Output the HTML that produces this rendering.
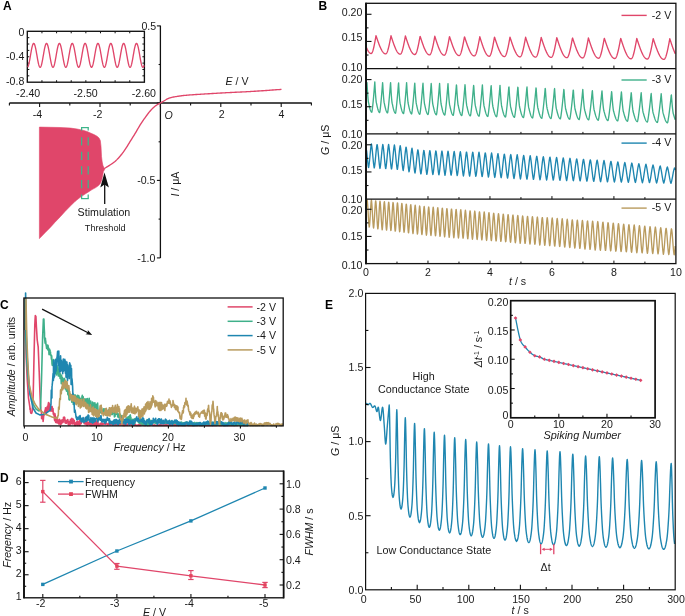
<!DOCTYPE html>
<html><head><meta charset="utf-8"><style>
html,body{margin:0;padding:0;background:#fff;}
svg{display:block;font-family:"Liberation Sans",sans-serif;will-change:transform;}
</style></head><body>
<svg width="685" height="616" viewBox="0 0 685 616">
<rect width="685" height="616" fill="#fff"/>
<text x="3" y="9.8" font-size="12" text-anchor="start" fill="#000" style="font-weight:bold;">A</text>
<line x1="9.4" y1="103" x2="311.7" y2="103" stroke="#111" stroke-width="1.4"/>
<line x1="160.4" y1="25.6" x2="160.4" y2="258" stroke="#111" stroke-width="1.3"/>
<line x1="9.4" y1="103" x2="9.4" y2="105.6" stroke="#111" stroke-width="1.1"/>
<line x1="39.6" y1="103" x2="39.6" y2="107" stroke="#111" stroke-width="1.1"/>
<line x1="69.8" y1="103" x2="69.8" y2="105.6" stroke="#111" stroke-width="1.1"/>
<line x1="100" y1="103" x2="100" y2="107" stroke="#111" stroke-width="1.1"/>
<line x1="130.2" y1="103" x2="130.2" y2="105.6" stroke="#111" stroke-width="1.1"/>
<line x1="160.4" y1="103" x2="160.4" y2="107" stroke="#111" stroke-width="1.1"/>
<line x1="190.6" y1="103" x2="190.6" y2="105.6" stroke="#111" stroke-width="1.1"/>
<line x1="220.8" y1="103" x2="220.8" y2="107" stroke="#111" stroke-width="1.1"/>
<line x1="251" y1="103" x2="251" y2="105.6" stroke="#111" stroke-width="1.1"/>
<line x1="281.2" y1="103" x2="281.2" y2="107" stroke="#111" stroke-width="1.1"/>
<line x1="311.4" y1="103" x2="311.4" y2="105.6" stroke="#111" stroke-width="1.1"/>
<text x="37.5" y="118.4" font-size="10.6" text-anchor="middle" fill="#1a1a1a" style="">-4</text>
<text x="97.6" y="118.4" font-size="10.6" text-anchor="middle" fill="#1a1a1a" style="">-2</text>
<text x="221.6" y="118.4" font-size="10.6" text-anchor="middle" fill="#1a1a1a" style="">2</text>
<text x="281.4" y="118.4" font-size="10.6" text-anchor="middle" fill="#1a1a1a" style="">4</text>
<line x1="156.9" y1="25.9" x2="160.4" y2="25.9" stroke="#111" stroke-width="1.1"/>
<line x1="158.6" y1="64.5" x2="160.4" y2="64.5" stroke="#111" stroke-width="1.1"/>
<line x1="156.9" y1="103" x2="160.4" y2="103" stroke="#111" stroke-width="1.1"/>
<line x1="158.6" y1="141.8" x2="160.4" y2="141.8" stroke="#111" stroke-width="1.1"/>
<line x1="156.9" y1="180.4" x2="160.4" y2="180.4" stroke="#111" stroke-width="1.1"/>
<line x1="158.6" y1="219.1" x2="160.4" y2="219.1" stroke="#111" stroke-width="1.1"/>
<line x1="156.9" y1="257.9" x2="160.4" y2="257.9" stroke="#111" stroke-width="1.1"/>
<text x="156.2" y="29.7" font-size="10.6" text-anchor="end" fill="#1a1a1a" style="">0.5</text>
<text x="155.4" y="184.2" font-size="10.6" text-anchor="end" fill="#1a1a1a" style="">-0.5</text>
<text x="155.4" y="262" font-size="10.6" text-anchor="end" fill="#1a1a1a" style="">-1.0</text>
<text x="164.6" y="119.4" font-size="10.6" text-anchor="start" fill="#1a1a1a" style="font-style:italic;">O</text>
<text x="225.5" y="84.7" font-size="10.6" text-anchor="start" fill="#1a1a1a" style=""><tspan style="font-style:italic">E</tspan> / V</text>
<text x="0" y="0" font-size="10.6" text-anchor="middle" fill="#1a1a1a" style="" transform="translate(179.4,184.1) rotate(-90)"><tspan style="font-style:italic">I</tspan> / μA</text>
<text x="77.6" y="216" font-size="10.65" text-anchor="start" fill="#1a1a1a" style="">Stimulation</text>
<text x="84.8" y="231.1" font-size="9.2" text-anchor="start" fill="#1a1a1a" style="">Threshold</text>
<path d="M39.4 127.1 L50.3 127.3 L60 127.5 L70.6 128.1 L77 129 L82.8 130.2 L87 131.5 L90.9 133.2 L94 134.6 L97 136.2 L99 138 L100.3 140.5 L101 146.4 L101.5 156.5 L102.2 162 L102.9 165.3 L103.8 167.6 L104.6 168.6 L104.6 169.5 L103.4 171.5 L102.8 175 L101.8 179.5 L100.5 183.2 L98.5 185.6 L95.7 187.6 L92 189.6 L88.8 191.7 L85 194.1 L81.2 196.6 L78 199 L75 201.4 L70.6 205.8 L65 211.5 L60.5 216.5 L55 222.2 L50.3 227.4 L45 232.8 L40.2 237.8 L39.4 238.6 Z" fill="#E0466A" stroke="#E0466A" stroke-width="0.6" stroke-linejoin="round"/>
<path d="M104.2 168.6 L104.85 168.21 L106 167.5 L106.64 167.11 L107.39 166.65 L108.22 166.15 L109.1 165.59 L110 165 L110.78 164.48 L111.59 163.94 L112.44 163.36 L113.3 162.75 L114.16 162.1 L115 161.4 L115.83 160.65 L116.67 159.87 L117.5 159.04 L118.33 158.17 L119.17 157.25 L120 156.3 L120.83 155.3 L121.67 154.26 L122.5 153.18 L123.33 152.06 L124.17 150.9 L125 149.7 L125.83 148.45 L126.67 147.14 L127.5 145.79 L128.33 144.42 L129.17 143.05 L130 141.7 L130.83 140.37 L131.67 139.05 L132.5 137.73 L133.33 136.4 L134.17 135.06 L135 133.7 L135.83 132.3 L136.67 130.86 L137.5 129.41 L138.33 127.97 L139.17 126.56 L140 125.2 L140.83 123.89 L141.67 122.62 L142.5 121.38 L143.33 120.17 L144.17 118.97 L145 117.8 L145.83 116.64 L146.67 115.48 L147.5 114.35 L148.33 113.25 L149.17 112.2 L150 111.2 L150.83 110.25 L151.65 109.35 L152.47 108.49 L153.3 107.67 L154.14 106.91 L155 106.2 L155.89 105.56 L156.8 104.98 L157.73 104.46 L158.64 103.96 L159.54 103.48 L160.4 103 L161.41 102.41 L162.41 101.82 L163.36 101.26 L164.24 100.75 L165 100.3 L165.89 99.73 L166.51 99.31 L167.3 98.9 L168.11 98.56 L169.02 98.22 L169.99 97.89 L171 97.6 L171.83 97.39 L172.7 97.2 L173.59 97.03 L174.5 96.86 L175.4 96.7 L176.29 96.55 L177.17 96.41 L178.07 96.27 L179.01 96.14 L180 96 L180.84 95.88 L181.69 95.77 L182.56 95.65 L183.49 95.53 L184.53 95.42 L185.7 95.3 L186.48 95.23 L187.3 95.16 L188.17 95.09 L189.07 95.02 L190.01 94.95 L190.98 94.88 L191.96 94.81 L192.97 94.74 L193.98 94.67 L195 94.6 L195.87 94.54 L196.76 94.48 L197.68 94.42 L198.61 94.36 L199.56 94.3 L200.51 94.24 L201.47 94.18 L202.42 94.13 L203.37 94.07 L204.3 94.01 L205.21 93.95 L206.1 93.9 L207.14 93.84 L208.15 93.77 L209.14 93.71 L210.11 93.65 L211.08 93.59 L212.05 93.54 L213.02 93.48 L213.99 93.42 L214.99 93.36 L216 93.3 L216.94 93.25 L217.89 93.19 L218.85 93.13 L219.81 93.08 L220.78 93.02 L221.76 92.97 L222.73 92.91 L223.7 92.86 L224.68 92.8 L225.64 92.75 L226.6 92.7 L227.55 92.65 L228.51 92.6 L229.46 92.56 L230.41 92.51 L231.36 92.47 L232.31 92.42 L233.26 92.38 L234.2 92.33 L235.14 92.29 L236.07 92.25 L237 92.2 L237.92 92.15 L238.84 92.11 L239.76 92.07 L240.67 92.02 L241.57 91.98 L242.48 91.93 L243.38 91.89 L244.28 91.84 L245.19 91.8 L246.09 91.75 L247 91.7 L247.91 91.65 L248.81 91.6 L249.71 91.55 L250.62 91.49 L251.52 91.44 L252.42 91.39 L253.33 91.33 L254.24 91.27 L255.15 91.22 L256.07 91.16 L257 91.1 L257.95 91.04 L258.93 90.98 L259.94 90.91 L260.95 90.84 L261.96 90.78 L262.97 90.71 L263.96 90.64 L264.91 90.58 L265.83 90.52 L266.69 90.46 L267.5 90.4 L268.63 90.32 L269.62 90.24 L270.51 90.17 L271.35 90.1 L272.19 90.04 L273.05 89.97 L274 89.9 L274.94 89.83 L275.98 89.76 L277.07 89.69 L278.16 89.62 L279.19 89.55 L280.13 89.49 L280.91 89.44 L281.5 89.4" fill="none" stroke="#E0466A" stroke-width="1.35" stroke-linejoin="round"/>
<line x1="81" y1="127.6" x2="88.8" y2="127.6" stroke="#3DB58A" stroke-width="1.25"/>
<line x1="81" y1="198.6" x2="88.8" y2="198.6" stroke="#3DB58A" stroke-width="1.25"/>
<line x1="81.6" y1="127.6" x2="81.6" y2="130.6" stroke="#3DB58A" stroke-width="1.25"/>
<line x1="88.2" y1="127.6" x2="88.2" y2="130.6" stroke="#3DB58A" stroke-width="1.25"/>
<line x1="81.6" y1="137.2" x2="81.6" y2="145.5" stroke="#3DB58A" stroke-width="1.25"/>
<line x1="88.2" y1="137.2" x2="88.2" y2="145.5" stroke="#3DB58A" stroke-width="1.25"/>
<line x1="81.6" y1="151.7" x2="81.6" y2="160" stroke="#3DB58A" stroke-width="1.25"/>
<line x1="88.2" y1="151.7" x2="88.2" y2="160" stroke="#3DB58A" stroke-width="1.25"/>
<line x1="81.6" y1="166.2" x2="81.6" y2="174.5" stroke="#3DB58A" stroke-width="1.25"/>
<line x1="88.2" y1="166.2" x2="88.2" y2="174.5" stroke="#3DB58A" stroke-width="1.25"/>
<line x1="81.6" y1="180" x2="81.6" y2="188.3" stroke="#3DB58A" stroke-width="1.25"/>
<line x1="88.2" y1="180" x2="88.2" y2="188.3" stroke="#3DB58A" stroke-width="1.25"/>
<line x1="81.6" y1="194.5" x2="81.6" y2="198.6" stroke="#3DB58A" stroke-width="1.25"/>
<line x1="88.2" y1="194.5" x2="88.2" y2="198.6" stroke="#3DB58A" stroke-width="1.25"/>
<line x1="104.7" y1="180" x2="104.7" y2="204" stroke="#111" stroke-width="1.3"/>
<path d="M104.5 172.6 L108.9 187.4 L104.5 184.4 L100.3 187.4 Z" fill="#111"/>
<rect x="27.3" y="31.3" width="117.1" height="50.9" stroke="#111" stroke-width="1.35" fill="none"/>
<line x1="41.94" y1="31.3" x2="41.94" y2="33.3" stroke="#111" stroke-width="1"/>
<line x1="41.94" y1="82.2" x2="41.94" y2="80.2" stroke="#111" stroke-width="1"/>
<line x1="27.3" y1="37.66" x2="29.3" y2="37.66" stroke="#111" stroke-width="1"/>
<line x1="144.4" y1="37.66" x2="142.4" y2="37.66" stroke="#111" stroke-width="1"/>
<line x1="56.58" y1="31.3" x2="56.58" y2="33.3" stroke="#111" stroke-width="1"/>
<line x1="56.58" y1="82.2" x2="56.58" y2="80.2" stroke="#111" stroke-width="1"/>
<line x1="27.3" y1="44.03" x2="29.3" y2="44.03" stroke="#111" stroke-width="1"/>
<line x1="144.4" y1="44.03" x2="142.4" y2="44.03" stroke="#111" stroke-width="1"/>
<line x1="71.21" y1="31.3" x2="71.21" y2="33.3" stroke="#111" stroke-width="1"/>
<line x1="71.21" y1="82.2" x2="71.21" y2="80.2" stroke="#111" stroke-width="1"/>
<line x1="27.3" y1="50.39" x2="29.3" y2="50.39" stroke="#111" stroke-width="1"/>
<line x1="144.4" y1="50.39" x2="142.4" y2="50.39" stroke="#111" stroke-width="1"/>
<line x1="85.85" y1="31.3" x2="85.85" y2="33.3" stroke="#111" stroke-width="1"/>
<line x1="85.85" y1="82.2" x2="85.85" y2="80.2" stroke="#111" stroke-width="1"/>
<line x1="27.3" y1="56.75" x2="29.3" y2="56.75" stroke="#111" stroke-width="1"/>
<line x1="144.4" y1="56.75" x2="142.4" y2="56.75" stroke="#111" stroke-width="1"/>
<line x1="100.49" y1="31.3" x2="100.49" y2="33.3" stroke="#111" stroke-width="1"/>
<line x1="100.49" y1="82.2" x2="100.49" y2="80.2" stroke="#111" stroke-width="1"/>
<line x1="27.3" y1="63.11" x2="29.3" y2="63.11" stroke="#111" stroke-width="1"/>
<line x1="144.4" y1="63.11" x2="142.4" y2="63.11" stroke="#111" stroke-width="1"/>
<line x1="115.12" y1="31.3" x2="115.12" y2="33.3" stroke="#111" stroke-width="1"/>
<line x1="115.12" y1="82.2" x2="115.12" y2="80.2" stroke="#111" stroke-width="1"/>
<line x1="27.3" y1="69.48" x2="29.3" y2="69.48" stroke="#111" stroke-width="1"/>
<line x1="144.4" y1="69.48" x2="142.4" y2="69.48" stroke="#111" stroke-width="1"/>
<line x1="129.76" y1="31.3" x2="129.76" y2="33.3" stroke="#111" stroke-width="1"/>
<line x1="129.76" y1="82.2" x2="129.76" y2="80.2" stroke="#111" stroke-width="1"/>
<line x1="27.3" y1="75.84" x2="29.3" y2="75.84" stroke="#111" stroke-width="1"/>
<line x1="144.4" y1="75.84" x2="142.4" y2="75.84" stroke="#111" stroke-width="1"/>
<text x="24.3" y="36" font-size="10.6" text-anchor="end" fill="#1a1a1a" style="">0</text>
<text x="24.3" y="60.3" font-size="10.6" text-anchor="end" fill="#1a1a1a" style="">-0.4</text>
<text x="24.3" y="84.6" font-size="10.6" text-anchor="end" fill="#1a1a1a" style="">-0.8</text>
<text x="28.2" y="96.5" font-size="10.6" text-anchor="middle" fill="#1a1a1a" style="">-2.40</text>
<text x="85.6" y="96.5" font-size="10.6" text-anchor="middle" fill="#1a1a1a" style="">-2.50</text>
<text x="143.9" y="96.5" font-size="10.6" text-anchor="middle" fill="#1a1a1a" style="">-2.60</text>
<path d="M27.6 67.15 L27.85 66.83 L28.1 66.34 L28.35 65.69 L28.6 64.88 L28.85 63.93 L29.1 62.85 L29.35 61.66 L29.6 60.37 L29.85 59.01 L30.1 57.6 L30.35 56.15 L30.6 54.69 L30.85 53.24 L31.1 51.82 L31.35 50.46 L31.6 49.17 L31.85 47.96 L32.1 46.87 L32.35 45.91 L32.6 45.09 L32.85 44.42 L33.1 43.91 L33.35 43.57 L33.6 43.41 L33.85 43.43 L34.1 43.63 L34.35 44 L34.6 44.54 L34.85 45.24 L35.1 46.09 L35.35 47.08 L35.6 48.2 L35.85 49.42 L36.1 50.73 L36.35 52.1 L36.6 53.53 L36.85 54.98 L37.1 56.44 L37.35 57.89 L37.6 59.29 L37.85 60.64 L38.1 61.91 L38.35 63.07 L38.6 64.13 L38.85 65.05 L39.1 65.83 L39.35 66.45 L39.6 66.91 L39.85 67.19 L40.1 67.3 L40.35 67.23 L40.6 66.98 L40.85 66.56 L41.1 65.97 L41.35 65.22 L41.6 64.32 L41.85 63.3 L42.1 62.15 L42.35 60.9 L42.6 59.57 L42.85 58.17 L43.1 56.73 L43.35 55.28 L43.6 53.82 L43.85 52.39 L44.1 51 L44.35 49.67 L44.6 48.43 L44.85 47.3 L45.1 46.28 L45.35 45.4 L45.6 44.67 L45.85 44.09 L46.1 43.69 L46.35 43.46 L46.6 43.4 L46.85 43.53 L47.1 43.83 L47.35 44.3 L47.6 44.94 L47.85 45.73 L48.1 46.67 L48.35 47.74 L48.6 48.92 L48.85 50.19 L49.1 51.55 L49.35 52.96 L49.6 54.4 L49.85 55.86 L50.1 57.31 L50.35 58.74 L50.6 60.11 L50.85 61.41 L51.1 62.62 L51.35 63.72 L51.6 64.7 L51.85 65.54 L52.1 66.22 L52.35 66.75 L52.6 67.1 L52.85 67.28 L53.1 67.28 L53.35 67.1 L53.6 66.75 L53.85 66.22 L54.1 65.54 L54.35 64.7 L54.6 63.72 L54.85 62.62 L55.1 61.41 L55.35 60.11 L55.6 58.74 L55.85 57.31 L56.1 55.86 L56.35 54.4 L56.6 52.96 L56.85 51.55 L57.1 50.19 L57.35 48.92 L57.6 47.74 L57.85 46.67 L58.1 45.73 L58.35 44.94 L58.6 44.3 L58.85 43.83 L59.1 43.53 L59.35 43.4 L59.6 43.46 L59.85 43.69 L60.1 44.09 L60.35 44.67 L60.6 45.4 L60.85 46.28 L61.1 47.3 L61.35 48.43 L61.6 49.67 L61.85 51 L62.1 52.39 L62.35 53.82 L62.6 55.28 L62.85 56.73 L63.1 58.17 L63.35 59.57 L63.6 60.9 L63.85 62.15 L64.1 63.3 L64.35 64.32 L64.6 65.22 L64.85 65.97 L65.1 66.56 L65.35 66.98 L65.6 67.23 L65.85 67.3 L66.1 67.19 L66.35 66.91 L66.6 66.45 L66.85 65.83 L67.1 65.05 L67.35 64.13 L67.6 63.07 L67.85 61.91 L68.1 60.64 L68.35 59.29 L68.6 57.89 L68.85 56.44 L69.1 54.98 L69.35 53.53 L69.6 52.1 L69.85 50.73 L70.1 49.42 L70.35 48.2 L70.6 47.08 L70.85 46.09 L71.1 45.24 L71.35 44.54 L71.6 44 L71.85 43.63 L72.1 43.43 L72.35 43.41 L72.6 43.57 L72.85 43.91 L73.1 44.42 L73.35 45.09 L73.6 45.91 L73.85 46.87 L74.1 47.96 L74.35 49.17 L74.6 50.46 L74.85 51.82 L75.1 53.24 L75.35 54.69 L75.6 56.15 L75.85 57.6 L76.1 59.01 L76.35 60.37 L76.6 61.66 L76.85 62.85 L77.1 63.93 L77.35 64.88 L77.6 65.69 L77.85 66.34 L78.1 66.83 L78.35 67.15 L78.6 67.29 L78.85 67.26 L79.1 67.04 L79.35 66.66 L79.6 66.1 L79.85 65.38 L80.1 64.51 L80.35 63.51 L80.6 62.39 L80.85 61.16 L81.1 59.84 L81.35 58.45 L81.6 57.02 L81.85 55.57 L82.1 54.11 L82.35 52.67 L82.6 51.27 L82.85 49.93 L83.1 48.67 L83.35 47.51 L83.6 46.47 L83.85 45.56 L84.1 44.8 L84.35 44.19 L84.6 43.76 L84.85 43.49 L85.1 43.4 L85.35 43.49 L85.6 43.76 L85.85 44.19 L86.1 44.8 L86.35 45.56 L86.6 46.47 L86.85 47.51 L87.1 48.67 L87.35 49.93 L87.6 51.27 L87.85 52.67 L88.1 54.11 L88.35 55.57 L88.6 57.02 L88.85 58.45 L89.1 59.84 L89.35 61.16 L89.6 62.39 L89.85 63.51 L90.1 64.51 L90.35 65.38 L90.6 66.1 L90.85 66.66 L91.1 67.04 L91.35 67.26 L91.6 67.29 L91.85 67.15 L92.1 66.83 L92.35 66.34 L92.6 65.69 L92.85 64.88 L93.1 63.93 L93.35 62.85 L93.6 61.66 L93.85 60.37 L94.1 59.01 L94.35 57.6 L94.6 56.15 L94.85 54.69 L95.1 53.24 L95.35 51.82 L95.6 50.46 L95.85 49.17 L96.1 47.96 L96.35 46.87 L96.6 45.91 L96.85 45.09 L97.1 44.42 L97.35 43.91 L97.6 43.57 L97.85 43.41 L98.1 43.43 L98.35 43.63 L98.6 44 L98.85 44.54 L99.1 45.24 L99.35 46.09 L99.6 47.08 L99.85 48.2 L100.1 49.42 L100.35 50.73 L100.6 52.1 L100.85 53.53 L101.1 54.98 L101.35 56.44 L101.6 57.89 L101.85 59.29 L102.1 60.64 L102.35 61.91 L102.6 63.07 L102.85 64.13 L103.1 65.05 L103.35 65.83 L103.6 66.45 L103.85 66.91 L104.1 67.19 L104.35 67.3 L104.6 67.23 L104.85 66.98 L105.1 66.56 L105.35 65.97 L105.6 65.22 L105.85 64.32 L106.1 63.3 L106.35 62.15 L106.6 60.9 L106.85 59.57 L107.1 58.17 L107.35 56.73 L107.6 55.28 L107.85 53.82 L108.1 52.39 L108.35 51 L108.6 49.67 L108.85 48.43 L109.1 47.3 L109.35 46.28 L109.6 45.4 L109.85 44.67 L110.1 44.09 L110.35 43.69 L110.6 43.46 L110.85 43.4 L111.1 43.53 L111.35 43.83 L111.6 44.3 L111.85 44.94 L112.1 45.73 L112.35 46.67 L112.6 47.74 L112.85 48.92 L113.1 50.19 L113.35 51.55 L113.6 52.96 L113.85 54.4 L114.1 55.86 L114.35 57.31 L114.6 58.74 L114.85 60.11 L115.1 61.41 L115.35 62.62 L115.6 63.72 L115.85 64.7 L116.1 65.54 L116.35 66.22 L116.6 66.75 L116.85 67.1 L117.1 67.28 L117.35 67.28 L117.6 67.1 L117.85 66.75 L118.1 66.22 L118.35 65.54 L118.6 64.7 L118.85 63.72 L119.1 62.62 L119.35 61.41 L119.6 60.11 L119.85 58.74 L120.1 57.31 L120.35 55.86 L120.6 54.4 L120.85 52.96 L121.1 51.55 L121.35 50.19 L121.6 48.92 L121.85 47.74 L122.1 46.67 L122.35 45.73 L122.6 44.94 L122.85 44.3 L123.1 43.83 L123.35 43.53 L123.6 43.4 L123.85 43.46 L124.1 43.69 L124.35 44.09 L124.6 44.67 L124.85 45.4 L125.1 46.28 L125.35 47.3 L125.6 48.43 L125.85 49.67 L126.1 51 L126.35 52.39 L126.6 53.82 L126.85 55.28 L127.1 56.73 L127.35 58.17 L127.6 59.57 L127.85 60.9 L128.1 62.15 L128.35 63.3 L128.6 64.32 L128.85 65.22 L129.1 65.97 L129.35 66.56 L129.6 66.98 L129.85 67.23 L130.1 67.3 L130.35 67.19 L130.6 66.91 L130.85 66.45 L131.1 65.83 L131.35 65.05 L131.6 64.13 L131.85 63.07 L132.1 61.91 L132.35 60.64 L132.6 59.29 L132.85 57.89 L133.1 56.44 L133.35 54.98 L133.6 53.53 L133.85 52.1 L134.1 50.73 L134.35 49.42 L134.6 48.2 L134.85 47.08 L135.1 46.09 L135.35 45.24 L135.6 44.54 L135.85 44 L136.1 43.63 L136.35 43.43 L136.6 43.41 L136.85 43.57 L137.1 43.91 L137.35 44.42 L137.6 45.09 L137.85 45.91 L138.1 46.87 L138.35 47.96 L138.6 49.17 L138.85 50.46 L139.1 51.82 L139.35 53.24 L139.6 54.69 L139.85 56.15 L140.1 57.6 L140.35 59.01 L140.6 60.37 L140.85 61.66 L141.1 62.85 L141.35 63.93 L141.6 64.88 L141.85 65.69 L142.1 66.34 L142.35 66.83 L142.6 67.15 L142.85 67.29 L143.1 67.26 L143.35 67.04 L143.6 66.66 L143.85 66.1 L144.1 65.38" fill="none" stroke="#E0466A" stroke-width="1.35" stroke-linejoin="round"/>
<text x="318.6" y="10" font-size="12" text-anchor="start" fill="#000" style="font-weight:bold;">B</text>
<path d="M366.6 47.82 L366.8 48.28 L367 48.73 L367.2 49.16 L367.4 49.58 L367.6 49.97 L367.8 50.35 L368 50.71 L368.2 51.04 L368.4 51.36 L368.6 51.66 L368.8 51.94 L369 52.19 L369.2 52.43 L369.4 52.64 L369.6 52.83 L369.8 52.99 L370 53.14 L370.2 53.26 L370.4 53.36 L370.6 53.43 L370.8 53.48 L371 53.51 L371.2 53.51 L371.4 53.44 L371.6 53.3 L371.8 53.09 L372 52.8 L372.2 52.44 L372.4 52.02 L372.6 51.52 L372.8 50.96 L373 50.34 L373.2 49.65 L373.4 48.91 L373.6 48.11 L373.8 47.26 L374 46.36 L374.2 45.42 L374.4 44.43 L374.6 43.41 L374.8 42.36 L375 41.28 L375.2 40.17 L375.4 39.05 L375.6 37.91 L375.8 36.76 L376 35.61 L376.2 36.2 L376.4 36.8 L376.6 37.39 L376.8 37.97 L377 38.56 L377.2 39.14 L377.4 39.72 L377.6 40.3 L377.8 40.87 L378 41.43 L378.2 41.99 L378.4 42.55 L378.6 43.09 L378.8 43.63 L379 44.16 L379.2 44.68 L379.4 45.19 L379.6 45.69 L379.8 46.18 L380 46.66 L380.2 47.12 L380.4 47.58 L380.6 48.02 L380.8 48.45 L381 48.86 L381.2 49.26 L381.4 49.65 L381.6 50.02 L381.8 50.38 L382 50.72 L382.2 51.05 L382.4 51.36 L382.6 51.65 L382.8 51.92 L383 52.18 L383.2 52.42 L383.4 52.64 L383.6 52.85 L383.8 53.03 L384 53.2 L384.2 53.35 L384.4 53.48 L384.6 53.59 L384.8 53.68 L385 53.75 L385.2 53.81 L385.4 53.84 L385.6 53.85 L385.8 53.83 L386 53.74 L386.2 53.59 L386.4 53.38 L386.6 53.11 L386.8 52.79 L387 52.4 L387.2 51.96 L387.4 51.46 L387.6 50.91 L387.8 50.31 L388 49.66 L388.2 48.96 L388.4 48.22 L388.6 47.43 L388.8 46.61 L389 45.74 L389.2 44.85 L389.4 43.92 L389.6 42.97 L389.8 41.99 L390 40.98 L390.2 39.97 L390.4 38.93 L390.6 37.89 L390.8 36.84 L391 35.78 L391.2 36.4 L391.4 37.02 L391.6 37.65 L391.8 38.26 L392 38.88 L392.2 39.49 L392.4 40.1 L392.6 40.7 L392.8 41.3 L393 41.89 L393.2 42.48 L393.4 43.06 L393.6 43.63 L393.8 44.19 L394 44.74 L394.2 45.28 L394.4 45.81 L394.6 46.32 L394.8 46.83 L395 47.32 L395.2 47.8 L395.4 48.27 L395.6 48.72 L395.8 49.16 L396 49.58 L396.2 49.99 L396.4 50.37 L396.6 50.75 L396.8 51.1 L397 51.44 L397.2 51.76 L397.4 52.06 L397.6 52.34 L397.8 52.61 L398 52.85 L398.2 53.08 L398.4 53.28 L398.6 53.46 L398.8 53.63 L399 53.77 L399.2 53.89 L399.4 54 L399.6 54.08 L399.8 54.14 L400 54.17 L400.2 54.19 L400.4 54.17 L400.6 54.08 L400.8 53.92 L401 53.7 L401.2 53.41 L401.4 53.05 L401.6 52.64 L401.8 52.16 L402 51.62 L402.2 51.02 L402.4 50.37 L402.6 49.67 L402.8 48.91 L403 48.11 L403.2 47.26 L403.4 46.37 L403.6 45.44 L403.8 44.48 L404 43.48 L404.2 42.46 L404.4 41.41 L404.6 40.34 L404.8 39.25 L405 38.16 L405.2 37.05 L405.4 35.94 L405.6 36.56 L405.8 37.17 L406 37.79 L406.2 38.4 L406.4 39.01 L406.6 39.61 L406.8 40.22 L407 40.81 L407.2 41.41 L407.4 41.99 L407.6 42.57 L407.8 43.14 L408 43.71 L408.2 44.27 L408.4 44.81 L408.6 45.35 L408.8 45.88 L409 46.39 L409.2 46.9 L409.4 47.39 L409.6 47.87 L409.8 48.34 L410 48.79 L410.2 49.23 L410.4 49.66 L410.6 50.07 L410.8 50.46 L411 50.84 L411.2 51.2 L411.4 51.54 L411.6 51.87 L411.8 52.18 L412 52.47 L412.2 52.75 L412.4 53 L412.6 53.24 L412.8 53.45 L413 53.65 L413.2 53.83 L413.4 53.99 L413.6 54.13 L413.8 54.24 L414 54.34 L414.2 54.42 L414.4 54.48 L414.6 54.51 L414.8 54.53 L415 54.5 L415.2 54.41 L415.4 54.26 L415.6 54.04 L415.8 53.76 L416 53.41 L416.2 53 L416.4 52.54 L416.6 52.01 L416.8 51.43 L417 50.8 L417.2 50.11 L417.4 49.37 L417.6 48.59 L417.8 47.76 L418 46.89 L418.2 45.99 L418.4 45.04 L418.6 44.07 L418.8 43.07 L419 42.04 L419.2 40.99 L419.4 39.92 L419.6 38.84 L419.8 37.75 L420 36.65 L420.2 36.42 L420.4 37.04 L420.6 37.66 L420.8 38.28 L421 38.89 L421.2 39.51 L421.4 40.12 L421.6 40.72 L421.8 41.32 L422 41.92 L422.2 42.51 L422.4 43.09 L422.6 43.66 L422.8 44.23 L423 44.79 L423.2 45.33 L423.4 45.87 L423.6 46.4 L423.8 46.91 L424 47.42 L424.2 47.91 L424.4 48.39 L424.6 48.85 L424.8 49.3 L425 49.74 L425.2 50.16 L425.4 50.57 L425.6 50.96 L425.8 51.33 L426 51.69 L426.2 52.02 L426.4 52.35 L426.6 52.65 L426.8 52.93 L427 53.2 L427.2 53.45 L427.4 53.68 L427.6 53.89 L427.8 54.08 L428 54.25 L428.2 54.4 L428.4 54.53 L428.6 54.63 L428.8 54.72 L429 54.79 L429.2 54.84 L429.4 54.86 L429.6 54.86 L429.8 54.81 L430 54.68 L430.2 54.49 L430.4 54.24 L430.6 53.92 L430.8 53.54 L431 53.1 L431.2 52.6 L431.4 52.04 L431.6 51.43 L431.8 50.76 L432 50.04 L432.2 49.28 L432.4 48.46 L432.6 47.6 L432.8 46.71 L433 45.77 L433.2 44.8 L433.4 43.81 L433.6 42.78 L433.8 41.73 L434 40.66 L434.2 39.58 L434.4 38.48 L434.6 37.38 L434.8 36.27 L435 36.9 L435.2 37.52 L435.4 38.15 L435.6 38.77 L435.8 39.39 L436 40.01 L436.2 40.63 L436.4 41.24 L436.6 41.84 L436.8 42.44 L437 43.03 L437.2 43.61 L437.4 44.19 L437.6 44.75 L437.8 45.31 L438 45.86 L438.2 46.4 L438.4 46.92 L438.6 47.44 L438.8 47.94 L439 48.43 L439.2 48.9 L439.4 49.37 L439.6 49.81 L439.8 50.25 L440 50.66 L440.2 51.06 L440.4 51.45 L440.6 51.82 L440.8 52.17 L441 52.5 L441.2 52.82 L441.4 53.12 L441.6 53.39 L441.8 53.65 L442 53.89 L442.2 54.12 L442.4 54.32 L442.6 54.5 L442.8 54.66 L443 54.8 L443.2 54.92 L443.4 55.02 L443.6 55.1 L443.8 55.16 L444 55.19 L444.2 55.21 L444.4 55.18 L444.6 55.09 L444.8 54.93 L445 54.71 L445.2 54.42 L445.4 54.07 L445.6 53.66 L445.8 53.18 L446 52.65 L446.2 52.05 L446.4 51.41 L446.6 50.71 L446.8 49.96 L447 49.16 L447.2 48.31 L447.4 47.43 L447.6 46.5 L447.8 45.54 L448 44.55 L448.2 43.53 L448.4 42.48 L448.6 41.41 L448.8 40.32 L449 39.22 L449.2 38.11 L449.4 36.99 L449.6 36.75 L449.8 37.37 L450 37.99 L450.2 38.6 L450.4 39.22 L450.6 39.83 L450.8 40.44 L451 41.05 L451.2 41.65 L451.4 42.24 L451.6 42.83 L451.8 43.42 L452 43.99 L452.2 44.56 L452.4 45.12 L452.6 45.67 L452.8 46.21 L453 46.74 L453.2 47.26 L453.4 47.76 L453.6 48.26 L453.8 48.74 L454 49.21 L454.2 49.67 L454.4 50.11 L454.6 50.54 L454.8 50.95 L455 51.35 L455.2 51.73 L455.4 52.1 L455.6 52.45 L455.8 52.78 L456 53.09 L456.2 53.39 L456.4 53.67 L456.6 53.93 L456.8 54.17 L457 54.4 L457.2 54.6 L457.4 54.78 L457.6 54.95 L457.8 55.1 L458 55.22 L458.2 55.33 L458.4 55.41 L458.6 55.48 L458.8 55.52 L459 55.55 L459.2 55.55 L459.4 55.49 L459.6 55.36 L459.8 55.18 L460 54.93 L460.2 54.61 L460.4 54.24 L460.6 53.81 L460.8 53.31 L461 52.76 L461.2 52.16 L461.4 51.5 L461.6 50.79 L461.8 50.04 L462 49.24 L462.2 48.39 L462.4 47.51 L462.6 46.58 L462.8 45.63 L463 44.64 L463.2 43.63 L463.4 42.59 L463.6 41.53 L463.8 40.45 L464 39.36 L464.2 38.26 L464.4 37.16 L464.6 36.91 L464.8 37.52 L465 38.14 L465.2 38.75 L465.4 39.36 L465.6 39.97 L465.8 40.57 L466 41.17 L466.2 41.77 L466.4 42.36 L466.6 42.94 L466.8 43.52 L467 44.09 L467.2 44.65 L467.4 45.21 L467.6 45.76 L467.8 46.29 L468 46.82 L468.2 47.34 L468.4 47.84 L468.6 48.34 L468.8 48.82 L469 49.29 L469.2 49.75 L469.4 50.2 L469.6 50.63 L469.8 51.04 L470 51.45 L470.2 51.83 L470.4 52.2 L470.6 52.56 L470.8 52.9 L471 53.22 L471.2 53.53 L471.4 53.81 L471.6 54.08 L471.8 54.34 L472 54.57 L472.2 54.79 L472.4 54.99 L472.6 55.16 L472.8 55.32 L473 55.46 L473.2 55.59 L473.4 55.69 L473.6 55.77 L473.8 55.83 L474 55.88 L474.2 55.9 L474.4 55.9 L474.6 55.84 L474.8 55.72 L475 55.53 L475.2 55.29 L475.4 54.98 L475.6 54.61 L475.8 54.19 L476 53.71 L476.2 53.17 L476.4 52.58 L476.6 51.94 L476.8 51.25 L477 50.51 L477.2 49.73 L477.4 48.91 L477.6 48.04 L477.8 47.14 L478 46.2 L478.2 45.23 L478.4 44.24 L478.6 43.22 L478.8 42.18 L479 41.12 L479.2 40.05 L479.4 38.96 L479.6 37.87 L479.8 36.77 L480 37.42 L480.2 38.06 L480.4 38.71 L480.6 39.35 L480.8 39.99 L481 40.62 L481.2 41.25 L481.4 41.88 L481.6 42.5 L481.8 43.12 L482 43.72 L482.2 44.32 L482.4 44.92 L482.6 45.5 L482.8 46.07 L483 46.64 L483.2 47.19 L483.4 47.73 L483.6 48.26 L483.8 48.78 L484 49.28 L484.2 49.77 L484.4 50.24 L484.6 50.7 L484.8 51.15 L485 51.58 L485.2 51.99 L485.4 52.39 L485.6 52.76 L485.8 53.13 L486 53.47 L486.2 53.79 L486.4 54.1 L486.6 54.39 L486.8 54.65 L487 54.9 L487.2 55.13 L487.4 55.33 L487.6 55.52 L487.8 55.69 L488 55.83 L488.2 55.95 L488.4 56.06 L488.6 56.14 L488.8 56.2 L489 56.23 L489.2 56.25 L489.4 56.22 L489.6 56.13 L489.8 55.97 L490 55.74 L490.2 55.44 L490.4 55.08 L490.6 54.65 L490.8 54.16 L491 53.61 L491.2 53 L491.4 52.34 L491.6 51.62 L491.8 50.85 L492 50.02 L492.2 49.16 L492.4 48.24 L492.6 47.29 L492.8 46.31 L493 45.28 L493.2 44.23 L493.4 43.16 L493.6 42.06 L493.8 40.94 L494 39.81 L494.2 38.66 L494.4 37.51 L494.6 37.25 L494.8 37.86 L495 38.48 L495.2 39.1 L495.4 39.71 L495.6 40.32 L495.8 40.93 L496 41.53 L496.2 42.13 L496.4 42.73 L496.6 43.31 L496.8 43.9 L497 44.47 L497.2 45.04 L497.4 45.6 L497.6 46.15 L497.8 46.69 L498 47.23 L498.2 47.75 L498.4 48.26 L498.6 48.76 L498.8 49.25 L499 49.73 L499.2 50.19 L499.4 50.65 L499.6 51.08 L499.8 51.51 L500 51.92 L500.2 52.31 L500.4 52.69 L500.6 53.05 L500.8 53.4 L501 53.73 L501.2 54.04 L501.4 54.34 L501.6 54.62 L501.8 54.88 L502 55.12 L502.2 55.35 L502.4 55.55 L502.6 55.74 L502.8 55.91 L503 56.06 L503.2 56.19 L503.4 56.31 L503.6 56.4 L503.8 56.47 L504 56.53 L504.2 56.56 L504.4 56.58 L504.6 56.56 L504.8 56.47 L505 56.33 L505.2 56.12 L505.4 55.86 L505.6 55.53 L505.8 55.15 L506 54.7 L506.2 54.21 L506.4 53.65 L506.6 53.05 L506.8 52.39 L507 51.69 L507.2 50.94 L507.4 50.14 L507.6 49.31 L507.8 48.43 L508 47.52 L508.2 46.58 L508.4 45.6 L508.6 44.6 L508.8 43.57 L509 42.53 L509.2 41.46 L509.4 40.39 L509.6 39.3 L509.8 38.2 L510 37.1 L510.2 37.72 L510.4 38.34 L510.6 38.95 L510.8 39.57 L511 40.18 L511.2 40.79 L511.4 41.4 L511.6 42 L511.8 42.59 L512 43.19 L512.2 43.77 L512.4 44.35 L512.6 44.92 L512.8 45.49 L513 46.04 L513.2 46.59 L513.4 47.13 L513.6 47.66 L513.8 48.17 L514 48.68 L514.2 49.18 L514.4 49.66 L514.6 50.13 L514.8 50.59 L515 51.04 L515.2 51.47 L515.4 51.89 L515.6 52.29 L515.8 52.68 L516 53.05 L516.2 53.41 L516.4 53.75 L516.6 54.08 L516.8 54.38 L517 54.68 L517.2 54.95 L517.4 55.21 L517.6 55.45 L517.8 55.67 L518 55.87 L518.2 56.05 L518.4 56.22 L518.6 56.36 L518.8 56.49 L519 56.6 L519.2 56.69 L519.4 56.76 L519.6 56.81 L519.8 56.84 L520 56.85 L520.2 56.82 L520.4 56.73 L520.6 56.57 L520.8 56.36 L521 56.08 L521.2 55.75 L521.4 55.36 L521.6 54.91 L521.8 54.4 L522 53.84 L522.2 53.23 L522.4 52.57 L522.6 51.86 L522.8 51.11 L523 50.31 L523.2 49.47 L523.4 48.6 L523.6 47.68 L523.8 46.74 L524 45.76 L524.2 44.76 L524.4 43.73 L524.6 42.69 L524.8 41.62 L525 40.54 L525.2 39.46 L525.4 38.36 L525.6 37.26 L525.8 37.88 L526 38.5 L526.2 39.12 L526.4 39.74 L526.6 40.36 L526.8 40.97 L527 41.58 L527.2 42.19 L527.4 42.79 L527.6 43.38 L527.8 43.97 L528 44.55 L528.2 45.13 L528.4 45.7 L528.6 46.25 L528.8 46.81 L529 47.35 L529.2 47.88 L529.4 48.4 L529.6 48.91 L529.8 49.41 L530 49.89 L530.2 50.37 L530.4 50.83 L530.6 51.28 L530.8 51.71 L531 52.13 L531.2 52.54 L531.4 52.93 L531.6 53.31 L531.8 53.66 L532 54.01 L532.2 54.34 L532.4 54.65 L532.6 54.94 L532.8 55.21 L533 55.47 L533.2 55.71 L533.4 55.93 L533.6 56.14 L533.8 56.32 L534 56.49 L534.2 56.64 L534.4 56.76 L534.6 56.87 L534.8 56.96 L535 57.03 L535.2 57.08 L535.4 57.12 L535.6 57.13 L535.8 57.09 L536 57 L536.2 56.84 L536.4 56.63 L536.6 56.35 L536.8 56.02 L537 55.62 L537.2 55.17 L537.4 54.66 L537.6 54.1 L537.8 53.49 L538 52.82 L538.2 52.11 L538.4 51.35 L538.6 50.55 L538.8 49.7 L539 48.82 L539.2 47.9 L539.4 46.95 L539.6 45.97 L539.8 44.96 L540 43.93 L540.2 42.88 L540.4 41.81 L540.6 40.72 L540.8 39.63 L541 38.53 L541.2 37.42 L541.4 38.05 L541.6 38.67 L541.8 39.29 L542 39.92 L542.2 40.54 L542.4 41.15 L542.6 41.76 L542.8 42.37 L543 42.98 L543.2 43.58 L543.4 44.17 L543.6 44.75 L543.8 45.33 L544 45.9 L544.2 46.47 L544.4 47.02 L544.6 47.56 L544.8 48.1 L545 48.62 L545.2 49.14 L545.4 49.64 L545.6 50.13 L545.8 50.6 L546 51.07 L546.2 51.52 L546.4 51.96 L546.6 52.38 L546.8 52.79 L547 53.18 L547.2 53.56 L547.4 53.92 L547.6 54.27 L547.8 54.59 L548 54.91 L548.2 55.2 L548.4 55.48 L548.6 55.74 L548.8 55.98 L549 56.2 L549.2 56.41 L549.4 56.59 L549.6 56.76 L549.8 56.91 L550 57.04 L550.2 57.15 L550.4 57.24 L550.6 57.31 L550.8 57.36 L551 57.39 L551.2 57.4 L551.4 57.37 L551.6 57.27 L551.8 57.12 L552 56.9 L552.2 56.62 L552.4 56.28 L552.6 55.89 L552.8 55.43 L553 54.92 L553.2 54.36 L553.4 53.74 L553.6 53.07 L553.8 52.35 L554 51.59 L554.2 50.78 L554.4 49.94 L554.6 49.05 L554.8 48.12 L555 47.17 L555.2 46.18 L555.4 45.16 L555.6 44.13 L555.8 43.07 L556 41.99 L556.2 40.9 L556.4 39.8 L556.6 38.69 L556.8 37.58 L557 38.21 L557.2 38.83 L557.4 39.45 L557.6 40.07 L557.8 40.69 L558 41.31 L558.2 41.92 L558.4 42.53 L558.6 43.13 L558.8 43.73 L559 44.33 L559.2 44.91 L559.4 45.49 L559.6 46.06 L559.8 46.62 L560 47.18 L560.2 47.72 L560.4 48.26 L560.6 48.78 L560.8 49.3 L561 49.8 L561.2 50.29 L561.4 50.77 L561.6 51.24 L561.8 51.69 L562 52.13 L562.2 52.55 L562.4 52.96 L562.6 53.36 L562.8 53.74 L563 54.1 L563.2 54.45 L563.4 54.79 L563.6 55.1 L563.8 55.4 L564 55.68 L564.2 55.94 L564.4 56.19 L564.6 56.42 L564.8 56.63 L565 56.82 L565.2 56.99 L565.4 57.14 L565.6 57.28 L565.8 57.39 L566 57.49 L566.2 57.56 L566.4 57.62 L566.6 57.66 L566.8 57.68 L567 57.66 L567.2 57.59 L567.4 57.45 L567.6 57.26 L567.8 57 L568 56.68 L568.2 56.31 L568.4 55.87 L568.6 55.38 L568.8 54.84 L569 54.24 L569.2 53.59 L569.4 52.9 L569.6 52.15 L569.8 51.36 L570 50.53 L570.2 49.66 L570.4 48.75 L570.6 47.81 L570.8 46.84 L571 45.83 L571.2 44.81 L571.4 43.76 L571.6 42.69 L571.8 41.61 L572 40.51 L572.2 39.41 L572.4 38.3 L572.6 38.05 L572.8 38.67 L573 39.29 L573.2 39.91 L573.4 40.53 L573.6 41.14 L573.8 41.75 L574 42.36 L574.2 42.96 L574.4 43.56 L574.6 44.15 L574.8 44.74 L575 45.32 L575.2 45.89 L575.4 46.45 L575.6 47.01 L575.8 47.56 L576 48.1 L576.2 48.63 L576.4 49.14 L576.6 49.65 L576.8 50.15 L577 50.63 L577.2 51.11 L577.4 51.57 L577.6 52.01 L577.8 52.45 L578 52.87 L578.2 53.27 L578.4 53.66 L578.6 54.04 L578.8 54.4 L579 54.74 L579.2 55.07 L579.4 55.38 L579.6 55.68 L579.8 55.96 L580 56.22 L580.2 56.46 L580.4 56.69 L580.6 56.9 L580.8 57.09 L581 57.26 L581.2 57.41 L581.4 57.55 L581.6 57.66 L581.8 57.76 L582 57.83 L582.2 57.89 L582.4 57.93 L582.6 57.95 L582.8 57.95 L583 57.88 L583.2 57.76 L583.4 57.57 L583.6 57.33 L583.8 57.03 L584 56.67 L584.2 56.25 L584.4 55.78 L584.6 55.25 L584.8 54.67 L585 54.04 L585.2 53.36 L585.4 52.64 L585.6 51.87 L585.8 51.05 L586 50.2 L586.2 49.31 L586.4 48.39 L586.6 47.43 L586.8 46.45 L587 45.44 L587.2 44.41 L587.4 43.35 L587.6 42.28 L587.8 41.2 L588 40.11 L588.2 39.01 L588.4 37.9 L588.6 38.53 L588.8 39.15 L589 39.77 L589.2 40.4 L589.4 41.01 L589.6 41.63 L589.8 42.24 L590 42.85 L590.2 43.45 L590.4 44.05 L590.6 44.65 L590.8 45.23 L591 45.81 L591.2 46.38 L591.4 46.95 L591.6 47.5 L591.8 48.05 L592 48.59 L592.2 49.11 L592.4 49.63 L592.6 50.14 L592.8 50.63 L593 51.11 L593.2 51.58 L593.4 52.04 L593.6 52.48 L593.8 52.91 L594 53.32 L594.2 53.72 L594.4 54.11 L594.6 54.48 L594.8 54.83 L595 55.17 L595.2 55.5 L595.4 55.8 L595.6 56.09 L595.8 56.36 L596 56.61 L596.2 56.85 L596.4 57.07 L596.6 57.27 L596.8 57.45 L597 57.61 L597.2 57.76 L597.4 57.88 L597.6 57.99 L597.8 58.08 L598 58.15 L598.2 58.2 L598.4 58.23 L598.6 58.24 L598.8 58.2 L599 58.11 L599.2 57.95 L599.4 57.74 L599.6 57.46 L599.8 57.13 L600 56.74 L600.2 56.29 L600.4 55.79 L600.6 55.23 L600.8 54.62 L601 53.96 L601.2 53.26 L601.4 52.5 L601.6 51.71 L601.8 50.87 L602 49.99 L602.2 49.08 L602.4 48.14 L602.6 47.16 L602.8 46.16 L603 45.13 L603.2 44.08 L603.4 43.01 L603.6 41.93 L603.8 40.83 L604 39.73 L604.2 38.62 L604.4 38.37 L604.6 38.98 L604.8 39.59 L605 40.19 L605.2 40.8 L605.4 41.4 L605.6 42 L605.8 42.6 L606 43.19 L606.2 43.78 L606.4 44.36 L606.6 44.94 L606.8 45.51 L607 46.07 L607.2 46.63 L607.4 47.18 L607.6 47.72 L607.8 48.25 L608 48.78 L608.2 49.29 L608.4 49.8 L608.6 50.29 L608.8 50.78 L609 51.25 L609.2 51.71 L609.4 52.16 L609.6 52.59 L609.8 53.02 L610 53.43 L610.2 53.82 L610.4 54.2 L610.6 54.57 L610.8 54.93 L611 55.26 L611.2 55.59 L611.4 55.89 L611.6 56.18 L611.8 56.46 L612 56.72 L612.2 56.96 L612.4 57.19 L612.6 57.4 L612.8 57.59 L613 57.76 L613.2 57.92 L613.4 58.06 L613.6 58.18 L613.8 58.28 L614 58.36 L614.2 58.43 L614.4 58.48 L614.6 58.51 L614.8 58.52 L615 58.5 L615.2 58.41 L615.4 58.27 L615.6 58.07 L615.8 57.82 L616 57.51 L616.2 57.14 L616.4 56.72 L616.6 56.25 L616.8 55.73 L617 55.16 L617.2 54.54 L617.4 53.87 L617.6 53.16 L617.8 52.41 L618 51.61 L618.2 50.78 L618.4 49.92 L618.6 49.01 L618.8 48.08 L619 47.12 L619.2 46.14 L619.4 45.13 L619.6 44.1 L619.8 43.06 L620 42 L620.2 40.93 L620.4 39.86 L620.6 38.78 L620.8 38.55 L621 39.17 L621.2 39.79 L621.4 40.41 L621.6 41.03 L621.8 41.65 L622 42.26 L622.2 42.87 L622.4 43.48 L622.6 44.08 L622.8 44.68 L623 45.27 L623.2 45.85 L623.4 46.43 L623.6 47 L623.8 47.56 L624 48.11 L624.2 48.65 L624.4 49.19 L624.6 49.71 L624.8 50.23 L625 50.73 L625.2 51.22 L625.4 51.7 L625.6 52.16 L625.8 52.62 L626 53.06 L626.2 53.48 L626.4 53.9 L626.6 54.29 L626.8 54.68 L627 55.05 L627.2 55.4 L627.4 55.74 L627.6 56.06 L627.8 56.36 L628 56.65 L628.2 56.92 L628.4 57.17 L628.6 57.41 L628.8 57.63 L629 57.83 L629.2 58.01 L629.4 58.17 L629.6 58.32 L629.8 58.44 L630 58.55 L630.2 58.64 L630.4 58.71 L630.6 58.76 L630.8 58.79 L631 58.81 L631.2 58.78 L631.4 58.7 L631.6 58.55 L631.8 58.35 L632 58.08 L632.2 57.76 L632.4 57.38 L632.6 56.95 L632.8 56.46 L633 55.92 L633.2 55.32 L633.4 54.68 L633.6 53.99 L633.8 53.25 L634 52.47 L634.2 51.65 L634.4 50.78 L634.6 49.88 L634.8 48.95 L635 47.99 L635.2 47 L635.4 45.98 L635.6 44.94 L635.8 43.88 L636 42.8 L636.2 41.71 L636.4 40.61 L636.6 39.51 L636.8 38.4 L637 39.01 L637.2 39.63 L637.4 40.24 L637.6 40.86 L637.8 41.47 L638 42.08 L638.2 42.68 L638.4 43.28 L638.6 43.88 L638.8 44.47 L639 45.06 L639.2 45.64 L639.4 46.21 L639.6 46.78 L639.8 47.34 L640 47.89 L640.2 48.44 L640.4 48.97 L640.6 49.5 L640.8 50.01 L641 50.52 L641.2 51.01 L641.4 51.5 L641.6 51.97 L641.8 52.43 L642 52.88 L642.2 53.31 L642.4 53.73 L642.6 54.14 L642.8 54.54 L643 54.91 L643.2 55.28 L643.4 55.63 L643.6 55.96 L643.8 56.28 L644 56.58 L644.2 56.87 L644.4 57.14 L644.6 57.4 L644.8 57.63 L645 57.85 L645.2 58.05 L645.4 58.24 L645.6 58.41 L645.8 58.55 L646 58.69 L646.2 58.8 L646.4 58.89 L646.6 58.97 L646.8 59.03 L647 59.07 L647.2 59.09 L647.4 59.09 L647.6 59.03 L647.8 58.92 L648 58.75 L648.2 58.52 L648.4 58.23 L648.6 57.89 L648.8 57.49 L649 57.04 L649.2 56.54 L649.4 55.99 L649.6 55.38 L649.8 54.73 L650 54.04 L650.2 53.29 L650.4 52.51 L650.6 51.69 L650.8 50.83 L651 49.93 L651.2 49.01 L651.4 48.05 L651.6 47.07 L651.8 46.06 L652 45.03 L652.2 43.98 L652.4 42.92 L652.6 41.84 L652.8 40.75 L653 39.66 L653.2 38.57 L653.4 39.18 L653.6 39.79 L653.8 40.4 L654 41.01 L654.2 41.62 L654.4 42.22 L654.6 42.82 L654.8 43.42 L655 44.01 L655.2 44.6 L655.4 45.19 L655.6 45.77 L655.8 46.34 L656 46.9 L656.2 47.46 L656.4 48.01 L656.6 48.55 L656.8 49.09 L657 49.61 L657.2 50.13 L657.4 50.63 L657.6 51.13 L657.8 51.61 L658 52.08 L658.2 52.54 L658.4 52.99 L658.6 53.43 L658.8 53.85 L659 54.26 L659.2 54.66 L659.4 55.04 L659.6 55.41 L659.8 55.76 L660 56.1 L660.2 56.42 L660.4 56.73 L660.6 57.02 L660.8 57.3 L661 57.56 L661.2 57.8 L661.4 58.03 L661.6 58.24 L661.8 58.43 L662 58.61 L662.2 58.76 L662.4 58.9 L662.6 59.03 L662.8 59.13 L663 59.22 L663.2 59.29 L663.4 59.34 L663.6 59.37 L663.8 59.38 L664 59.37 L664.2 59.29 L664.4 59.16 L664.6 58.97 L664.8 58.72 L665 58.42 L665.2 58.07 L665.4 57.66 L665.6 57.2 L665.8 56.69 L666 56.13 L666.2 55.51 L666.4 54.86 L666.6 54.16 L666.8 53.41 L667 52.63 L667.2 51.8 L667.4 50.94 L667.6 50.05 L667.8 49.12 L668 48.17 L668.2 47.19 L668.4 46.18 L668.6 45.16 L668.8 44.12 L669 43.06 L669.2 41.99 L669.4 40.91 L669.6 39.83 L669.8 38.74 L670 39.35 L670.2 39.97 L670.4 40.58 L670.6 41.19 L670.8 41.81 L671 42.41 L671.2 43.02 L671.4 43.62 L671.6 44.22 L671.8 44.81 L672 45.4 L672.2 45.98 L672.4 46.55 L672.6 47.12 L672.8 47.68 L673 48.24 L673.2 48.78 L673.4 49.32 L673.6 49.85 L673.8 50.37 L674 50.87 L674.2 51.37 L674.4 51.86 L674.6 52.33 L674.8 52.8 L675 53.25 L675.2 53.69" fill="none" stroke="#E0466A" stroke-width="1.35" stroke-linejoin="round"/>
<path d="M366.6 86.25 L366.8 83.68 L367 82.69 L367.2 86.42 L367.4 89.86 L367.6 92.99 L367.8 95.79 L368 98.23 L368.2 100.27 L368.4 101.86 L368.6 102.85 L368.8 103.64 L369 104.63 L369.2 105.57 L369.4 106.45 L369.6 107.28 L369.8 108.05 L370 108.76 L370.2 109.42 L370.4 110.01 L370.6 110.54 L370.8 111 L371 111.4 L371.2 111.73 L371.4 111.99 L371.6 112.16 L371.8 112.25 L372 111.45 L372.2 110.15 L372.4 108.62 L372.6 106.92 L372.8 105.09 L373 103.13 L373.2 101.08 L373.4 98.93 L373.6 96.7 L373.8 94.38 L374 92 L374.2 89.55 L374.4 87.04 L374.6 84.46 L374.8 81.83 L375 85.66 L375.2 89.19 L375.4 92.43 L375.6 95.33 L375.8 97.89 L376 100.05 L376.2 101.77 L376.4 102.94 L376.6 103.65 L376.8 104.67 L377 105.62 L377.2 106.53 L377.4 107.38 L377.6 108.17 L377.8 108.9 L378 109.57 L378.2 110.18 L378.4 110.73 L378.6 111.22 L378.8 111.64 L379 111.99 L379.2 112.26 L379.4 112.46 L379.6 112.57 L379.8 112.05 L380 110.82 L380.2 109.33 L380.4 107.66 L380.6 105.85 L380.8 103.91 L381 101.86 L381.2 99.72 L381.4 97.49 L381.6 95.18 L381.8 92.8 L382 90.35 L382.2 87.83 L382.4 85.25 L382.6 82.61 L382.8 84.84 L383 88.44 L383.2 91.76 L383.4 94.75 L383.6 97.4 L383.8 99.68 L384 101.54 L384.2 102.9 L384.4 103.58 L384.6 104.61 L384.8 105.58 L385 106.5 L385.2 107.37 L385.4 108.18 L385.6 108.93 L385.8 109.63 L386 110.26 L386.2 110.84 L386.4 111.35 L386.6 111.8 L386.8 112.18 L387 112.48 L387.2 112.72 L387.4 112.87 L387.6 112.81 L387.8 111.78 L388 110.41 L388.2 108.82 L388.4 107.08 L388.6 105.2 L388.8 103.21 L389 101.13 L389.2 98.95 L389.4 96.69 L389.6 94.35 L389.8 91.94 L390 89.46 L390.2 86.93 L390.4 84.33 L390.6 82.63 L390.8 86.41 L391 89.9 L391.2 93.09 L391.4 95.96 L391.6 98.48 L391.8 100.61 L392 102.31 L392.2 103.47 L392.4 104.18 L392.6 105.19 L392.8 106.15 L393 107.05 L393.2 107.9 L393.4 108.7 L393.6 109.43 L393.8 110.11 L394 110.73 L394.2 111.29 L394.4 111.78 L394.6 112.22 L394.8 112.58 L395 112.87 L395.2 113.09 L395.4 113.22 L395.6 113.01 L395.8 111.9 L396 110.49 L396.2 108.89 L396.4 107.13 L396.6 105.24 L396.8 103.24 L397 101.15 L397.2 98.96 L397.4 96.7 L397.6 94.36 L397.8 91.95 L398 89.47 L398.2 86.93 L398.4 84.34 L398.6 82.91 L398.8 86.67 L399 90.14 L399.2 93.32 L399.4 96.18 L399.6 98.7 L399.8 100.84 L400 102.54 L400.2 103.72 L400.4 104.42 L400.6 105.43 L400.8 106.39 L401 107.29 L401.2 108.14 L401.4 108.94 L401.6 109.68 L401.8 110.36 L402 110.99 L402.2 111.55 L402.4 112.05 L402.6 112.49 L402.8 112.87 L403 113.17 L403.2 113.4 L403.4 113.55 L403.6 113.5 L403.8 112.48 L404 111.12 L404.2 109.55 L404.4 107.82 L404.6 105.96 L404.8 103.99 L405 101.92 L405.2 99.76 L405.4 97.52 L405.6 95.21 L405.8 92.82 L406 90.37 L406.2 87.85 L406.4 85.28 L406.6 82.65 L406.8 85.63 L407 89.19 L407.2 92.47 L407.4 95.44 L407.6 98.07 L407.8 100.35 L408 102.22 L408.2 103.61 L408.4 104.35 L408.6 105.31 L408.8 106.29 L409 107.22 L409.2 108.09 L409.4 108.91 L409.6 109.67 L409.8 110.38 L410 111.03 L410.2 111.62 L410.4 112.15 L410.6 112.62 L410.8 113.03 L411 113.37 L411.2 113.64 L411.4 113.83 L411.6 113.93 L411.8 113.43 L412 112.23 L412.2 110.77 L412.4 109.13 L412.6 107.35 L412.8 105.44 L413 103.43 L413.2 101.33 L413.4 99.14 L413.6 96.87 L413.8 94.53 L414 92.13 L414.2 89.65 L414.4 87.12 L414.6 84.53 L414.8 83.2 L415 86.95 L415.2 90.42 L415.4 93.6 L415.6 96.47 L415.8 99 L416 101.16 L416.2 102.91 L416.4 104.15 L416.6 104.82 L416.8 105.84 L417 106.81 L417.2 107.72 L417.4 108.58 L417.6 109.38 L417.8 110.14 L418 110.83 L418.2 111.47 L418.4 112.05 L418.6 112.57 L418.8 113.03 L419 113.42 L419.2 113.75 L419.4 114.01 L419.6 114.19 L419.8 114.29 L420 113.67 L420.2 112.43 L420.4 110.96 L420.6 109.31 L420.8 107.52 L421 105.61 L421.2 103.6 L421.4 101.5 L421.6 99.31 L421.8 97.05 L422 94.72 L422.2 92.32 L422.4 89.86 L422.6 87.34 L422.8 84.77 L423 83.29 L423.2 87.03 L423.4 90.49 L423.6 93.67 L423.8 96.55 L424 99.09 L424.2 101.27 L424.4 103.05 L424.6 104.33 L424.8 104.99 L425 106.01 L425.2 106.97 L425.4 107.88 L425.6 108.74 L425.8 109.55 L426 110.3 L426.2 111 L426.4 111.64 L426.6 112.23 L426.8 112.75 L427 113.22 L427.2 113.62 L427.4 113.96 L427.6 114.23 L427.8 114.43 L428 114.54 L428.2 114.19 L428.4 113.05 L428.6 111.64 L428.8 110.04 L429 108.31 L429.2 106.45 L429.4 104.49 L429.6 102.43 L429.8 100.29 L430 98.08 L430.2 95.79 L430.4 93.43 L430.6 91.02 L430.8 88.54 L431 86.01 L431.2 83.43 L431.4 85.9 L431.6 89.44 L431.8 92.71 L432 95.68 L432.2 98.34 L432.4 100.66 L432.6 102.6 L432.8 104.1 L433 105.05 L433.2 105.82 L433.4 106.79 L433.6 107.72 L433.8 108.6 L434 109.43 L434.2 110.2 L434.4 110.92 L434.6 111.58 L434.8 112.19 L435 112.75 L435.2 113.24 L435.4 113.67 L435.6 114.04 L435.8 114.35 L436 114.59 L436.2 114.75 L436.4 114.82 L436.6 114.05 L436.8 112.8 L437 111.33 L437.2 109.69 L437.4 107.93 L437.6 106.05 L437.8 104.07 L438 102 L438.2 99.86 L438.4 97.64 L438.6 95.35 L438.8 93 L439 90.59 L439.2 88.12 L439.4 85.6 L439.6 83.42 L439.8 87.12 L440 90.56 L440.2 93.73 L440.4 96.61 L440.6 99.17 L440.8 101.39 L441 103.22 L441.2 104.61 L441.4 105.42 L441.6 106.27 L441.8 107.23 L442 108.14 L442.2 109 L442.4 109.81 L442.6 110.57 L442.8 111.28 L443 111.93 L443.2 112.53 L443.4 113.07 L443.6 113.55 L443.8 113.98 L444 114.34 L444.2 114.64 L444.4 114.87 L444.6 115.02 L444.8 115.09 L445 114.28 L445.2 113.03 L445.4 111.57 L445.6 109.95 L445.8 108.19 L446 106.33 L446.2 104.38 L446.4 102.33 L446.6 100.21 L446.8 98.01 L447 95.75 L447.2 93.42 L447.4 91.04 L447.6 88.6 L447.8 86.1 L448 83.56 L448.2 87.06 L448.4 90.5 L448.6 93.67 L448.8 96.55 L449 99.13 L449.2 101.38 L449.4 103.26 L449.6 104.71 L449.8 105.61 L450 106.37 L450.2 107.34 L450.4 108.25 L450.6 109.11 L450.8 109.92 L451 110.69 L451.2 111.4 L451.4 112.06 L451.6 112.66 L451.8 113.21 L452 113.71 L452.2 114.14 L452.4 114.52 L452.6 114.83 L452.8 115.08 L453 115.26 L453.2 115.35 L453.4 114.88 L453.6 113.73 L453.8 112.35 L454 110.79 L454.2 109.09 L454.4 107.29 L454.6 105.38 L454.8 103.39 L455 101.31 L455.2 99.16 L455.4 96.95 L455.6 94.67 L455.8 92.33 L456 89.93 L456.2 87.48 L456.4 84.98 L456.6 85.73 L456.8 89.25 L457 92.52 L457.2 95.51 L457.4 98.21 L457.6 100.6 L457.8 102.65 L458 104.31 L458.2 105.51 L458.4 106.13 L458.6 107.11 L458.8 108.04 L459 108.92 L459.2 109.75 L459.4 110.54 L459.6 111.27 L459.8 111.96 L460 112.59 L460.2 113.16 L460.4 113.69 L460.6 114.15 L460.8 114.56 L461 114.91 L461.2 115.2 L461.4 115.42 L461.6 115.57 L461.8 115.64 L462 114.81 L462.2 113.59 L462.4 112.16 L462.6 110.57 L462.8 108.85 L463 107.03 L463.2 105.12 L463.4 103.12 L463.6 101.04 L463.8 98.9 L464 96.69 L464.2 94.41 L464.4 92.08 L464.6 89.69 L464.8 87.26 L465 84.77 L465.2 86.73 L465.4 90.17 L465.6 93.36 L465.8 96.28 L466 98.91 L466.2 101.23 L466.4 103.2 L466.6 104.79 L466.8 105.9 L467 106.53 L467.2 107.5 L467.4 108.41 L467.6 109.28 L467.8 110.1 L468 110.88 L468.2 111.6 L468.4 112.27 L468.6 112.9 L468.8 113.47 L469 113.98 L469.2 114.44 L469.4 114.85 L469.6 115.19 L469.8 115.48 L470 115.7 L470.2 115.85 L470.4 115.91 L470.6 115.12 L470.8 113.91 L471 112.5 L471.2 110.93 L471.4 109.24 L471.6 107.45 L471.8 105.55 L472 103.58 L472.2 101.53 L472.4 99.41 L472.6 97.22 L472.8 94.98 L473 92.67 L473.2 90.32 L473.4 87.91 L473.6 85.45 L473.8 86.46 L474 89.91 L474.2 93.11 L474.4 96.06 L474.6 98.72 L474.8 101.08 L475 103.11 L475.2 104.76 L475.4 105.98 L475.6 106.59 L475.8 107.55 L476 108.47 L476.2 109.35 L476.4 110.17 L476.6 110.95 L476.8 111.68 L477 112.36 L477.2 113 L477.4 113.58 L477.6 114.1 L477.8 114.58 L478 115 L478.2 115.36 L478.4 115.67 L478.6 115.91 L478.8 116.08 L479 116.18 L479.2 115.78 L479.4 114.69 L479.6 113.36 L479.8 111.87 L480 110.24 L480.2 108.5 L480.4 106.66 L480.6 104.74 L480.8 102.74 L481 100.67 L481.2 98.53 L481.4 96.33 L481.6 94.08 L481.8 91.77 L482 89.4 L482.2 86.99 L482.4 84.9 L482.6 88.45 L482.8 91.76 L483 94.81 L483.2 97.6 L483.4 100.11 L483.6 102.3 L483.8 104.16 L484 105.63 L484.2 106.62 L484.4 107.27 L484.6 108.21 L484.8 109.11 L485 109.95 L485.2 110.76 L485.4 111.51 L485.6 112.22 L485.8 112.87 L486 113.48 L486.2 114.04 L486.4 114.55 L486.6 115 L486.8 115.4 L487 115.74 L487.2 116.02 L487.4 116.24 L487.6 116.39 L487.8 116.47 L488 115.8 L488.2 114.65 L488.4 113.29 L488.6 111.77 L488.8 110.13 L489 108.38 L489.2 106.55 L489.4 104.62 L489.6 102.63 L489.8 100.56 L490 98.43 L490.2 96.24 L490.4 94 L490.6 91.7 L490.8 89.35 L491 86.95 L491.2 85.7 L491.4 89.18 L491.6 92.43 L491.8 95.43 L492 98.17 L492.2 100.62 L492.4 102.77 L492.6 104.58 L492.8 106.01 L493 106.95 L493.2 107.61 L493.4 108.54 L493.6 109.43 L493.8 110.26 L494 111.06 L494.2 111.8 L494.4 112.5 L494.6 113.16 L494.8 113.76 L495 114.31 L495.2 114.82 L495.4 115.27 L495.6 115.67 L495.8 116.01 L496 116.29 L496.2 116.51 L496.4 116.67 L496.6 116.75 L496.8 116.18 L497 115.06 L497.2 113.73 L497.4 112.24 L497.6 110.63 L497.8 108.91 L498 107.1 L498.2 105.21 L498.4 103.24 L498.6 101.2 L498.8 99.1 L499 96.94 L499.2 94.73 L499.4 92.46 L499.6 90.14 L499.8 87.77 L500 85.36 L500.2 88.72 L500.4 91.99 L500.6 95.02 L500.8 97.8 L501 100.31 L501.2 102.52 L501.4 104.41 L501.6 105.94 L501.8 107.03 L502 107.62 L502.2 108.55 L502.4 109.44 L502.6 110.29 L502.8 111.09 L503 111.84 L503.2 112.55 L503.4 113.22 L503.6 113.83 L503.8 114.4 L504 114.92 L504.2 115.39 L504.4 115.8 L504.6 116.16 L504.8 116.47 L505 116.71 L505.2 116.89 L505.4 117.01 L505.6 116.84 L505.8 115.88 L506 114.65 L506.2 113.24 L506.4 111.7 L506.6 110.04 L506.8 108.29 L507 106.45 L507.2 104.54 L507.4 102.55 L507.6 100.5 L507.8 98.39 L508 96.23 L508.2 94.01 L508.4 91.74 L508.6 89.42 L508.8 87.05 L509 87.03 L509.2 90.41 L509.4 93.56 L509.6 96.46 L509.8 99.11 L510 101.49 L510.2 103.57 L510.4 105.31 L510.6 106.68 L510.8 107.57 L511 108.24 L511.2 109.15 L511.4 110.02 L511.6 110.84 L511.8 111.62 L512 112.36 L512.2 113.05 L512.4 113.69 L512.6 114.29 L512.8 114.84 L513 115.34 L513.2 115.78 L513.4 116.18 L513.6 116.53 L513.8 116.82 L514 117.04 L514.2 117.21 L514.4 117.31 L514.6 116.97 L514.8 115.95 L515 114.69 L515.2 113.27 L515.4 111.72 L515.6 110.06 L515.8 108.31 L516 106.48 L516.2 104.57 L516.4 102.59 L516.6 100.55 L516.8 98.45 L517 96.3 L517.2 94.09 L517.4 91.84 L517.6 89.54 L517.8 87.19 L518 87.57 L518.2 90.91 L518.4 94.02 L518.6 96.89 L518.8 99.5 L519 101.85 L519.2 103.9 L519.4 105.63 L519.6 106.98 L519.8 107.86 L520 108.52 L520.2 109.43 L520.4 110.29 L520.6 111.11 L520.8 111.88 L521 112.62 L521.2 113.3 L521.4 113.95 L521.6 114.54 L521.8 115.09 L522 115.59 L522.2 116.04 L522.4 116.44 L522.6 116.79 L522.8 117.08 L523 117.32 L523.2 117.49 L523.4 117.6 L523.6 117.39 L523.8 116.44 L524 115.22 L524.2 113.84 L524.4 112.33 L524.6 110.71 L524.8 109 L525 107.2 L525.2 105.33 L525.4 103.4 L525.6 101.4 L525.8 99.34 L526 97.23 L526.2 95.06 L526.4 92.85 L526.6 90.59 L526.8 88.28 L527 87.02 L527.2 90.39 L527.4 93.53 L527.6 96.44 L527.8 99.11 L528 101.51 L528.2 103.64 L528.4 105.46 L528.6 106.93 L528.8 107.98 L529 108.55 L529.2 109.46 L529.4 110.33 L529.6 111.15 L529.8 111.93 L530 112.67 L530.2 113.37 L530.4 114.02 L530.6 114.63 L530.8 115.19 L531 115.71 L531.2 116.17 L531.4 116.59 L531.6 116.96 L531.8 117.27 L532 117.53 L532.2 117.73 L532.4 117.87 L532.6 117.94 L532.8 117.29 L533 116.21 L533.2 114.92 L533.4 113.5 L533.6 111.95 L533.8 110.31 L534 108.59 L534.2 106.78 L534.4 104.91 L534.6 102.97 L534.8 100.97 L535 98.92 L535.2 96.81 L535.4 94.66 L535.6 92.46 L535.8 90.21 L536 87.92 L536.2 88.73 L536.4 91.97 L536.6 94.99 L536.8 97.79 L537 100.34 L537.2 102.62 L537.4 104.63 L537.6 106.33 L537.8 107.66 L538 108.56 L538.2 109.18 L538.4 110.06 L538.6 110.91 L538.8 111.71 L539 112.47 L539.2 113.19 L539.4 113.87 L539.6 114.5 L539.8 115.09 L540 115.64 L540.2 116.14 L540.4 116.59 L540.6 116.99 L540.8 117.34 L541 117.64 L541.2 117.89 L541.4 118.08 L541.6 118.21 L541.8 118.26 L542 117.49 L542.2 116.39 L542.4 115.1 L542.6 113.68 L542.8 112.15 L543 110.52 L543.2 108.81 L543.4 107.02 L543.6 105.17 L543.8 103.25 L544 101.28 L544.2 99.25 L544.4 97.17 L544.6 95.04 L544.8 92.87 L545 90.65 L545.2 88.4 L545.4 89.21 L545.6 92.42 L545.8 95.4 L546 98.16 L546.2 100.69 L546.4 102.95 L546.6 104.95 L546.8 106.63 L547 107.98 L547.2 108.89 L547.4 109.48 L547.6 110.36 L547.8 111.2 L548 111.99 L548.2 112.75 L548.4 113.46 L548.6 114.14 L548.8 114.77 L549 115.36 L549.2 115.9 L549.4 116.4 L549.6 116.85 L549.8 117.26 L550 117.61 L550.2 117.92 L550.4 118.17 L550.6 118.37 L550.8 118.51 L551 118.58 L551.2 118.02 L551.4 116.99 L551.6 115.76 L551.8 114.39 L552 112.9 L552.2 111.32 L552.4 109.65 L552.6 107.91 L552.8 106.1 L553 104.22 L553.2 102.29 L553.4 100.31 L553.6 98.27 L553.8 96.18 L554 94.05 L554.2 91.88 L554.4 89.67 L554.6 88.54 L554.8 91.77 L555 94.79 L555.2 97.6 L555.4 100.18 L555.6 102.52 L555.8 104.59 L556 106.38 L556.2 107.86 L556.4 108.95 L556.6 109.53 L556.8 110.35 L557 111.2 L557.2 112 L557.4 112.77 L557.6 113.49 L557.8 114.18 L558 114.82 L558.2 115.42 L558.4 115.98 L558.6 116.49 L558.8 116.96 L559 117.39 L559.2 117.76 L559.4 118.09 L559.6 118.37 L559.8 118.6 L560 118.77 L560.2 118.88 L560.4 118.8 L560.6 117.95 L560.8 116.84 L561 115.56 L561.2 114.16 L561.4 112.66 L561.6 111.06 L561.8 109.39 L562 107.64 L562.2 105.83 L562.4 103.96 L562.6 102.04 L562.8 100.06 L563 98.04 L563.2 95.96 L563.4 93.85 L563.6 91.69 L563.8 89.49 L564 89.99 L564.2 93.13 L564.4 96.05 L564.6 98.76 L564.8 101.25 L565 103.49 L565.2 105.47 L565.4 107.16 L565.6 108.53 L565.8 109.52 L566 110.05 L566.2 110.91 L566.4 111.73 L566.6 112.52 L566.8 113.27 L567 113.97 L567.2 114.64 L567.4 115.27 L567.6 115.86 L567.8 116.4 L568 116.9 L568.2 117.36 L568.4 117.77 L568.6 118.14 L568.8 118.46 L569 118.73 L569.2 118.95 L569.4 119.11 L569.6 119.21 L569.8 119.08 L570 118.22 L570.2 117.11 L570.4 115.85 L570.6 114.46 L570.8 112.97 L571 111.39 L571.2 109.74 L571.4 108.01 L571.6 106.23 L571.8 104.38 L572 102.49 L572.2 100.54 L572.4 98.54 L572.6 96.5 L572.8 94.41 L573 92.28 L573.2 90.12 L573.4 90.29 L573.6 93.39 L573.8 96.3 L574 98.99 L574.2 101.46 L574.4 103.7 L574.6 105.68 L574.8 107.38 L575 108.78 L575.2 109.8 L575.4 110.31 L575.6 111.16 L575.8 111.98 L576 112.77 L576.2 113.51 L576.4 114.21 L576.6 114.88 L576.8 115.51 L577 116.09 L577.2 116.64 L577.4 117.14 L577.6 117.6 L577.8 118.02 L578 118.39 L578.2 118.72 L578.4 119 L578.6 119.23 L578.8 119.4 L579 119.52 L579.2 119.56 L579.4 118.84 L579.6 117.8 L579.8 116.59 L580 115.26 L580.2 113.82 L580.4 112.29 L580.6 110.68 L580.8 109 L581 107.26 L581.2 105.46 L581.4 103.61 L581.6 101.7 L581.8 99.75 L582 97.75 L582.2 95.71 L582.4 93.63 L582.6 91.51 L582.8 89.46 L583 92.6 L583.2 95.55 L583.4 98.3 L583.6 100.83 L583.8 103.15 L584 105.22 L584.2 107.03 L584.4 108.56 L584.6 109.75 L584.8 110.53 L585 111.13 L585.2 111.95 L585.4 112.74 L585.6 113.5 L585.8 114.21 L586 114.89 L586.2 115.53 L586.4 116.13 L586.6 116.69 L586.8 117.21 L587 117.69 L587.2 118.13 L587.4 118.52 L587.6 118.87 L587.8 119.18 L588 119.43 L588.2 119.64 L588.4 119.79 L588.6 119.88 L588.8 119.69 L589 118.83 L589.2 117.74 L589.4 116.51 L589.6 115.15 L589.8 113.7 L590 112.17 L590.2 110.56 L590.4 108.88 L590.6 107.15 L590.8 105.36 L591 103.51 L591.2 101.62 L591.4 99.68 L591.6 97.7 L591.8 95.67 L592 93.61 L592.2 91.51 L592.4 90.7 L592.6 93.76 L592.8 96.63 L593 99.3 L593.2 101.76 L593.4 103.99 L593.6 105.99 L593.8 107.73 L594 109.18 L594.2 110.3 L594.4 110.99 L594.6 111.64 L594.8 112.45 L595 113.22 L595.2 113.96 L595.4 114.66 L595.6 115.33 L595.8 115.96 L596 116.54 L596.2 117.09 L596.4 117.6 L596.6 118.07 L596.8 118.5 L597 118.89 L597.2 119.23 L597.4 119.53 L597.6 119.78 L597.8 119.98 L598 120.13 L598.2 120.22 L598.4 120.03 L598.6 119.18 L598.8 118.1 L599 116.88 L599.2 115.55 L599.4 114.12 L599.6 112.61 L599.8 111.02 L600 109.37 L600.2 107.67 L600.4 105.9 L600.6 104.09 L600.8 102.22 L601 100.31 L601.2 98.36 L601.4 96.37 L601.6 94.34 L601.8 92.27 L602 90.82 L602.2 93.86 L602.4 96.72 L602.6 99.38 L602.8 101.84 L603 104.08 L603.2 106.09 L603.4 107.86 L603.6 109.34 L603.8 110.51 L604 111.29 L604.2 111.86 L604.4 112.66 L604.6 113.44 L604.8 114.17 L605 114.87 L605.2 115.54 L605.4 116.17 L605.6 116.76 L605.8 117.31 L606 117.82 L606.2 118.3 L606.4 118.73 L606.6 119.12 L606.8 119.48 L607 119.78 L607.2 120.05 L607.4 120.26 L607.6 120.43 L607.8 120.54 L608 120.56 L608.2 119.85 L608.4 118.86 L608.6 117.7 L608.8 116.42 L609 115.05 L609.2 113.59 L609.4 112.05 L609.6 110.45 L609.8 108.79 L610 107.07 L610.2 105.3 L610.4 103.48 L610.6 101.62 L610.8 99.71 L611 97.76 L611.2 95.77 L611.4 93.75 L611.6 91.69 L611.8 92.92 L612 95.83 L612.2 98.55 L612.4 101.08 L612.6 103.41 L612.8 105.51 L613 107.38 L613.2 109 L613.4 110.33 L613.6 111.32 L613.8 111.86 L614 112.6 L614.2 113.38 L614.4 114.13 L614.6 114.84 L614.8 115.52 L615 116.16 L615.2 116.77 L615.4 117.34 L615.6 117.87 L615.8 118.36 L616 118.81 L616.2 119.23 L616.4 119.6 L616.6 119.93 L616.8 120.22 L617 120.46 L617.2 120.66 L617.4 120.81 L617.6 120.9 L617.8 120.74 L618 119.93 L618.2 118.9 L618.4 117.72 L618.6 116.43 L618.8 115.05 L619 113.59 L619.2 112.06 L619.4 110.47 L619.6 108.81 L619.8 107.1 L620 105.35 L620.2 103.54 L620.4 101.7 L620.6 99.81 L620.8 97.88 L621 95.91 L621.2 93.9 L621.4 91.87 L621.6 93.91 L621.8 96.75 L622 99.41 L622.2 101.88 L622.4 104.14 L622.6 106.19 L622.8 108.01 L623 109.58 L623.2 110.86 L623.4 111.8 L623.6 112.27 L623.8 113.07 L624 113.84 L624.2 114.58 L624.4 115.28 L624.6 115.94 L624.8 116.58 L625 117.17 L625.2 117.73 L625.4 118.26 L625.6 118.75 L625.8 119.19 L626 119.6 L626.2 119.97 L626.4 120.3 L626.6 120.59 L626.8 120.83 L627 121.03 L627.2 121.18 L627.4 121.27 L627.6 121.15 L627.8 120.37 L628 119.36 L628.2 118.21 L628.4 116.95 L628.6 115.59 L628.8 114.16 L629 112.65 L629.2 111.08 L629.4 109.45 L629.6 107.77 L629.8 106.04 L630 104.26 L630.2 102.44 L630.4 100.58 L630.6 98.68 L630.8 96.74 L631 94.77 L631.2 92.76 L631.4 93.83 L631.6 96.68 L631.8 99.35 L632 101.83 L632.2 104.11 L632.4 106.19 L632.6 108.04 L632.8 109.65 L633 110.99 L633.2 112.02 L633.4 112.64 L633.6 113.27 L633.8 114.04 L634 114.78 L634.2 115.49 L634.4 116.16 L634.6 116.79 L634.8 117.39 L635 117.96 L635.2 118.49 L635.4 118.98 L635.6 119.44 L635.8 119.86 L636 120.24 L636.2 120.58 L636.4 120.88 L636.6 121.14 L636.8 121.35 L637 121.51 L637.2 121.63 L637.4 121.68 L637.6 121.13 L637.8 120.21 L638 119.12 L638.2 117.92 L638.4 116.62 L638.6 115.23 L638.8 113.77 L639 112.25 L639.2 110.67 L639.4 109.03 L639.6 107.34 L639.8 105.61 L640 103.83 L640.2 102.01 L640.4 100.15 L640.6 98.25 L640.8 96.32 L641 94.35 L641.2 92.72 L641.4 95.63 L641.6 98.37 L641.8 100.92 L642 103.3 L642.2 105.47 L642.4 107.43 L642.6 109.17 L642.8 110.66 L643 111.87 L643.2 112.74 L643.4 113.2 L643.6 113.99 L643.8 114.74 L644 115.45 L644.2 116.14 L644.4 116.79 L644.6 117.41 L644.8 117.99 L645 118.54 L645.2 119.05 L645.4 119.53 L645.6 119.97 L645.8 120.37 L646 120.74 L646.2 121.06 L646.4 121.35 L646.6 121.59 L646.8 121.79 L647 121.94 L647.2 122.04 L647.4 122.03 L647.6 121.33 L647.8 120.38 L648 119.28 L648.2 118.07 L648.4 116.76 L648.6 115.38 L648.8 113.92 L649 112.41 L649.2 110.83 L649.4 109.2 L649.6 107.53 L649.8 105.81 L650 104.04 L650.2 102.24 L650.4 100.39 L650.6 98.51 L650.8 96.6 L651 94.65 L651.2 93.53 L651.4 96.39 L651.6 99.08 L651.8 101.6 L652 103.93 L652.2 106.06 L652.4 107.99 L652.6 109.7 L652.8 111.16 L653 112.34 L653.2 113.19 L653.4 113.65 L653.6 114.42 L653.8 115.16 L654 115.87 L654.2 116.55 L654.4 117.2 L654.6 117.81 L654.8 118.38 L655 118.93 L655.2 119.44 L655.4 119.91 L655.6 120.35 L655.8 120.75 L656 121.11 L656.2 121.44 L656.4 121.72 L656.6 121.96 L656.8 122.16 L657 122.32 L657.2 122.42 L657.4 122.47 L657.6 121.83 L657.8 120.92 L658 119.85 L658.2 118.66 L658.4 117.39 L658.6 116.03 L658.8 114.6 L659 113.11 L659.2 111.57 L659.4 109.97 L659.6 108.32 L659.8 106.63 L660 104.89 L660.2 103.11 L660.4 101.3 L660.6 99.45 L660.8 97.56 L661 95.64 L661.2 93.69 L661.4 96.17 L661.6 98.87 L661.8 101.41 L662 103.76 L662.2 105.93 L662.4 107.9 L662.6 109.65 L662.8 111.17 L663 112.44 L663.2 113.39 L663.4 113.95 L663.6 114.6 L663.8 115.34 L664 116.05 L664.2 116.73 L664.4 117.38 L664.6 118 L664.8 118.58 L665 119.13 L665.2 119.65 L665.4 120.13 L665.6 120.58 L665.8 120.99 L666 121.36 L666.2 121.7 L666.4 122 L666.6 122.26 L666.8 122.48 L667 122.65 L667.2 122.78 L667.4 122.85 L667.6 122.59 L667.8 121.79 L668 120.8 L668.2 119.68 L668.4 118.46 L668.6 117.16 L668.8 115.78 L669 114.34 L669.2 112.84 L669.4 111.29 L669.6 109.68 L669.8 108.04 L670 106.34 L670.2 104.61 L670.4 102.84 L670.6 101.03 L670.8 99.18 L671 97.31 L671.2 95.39 L671.4 94.95 L671.6 97.73 L671.8 100.34 L672 102.78 L672.2 105.04 L672.4 107.12 L672.6 108.99 L672.8 110.65 L673 112.07 L673.2 113.22 L673.4 114.06 L673.6 114.5 L673.8 115.26 L674 115.98 L674.2 116.68 L674.4 117.34 L674.6 117.98 L674.8 118.58 L675 119.15 L675.2 119.68" fill="none" stroke="#3FB08A" stroke-width="1.35" stroke-linejoin="round"/>
<path d="M366.6 150.28 L366.8 152.29 L367 154.41 L367.2 156.57 L367.4 158.7 L367.6 160.75 L367.8 162.66 L368 164.37 L368.2 165.85 L368.4 167.06 L368.6 167.56 L368.8 166.52 L369 165.2 L369.2 163.63 L369.4 161.83 L369.6 159.86 L369.8 157.77 L370 155.63 L370.2 153.49 L370.4 151.42 L370.6 149.49 L370.8 147.73 L371 146.2 L371.2 144.94 L371.4 143.96 L371.6 144.95 L371.8 146.23 L372 147.77 L372.2 149.55 L372.4 151.51 L372.6 153.6 L372.8 155.77 L373 157.94 L373.2 160.06 L373.4 162.07 L373.6 163.9 L373.8 165.52 L374 166.88 L374.2 167.96 L374.4 167.48 L374.6 166.28 L374.8 164.81 L375 163.1 L375.2 161.2 L375.4 159.14 L375.6 157 L375.8 154.83 L376 152.7 L376.2 150.67 L376.4 148.79 L376.6 147.13 L376.8 145.72 L377 144.58 L377.2 144.59 L377.4 145.73 L377.6 147.15 L377.8 148.81 L378 150.69 L378.2 152.73 L378.4 154.87 L378.6 157.06 L378.8 159.22 L379 161.31 L379.2 163.25 L379.4 165 L379.6 166.52 L379.8 167.77 L380 168.44 L380.2 167.41 L380.4 166.09 L380.6 164.52 L380.8 162.72 L381 160.74 L381.2 158.63 L381.4 156.46 L381.6 154.29 L381.8 152.18 L382 150.19 L382.2 148.39 L382.4 146.8 L382.6 145.48 L382.8 144.43 L383 145.11 L383.2 146.35 L383.4 147.86 L383.6 149.6 L383.8 151.54 L384 153.63 L384.2 155.8 L384.4 158 L384.6 160.15 L384.8 162.21 L385 164.12 L385.2 165.81 L385.4 167.26 L385.6 168.44 L385.8 168.61 L386 167.5 L386.2 166.11 L386.4 164.47 L386.6 162.62 L386.8 160.6 L387 158.46 L387.2 156.28 L387.4 154.11 L387.6 152.01 L387.8 150.05 L388 148.27 L388.2 146.72 L388.4 145.44 L388.6 144.47 L388.8 145.48 L389 146.77 L389.2 148.32 L389.4 150.11 L389.6 152.08 L389.8 154.19 L390 156.38 L390.2 158.59 L390.4 160.75 L390.6 162.8 L390.8 164.69 L391 166.37 L391.2 167.79 L391.4 168.95 L391.6 168.93 L391.8 167.79 L392 166.39 L392.2 164.73 L392.4 162.87 L392.6 160.85 L392.8 158.72 L393 156.55 L393.2 154.39 L393.4 152.31 L393.6 150.38 L393.8 148.62 L394 147.11 L394.2 145.85 L394.4 144.91 L394.6 145.93 L394.8 147.22 L395 148.77 L395.2 150.55 L395.4 152.52 L395.6 154.61 L395.8 156.78 L396 158.97 L396.2 161.11 L396.4 163.15 L396.6 165.03 L396.8 166.7 L397 168.13 L397.2 169.29 L397.4 169.41 L397.6 168.31 L397.8 166.94 L398 165.32 L398.2 163.5 L398.4 161.51 L398.6 159.41 L398.8 157.26 L399 155.12 L399.2 153.05 L399.4 151.11 L399.6 149.35 L399.8 147.82 L400 146.54 L400.2 145.56 L400.4 146.33 L400.6 147.59 L400.8 149.12 L401 150.87 L401.2 152.81 L401.4 154.9 L401.6 157.07 L401.8 159.27 L402 161.43 L402.2 163.5 L402.4 165.43 L402.6 167.16 L402.8 168.66 L403 169.9 L403.2 170.5 L403.4 169.51 L403.6 168.24 L403.8 166.73 L404 165 L404.2 163.09 L404.4 161.07 L404.6 158.97 L404.8 156.87 L405 154.83 L405.2 152.89 L405.4 151.12 L405.6 149.56 L405.8 148.23 L406 147.18 L406.2 147.33 L406.4 148.5 L406.6 149.93 L406.8 151.59 L407 153.46 L407.2 155.48 L407.4 157.61 L407.6 159.79 L407.8 161.95 L408 164.04 L408.2 166.01 L408.4 167.81 L408.6 169.38 L408.8 170.72 L409 171.78 L409.2 171.21 L409.4 170.06 L409.6 168.66 L409.8 167.03 L410 165.21 L410.2 163.24 L410.4 161.19 L410.6 159.11 L410.8 157.05 L411 155.08 L411.2 153.24 L411.4 151.59 L411.6 150.17 L411.8 149 L412 148.22 L412.2 149.25 L412.4 150.54 L412.6 152.08 L412.8 153.84 L413 155.78 L413.2 157.84 L413.4 159.98 L413.6 162.13 L413.8 164.25 L414 166.28 L414.2 168.15 L414.4 169.84 L414.6 171.29 L414.8 172.49 L415 173.01 L415.2 172.02 L415.4 170.77 L415.6 169.28 L415.8 167.58 L416 165.71 L416.2 163.73 L416.4 161.67 L416.6 159.61 L416.8 157.6 L417 155.69 L417.2 153.94 L417.4 152.38 L417.6 151.06 L417.8 150 L418 149.92 L418.2 151.03 L418.4 152.4 L418.6 154.01 L418.8 155.81 L419 157.78 L419.2 159.85 L419.4 161.99 L419.6 164.12 L419.8 166.19 L420 168.16 L420.2 169.93 L420.4 171.5 L420.6 172.84 L420.8 173.92 L421 173.87 L421.2 172.78 L421.4 171.44 L421.6 169.87 L421.8 168.1 L422 166.18 L422.2 164.15 L422.4 162.07 L422.6 159.99 L422.8 157.97 L423 156.07 L423.2 154.33 L423.4 152.8 L423.6 151.5 L423.8 150.46 L424 150.71 L424.2 151.83 L424.4 153.2 L424.6 154.79 L424.8 156.58 L425 158.52 L425.2 160.56 L425.4 162.65 L425.6 164.73 L425.8 166.75 L426 168.65 L426.2 170.39 L426.4 171.92 L426.6 173.22 L426.8 174.27 L427 174 L427.2 172.89 L427.4 171.53 L427.6 169.95 L427.8 168.17 L428 166.25 L428.2 164.22 L428.4 162.14 L428.6 160.08 L428.8 158.08 L429 156.19 L429.2 154.47 L429.4 152.96 L429.6 151.67 L429.8 150.65 L430 150.96 L430.2 152.08 L430.4 153.45 L430.6 155.04 L430.8 156.82 L431 158.75 L431.2 160.78 L431.4 162.86 L431.6 164.93 L431.8 166.94 L432 168.84 L432.2 170.57 L432.4 172.11 L432.6 173.42 L432.8 174.47 L433 174.29 L433.2 173.2 L433.4 171.86 L433.6 170.3 L433.8 168.54 L434 166.64 L434.2 164.62 L434.4 162.56 L434.6 160.5 L434.8 158.5 L435 156.61 L435.2 154.88 L435.4 153.34 L435.6 152.04 L435.8 150.98 L436 151.05 L436.2 152.13 L436.4 153.46 L436.6 155.02 L436.8 156.76 L437 158.66 L437.2 160.67 L437.4 162.74 L437.6 164.8 L437.8 166.82 L438 168.73 L438.2 170.49 L438.4 172.06 L438.6 173.41 L438.8 174.51 L439 174.73 L439.2 173.7 L439.4 172.42 L439.6 170.92 L439.8 169.21 L440 167.34 L440.2 165.36 L440.4 163.31 L440.6 161.26 L440.8 159.25 L441 157.33 L441.2 155.56 L441.4 153.97 L441.6 152.61 L441.8 151.48 L442 151.01 L442.2 152.01 L442.4 153.26 L442.6 154.74 L442.8 156.42 L443 158.27 L443.2 160.24 L443.4 162.28 L443.6 164.34 L443.8 166.37 L444 168.32 L444.2 170.13 L444.4 171.77 L444.6 173.19 L444.8 174.38 L445 175.29 L445.2 174.36 L445.4 173.18 L445.6 171.77 L445.8 170.14 L446 168.34 L446.2 166.41 L446.4 164.4 L446.6 162.35 L446.8 160.32 L447 158.37 L447.2 156.53 L447.4 154.87 L447.6 153.41 L447.8 152.18 L448 151.2 L448.2 151.74 L448.4 152.87 L448.6 154.24 L448.8 155.82 L449 157.59 L449.2 159.5 L449.4 161.5 L449.6 163.55 L449.8 165.6 L450 167.58 L450.2 169.46 L450.4 171.18 L450.6 172.71 L450.8 174.02 L451 175.09 L451.2 175.14 L451.4 174.1 L451.6 172.82 L451.8 171.31 L452 169.61 L452.2 167.76 L452.4 165.79 L452.6 163.76 L452.8 161.73 L453 159.73 L453.2 157.83 L453.4 156.07 L453.6 154.49 L453.8 153.13 L454 152 L454.2 151.39 L454.4 152.36 L454.6 153.57 L454.8 155.02 L455 156.67 L455.2 158.48 L455.4 160.42 L455.6 162.44 L455.8 164.48 L456 166.5 L456.2 168.45 L456.4 170.27 L456.6 171.93 L456.8 173.39 L457 174.62 L457.2 175.6 L457.4 175.1 L457.6 174 L457.8 172.65 L458 171.1 L458.2 169.36 L458.4 167.48 L458.6 165.5 L458.8 163.47 L459 161.45 L459.2 159.48 L459.4 157.62 L459.6 155.91 L459.8 154.38 L460 153.08 L460.2 152.01 L460.4 151.8 L460.6 152.82 L460.8 154.08 L461 155.56 L461.2 157.24 L461.4 159.07 L461.6 161.02 L461.8 163.04 L462 165.07 L462.2 167.08 L462.4 169 L462.6 170.79 L462.8 172.41 L463 173.83 L463.2 175.02 L463.4 175.97 L463.6 175.22 L463.8 174.09 L464 172.72 L464.2 171.15 L464.4 169.4 L464.6 167.51 L464.8 165.54 L465 163.52 L465.2 161.51 L465.4 159.56 L465.6 157.71 L465.8 156.02 L466 154.52 L466.2 153.23 L466.4 152.18 L466.6 152.08 L466.8 153.1 L467 154.37 L467.2 155.85 L467.4 157.53 L467.6 159.36 L467.8 161.3 L468 163.31 L468.2 165.34 L468.4 167.33 L468.6 169.24 L468.8 171.02 L469 172.64 L469.2 174.06 L469.4 175.25 L469.6 176.19 L469.8 175.5 L470 174.38 L470.2 173.03 L470.4 171.47 L470.6 169.74 L470.8 167.86 L471 165.9 L471.2 163.89 L471.4 161.89 L471.6 159.94 L471.8 158.1 L472 156.4 L472.2 154.88 L472.4 153.58 L472.6 152.51 L472.8 152.21 L473 153.2 L473.2 154.44 L473.4 155.89 L473.6 157.53 L473.8 159.34 L474 161.26 L474.2 163.25 L474.4 165.27 L474.6 167.26 L474.8 169.18 L475 170.98 L475.2 172.62 L475.4 174.07 L475.6 175.29 L475.8 176.28 L476 175.93 L476.2 174.87 L476.4 173.57 L476.6 172.06 L476.8 170.36 L477 168.53 L477.2 166.59 L477.4 164.59 L477.6 162.59 L477.8 160.64 L478 158.77 L478.2 157.04 L478.4 155.48 L478.6 154.13 L478.8 153 L479 152.21 L479.2 153.13 L479.4 154.3 L479.6 155.68 L479.8 157.27 L480 159.02 L480.2 160.91 L480.4 162.88 L480.6 164.89 L480.8 166.9 L481 168.84 L481.2 170.68 L481.4 172.37 L481.6 173.88 L481.8 175.19 L482 176.26 L482.2 176.55 L482.4 175.58 L482.6 174.37 L482.8 172.95 L483 171.33 L483.2 169.56 L483.4 167.67 L483.6 165.71 L483.8 163.72 L484 161.76 L484.2 159.87 L484.4 158.1 L484.6 156.48 L484.8 155.05 L485 153.84 L485.2 152.87 L485.4 153.1 L485.6 154.16 L485.8 155.45 L486 156.94 L486.2 158.62 L486.4 160.44 L486.6 162.36 L486.8 164.35 L487 166.35 L487.2 168.31 L487.4 170.19 L487.6 171.95 L487.8 173.54 L488 174.94 L488.2 176.12 L488.4 177.07 L488.6 176.49 L488.8 175.42 L489 174.11 L489.2 172.61 L489.4 170.93 L489.6 169.11 L489.8 167.2 L490 165.23 L490.2 163.27 L490.4 161.35 L490.6 159.51 L490.8 157.81 L491 156.28 L491.2 154.95 L491.4 153.85 L491.6 153.02 L491.8 153.93 L492 155.07 L492.2 156.43 L492.4 157.99 L492.6 159.71 L492.8 161.56 L493 163.5 L493.2 165.48 L493.4 167.45 L493.6 169.38 L493.8 171.21 L494 172.9 L494.2 174.42 L494.4 175.74 L494.6 176.84 L494.8 177.47 L495 176.56 L495.2 175.42 L495.4 174.06 L495.6 172.51 L495.8 170.8 L496 168.97 L496.2 167.05 L496.4 165.09 L496.6 163.15 L496.8 161.26 L497 159.47 L497.2 157.83 L497.4 156.36 L497.6 155.09 L497.8 154.05 L498 153.65 L498.2 154.61 L498.4 155.8 L498.6 157.19 L498.8 158.77 L499 160.51 L499.2 162.37 L499.4 164.31 L499.6 166.28 L499.8 168.23 L500 170.13 L500.2 171.92 L500.4 173.58 L500.6 175.05 L500.8 176.33 L501 177.38 L501.2 177.73 L501.4 176.79 L501.6 175.62 L501.8 174.25 L502 172.68 L502.2 170.97 L502.4 169.13 L502.6 167.22 L502.8 165.28 L503 163.35 L503.2 161.49 L503.4 159.73 L503.6 158.11 L503.8 156.67 L504 155.43 L504.2 154.41 L504.4 154.16 L504.6 155.12 L504.8 156.31 L505 157.71 L505.2 159.29 L505.4 161.03 L505.6 162.88 L505.8 164.8 L506 166.76 L506.2 168.7 L506.4 170.58 L506.6 172.36 L506.8 173.99 L507 175.46 L507.2 176.72 L507.4 177.76 L507.6 178.12 L507.8 177.19 L508 176.03 L508.2 174.67 L508.4 173.12 L508.6 171.42 L508.8 169.6 L509 167.71 L509.2 165.78 L509.4 163.87 L509.6 162.01 L509.8 160.26 L510 158.64 L510.2 157.2 L510.4 155.96 L510.6 154.93 L510.8 154.53 L511 155.46 L511.2 156.63 L511.4 157.99 L511.6 159.55 L511.8 161.25 L512 163.08 L512.2 164.98 L512.4 166.92 L512.6 168.85 L512.8 170.73 L513 172.51 L513.2 174.16 L513.4 175.64 L513.6 176.92 L513.8 177.99 L514 178.64 L514.2 177.75 L514.4 176.64 L514.6 175.33 L514.8 173.83 L515 172.16 L515.2 170.38 L515.4 168.51 L515.6 166.6 L515.8 164.7 L516 162.84 L516.2 161.07 L516.4 159.43 L516.6 157.96 L516.8 156.67 L517 155.6 L517.2 154.77 L517.4 155.65 L517.6 156.74 L517.8 158.05 L518 159.55 L518.2 161.2 L518.4 162.98 L518.6 164.86 L518.8 166.78 L519 168.7 L519.2 170.58 L519.4 172.38 L519.6 174.06 L519.8 175.59 L520 176.93 L520.2 178.06 L520.4 178.98 L520.6 178.46 L520.8 177.44 L521 176.2 L521.2 174.77 L521.4 173.17 L521.6 171.44 L521.8 169.61 L522 167.72 L522.2 165.83 L522.4 163.96 L522.6 162.17 L522.8 160.49 L523 158.96 L523.2 157.6 L523.4 156.45 L523.6 155.52 L523.8 155.7 L524 156.7 L524.2 157.91 L524.4 159.32 L524.6 160.9 L524.8 162.62 L525 164.44 L525.2 166.33 L525.4 168.24 L525.6 170.12 L525.8 171.95 L526 173.67 L526.2 175.26 L526.4 176.67 L526.6 177.89 L526.8 178.9 L527 179.22 L527.2 178.31 L527.4 177.18 L527.6 175.86 L527.8 174.35 L528 172.7 L528.2 170.93 L528.4 169.08 L528.6 167.2 L528.8 165.33 L529 163.51 L529.2 161.78 L529.4 160.18 L529.6 158.74 L529.8 157.49 L530 156.44 L530.2 155.65 L530.4 156.51 L530.6 157.58 L530.8 158.86 L531 160.32 L531.2 161.94 L531.4 163.68 L531.6 165.5 L531.8 167.38 L532 169.26 L532.2 171.1 L532.4 172.87 L532.6 174.52 L532.8 176.03 L533 177.36 L533.2 178.49 L533.4 179.41 L533.6 179.15 L533.8 178.18 L534 177 L534.2 175.63 L534.4 174.09 L534.6 172.42 L534.8 170.65 L535 168.82 L535.2 166.96 L535.4 165.13 L535.6 163.35 L535.8 161.68 L536 160.14 L536.2 158.77 L536.4 157.59 L536.6 156.61 L536.8 156.27 L537 157.17 L537.2 158.29 L537.4 159.59 L537.6 161.07 L537.8 162.7 L538 164.44 L538.2 166.25 L538.4 168.11 L538.6 169.96 L538.8 171.76 L539 173.49 L539.2 175.09 L539.4 176.54 L539.6 177.82 L539.8 178.89 L540 179.76 L540.2 179.21 L540.4 178.22 L540.6 177.02 L540.8 175.64 L541 174.1 L541.2 172.44 L541.4 170.68 L541.6 168.86 L541.8 167.03 L542 165.23 L542.2 163.49 L542.4 161.86 L542.6 160.36 L542.8 159.03 L543 157.88 L543.2 156.94 L543.4 156.77 L543.6 157.68 L543.8 158.79 L544 160.1 L544.2 161.57 L544.4 163.18 L544.6 164.9 L544.8 166.7 L545 168.53 L545.2 170.35 L545.4 172.13 L545.6 173.83 L545.8 175.4 L546 176.83 L546.2 178.08 L546.4 179.13 L546.6 179.99 L546.8 179.42 L547 178.43 L547.2 177.25 L547.4 175.89 L547.6 174.38 L547.8 172.73 L548 171 L548.2 169.21 L548.4 167.41 L548.6 165.63 L548.8 163.91 L549 162.29 L549.2 160.81 L549.4 159.49 L549.6 158.35 L549.8 157.41 L550 157.14 L550.2 158.02 L550.4 159.11 L550.6 160.38 L550.8 161.82 L551 163.4 L551.2 165.09 L551.4 166.85 L551.6 168.65 L551.8 170.46 L552 172.22 L552.2 173.9 L552.4 175.47 L552.6 176.89 L552.8 178.15 L553 179.22 L553.2 180.09 L553.4 179.76 L553.6 178.82 L553.8 177.69 L554 176.37 L554.2 174.9 L554.4 173.3 L554.6 171.61 L554.8 169.85 L555 168.07 L555.2 166.31 L555.4 164.6 L555.6 162.98 L555.8 161.49 L556 160.15 L556.2 158.99 L556.4 158.02 L556.6 157.39 L556.8 158.21 L557 159.24 L557.2 160.45 L557.4 161.83 L557.6 163.36 L557.8 165 L558 166.72 L558.2 168.5 L558.4 170.28 L558.6 172.03 L558.8 173.71 L559 175.29 L559.2 176.74 L559.4 178.04 L559.6 179.15 L559.8 180.06 L560 180.23 L560.2 179.36 L560.4 178.31 L560.6 177.07 L560.8 175.66 L561 174.13 L561.2 172.48 L561.4 170.76 L561.6 169.01 L561.8 167.27 L562 165.56 L562.2 163.93 L562.4 162.41 L562.6 161.03 L562.8 159.82 L563 158.79 L563.2 157.96 L563.4 158.29 L563.6 159.22 L563.8 160.34 L564 161.64 L564.2 163.09 L564.4 164.66 L564.6 166.34 L564.8 168.07 L565 169.82 L565.2 171.57 L565.4 173.26 L565.6 174.87 L565.8 176.36 L566 177.71 L566.2 178.89 L566.4 179.88 L566.6 180.68 L566.8 180.02 L567 179.07 L567.2 177.93 L567.4 176.62 L567.6 175.17 L567.8 173.6 L568 171.94 L568.2 170.22 L568.4 168.49 L568.6 166.79 L568.8 165.14 L569 163.58 L569.2 162.14 L569.4 160.85 L569.6 159.74 L569.8 158.81 L570 158.28 L570.2 159.1 L570.4 160.1 L570.6 161.28 L570.8 162.63 L571 164.11 L571.2 165.71 L571.4 167.39 L571.6 169.11 L571.8 170.84 L572 172.54 L572.2 174.18 L572.4 175.73 L572.6 177.15 L572.8 178.42 L573 179.51 L573.2 180.42 L573.4 180.74 L573.6 179.93 L573.8 178.92 L574 177.74 L574.2 176.4 L574.4 174.92 L574.6 173.34 L574.8 171.68 L575 169.98 L575.2 168.28 L575.4 166.61 L575.6 165.01 L575.8 163.51 L576 162.13 L576.2 160.91 L576.4 159.87 L576.6 159.01 L576.8 158.92 L577 159.78 L577.2 160.82 L577.4 162.03 L577.6 163.39 L577.8 164.89 L578 166.49 L578.2 168.15 L578.4 169.86 L578.6 171.56 L578.8 173.23 L579 174.82 L579.2 176.32 L579.4 177.69 L579.6 178.9 L579.8 179.95 L580 180.8 L580.2 180.82 L580.4 179.97 L580.6 178.95 L580.8 177.75 L581 176.4 L581.2 174.93 L581.4 173.35 L581.6 171.71 L581.8 170.03 L582 168.36 L582.2 166.72 L582.4 165.15 L582.6 163.69 L582.8 162.36 L583 161.18 L583.2 160.17 L583.4 159.35 L583.6 159.44 L583.8 160.31 L584 161.35 L584.2 162.56 L584.4 163.92 L584.6 165.41 L584.8 166.99 L585 168.64 L585.2 170.32 L585.4 171.99 L585.6 173.63 L585.8 175.2 L586 176.67 L586.2 178.01 L586.4 179.2 L586.6 180.22 L586.8 181.06 L587 181.01 L587.2 180.17 L587.4 179.16 L587.6 177.97 L587.8 176.64 L588 175.18 L588.2 173.63 L588.4 172.01 L588.6 170.36 L588.8 168.71 L589 167.1 L589.2 165.55 L589.4 164.11 L589.6 162.79 L589.8 161.62 L590 160.63 L590.2 159.81 L590.4 159.84 L590.6 160.68 L590.8 161.7 L591 162.89 L591.2 164.22 L591.4 165.68 L591.6 167.23 L591.8 168.85 L592 170.51 L592.2 172.16 L592.4 173.78 L592.6 175.34 L592.8 176.79 L593 178.13 L593.2 179.32 L593.4 180.34 L593.6 181.19 L593.8 181.32 L594 180.52 L594.2 179.54 L594.4 178.4 L594.6 177.11 L594.8 175.69 L595 174.17 L595.2 172.58 L595.4 170.96 L595.6 169.33 L595.8 167.73 L596 166.19 L596.2 164.75 L596.4 163.43 L596.6 162.25 L596.8 161.23 L597 160.39 L597.2 160.13 L597.4 160.92 L597.6 161.89 L597.8 163.02 L598 164.3 L598.2 165.71 L598.4 167.23 L598.6 168.81 L598.8 170.43 L599 172.07 L599.2 173.68 L599.4 175.23 L599.6 176.69 L599.8 178.04 L600 179.25 L600.2 180.31 L600.4 181.19 L600.6 181.73 L600.8 180.99 L601 180.08 L601.2 179 L601.4 177.77 L601.6 176.42 L601.8 174.95 L602 173.41 L602.2 171.83 L602.4 170.23 L602.6 168.65 L602.8 167.13 L603 165.68 L603.2 164.35 L603.4 163.15 L603.6 162.1 L603.8 161.22 L604 160.51 L604.2 161.16 L604.4 162.05 L604.6 163.1 L604.8 164.31 L605 165.64 L605.2 167.08 L605.4 168.61 L605.6 170.18 L605.8 171.78 L606 173.36 L606.2 174.9 L606.4 176.37 L606.6 177.73 L606.8 178.97 L607 180.06 L607.2 181 L607.4 181.76 L607.6 181.52 L607.8 180.7 L608 179.73 L608.2 178.6 L608.4 177.33 L608.6 175.96 L608.8 174.49 L609 172.97 L609.2 171.42 L609.4 169.87 L609.6 168.36 L609.8 166.91 L610 165.56 L610.2 164.32 L610.4 163.22 L610.6 162.28 L610.8 161.51 L611 161.4 L611.2 162.18 L611.4 163.12 L611.6 164.21 L611.8 165.44 L612 166.79 L612.2 168.23 L612.4 169.74 L612.6 171.28 L612.8 172.83 L613 174.36 L613.2 175.83 L613.4 177.21 L613.6 178.49 L613.8 179.64 L614 180.64 L614.2 181.49 L614.4 182.08 L614.6 181.4 L614.8 180.55 L615 179.54 L615.2 178.39 L615.4 177.12 L615.6 175.75 L615.8 174.3 L616 172.81 L616.2 171.3 L616.4 169.81 L616.6 168.36 L616.8 166.98 L617 165.7 L617.2 164.54 L617.4 163.52 L617.6 162.66 L617.8 161.95 L618 162.26 L618.2 163.06 L618.4 164.02 L618.6 165.12 L618.8 166.35 L619 167.69 L619.2 169.11 L619.4 170.59 L619.6 172.09 L619.8 173.59 L620 175.06 L620.2 176.47 L620.4 177.8 L620.6 179.01 L620.8 180.1 L621 181.04 L621.2 181.82 L621.4 182.1 L621.6 181.4 L621.8 180.54 L622 179.53 L622.2 178.39 L622.4 177.13 L622.6 175.78 L622.8 174.36 L623 172.9 L623.2 171.43 L623.4 169.98 L623.6 168.58 L623.8 167.25 L624 166.02 L624.2 164.91 L624.4 163.94 L624.6 163.12 L624.8 162.46 L625 162.94 L625.2 163.74 L625.4 164.7 L625.6 165.79 L625.8 167 L626 168.31 L626.2 169.7 L626.4 171.15 L626.6 172.61 L626.8 174.08 L627 175.5 L627.2 176.87 L627.4 178.15 L627.6 179.33 L627.8 180.38 L628 181.28 L628.2 182.03 L628.4 182.23 L628.6 181.53 L628.8 180.69 L629 179.7 L629.2 178.58 L629.4 177.35 L629.6 176.03 L629.8 174.65 L630 173.23 L630.2 171.8 L630.4 170.38 L630.6 169.02 L630.8 167.72 L631 166.53 L631.2 165.45 L631.4 164.5 L631.6 163.7 L631.8 163.06 L632 163.5 L632.2 164.28 L632.4 165.2 L632.6 166.26 L632.8 167.44 L633 168.71 L633.2 170.07 L633.4 171.47 L633.6 172.9 L633.8 174.32 L634 175.72 L634.2 177.05 L634.4 178.31 L634.6 179.46 L634.8 180.49 L635 181.38 L635.2 182.13 L635.4 182.45 L635.6 181.79 L635.8 180.98 L636 180.04 L636.2 178.96 L636.4 177.78 L636.6 176.5 L636.8 175.16 L637 173.78 L637.2 172.39 L637.4 171.01 L637.6 169.68 L637.8 168.4 L638 167.22 L638.2 166.15 L638.4 165.21 L638.6 164.41 L638.8 163.75 L639 163.96 L639.2 164.69 L639.4 165.56 L639.6 166.57 L639.8 167.69 L640 168.91 L640.2 170.22 L640.4 171.57 L640.6 172.96 L640.8 174.35 L641 175.71 L641.2 177.03 L641.4 178.27 L641.6 179.42 L641.8 180.46 L642 181.36 L642.2 182.12 L642.4 182.74 L642.6 182.16 L642.8 181.41 L643 180.52 L643.2 179.51 L643.4 178.39 L643.6 177.17 L643.8 175.88 L644 174.55 L644.2 173.2 L644.4 171.85 L644.6 170.54 L644.8 169.28 L645 168.1 L645.2 167.02 L645.4 166.06 L645.6 165.23 L645.8 164.54 L646 164.33 L646.2 164.99 L646.4 165.79 L646.6 166.73 L646.8 167.78 L647 168.94 L647.2 170.18 L647.4 171.48 L647.6 172.82 L647.8 174.17 L648 175.51 L648.2 176.82 L648.4 178.06 L648.6 179.21 L648.8 180.27 L649 181.2 L649.2 182 L649.4 182.66 L649.6 182.6 L649.8 181.93 L650 181.13 L650.2 180.2 L650.4 179.16 L650.6 178.02 L650.8 176.8 L651 175.53 L651.2 174.23 L651.4 172.92 L651.6 171.64 L651.8 170.4 L652 169.22 L652.2 168.14 L652.4 167.16 L652.6 166.31 L652.8 165.59 L653 165.01 L653.2 165.38 L653.4 166.09 L653.6 166.94 L653.8 167.9 L654 168.97 L654.2 170.13 L654.4 171.36 L654.6 172.64 L654.8 173.94 L655 175.24 L655.2 176.51 L655.4 177.74 L655.6 178.9 L655.8 179.96 L656 180.92 L656.2 181.77 L656.4 182.48 L656.6 183.05 L656.8 182.53 L657 181.84 L657.2 181.03 L657.4 180.1 L657.6 179.07 L657.8 177.95 L658 176.77 L658.2 175.55 L658.4 174.31 L658.6 173.07 L658.8 171.86 L659 170.7 L659.2 169.62 L659.4 168.62 L659.6 167.73 L659.8 166.96 L660 166.32 L660.2 165.94 L660.4 166.53 L660.6 167.25 L660.8 168.09 L661 169.04 L661.2 170.09 L661.4 171.21 L661.6 172.4 L661.8 173.62 L662 174.86 L662.2 176.09 L662.4 177.3 L662.6 178.45 L662.8 179.53 L663 180.52 L663.2 181.4 L663.4 182.17 L663.6 182.81 L663.8 183.12 L664 182.57 L664.2 181.88 L664.4 181.09 L664.6 180.18 L664.8 179.18 L665 178.11 L665.2 176.98 L665.4 175.81 L665.6 174.63 L665.8 173.46 L666 172.32 L666.2 171.23 L666.4 170.22 L666.6 169.29 L666.8 168.47 L667 167.76 L667.2 167.17 L667.4 166.98 L667.6 167.57 L667.8 168.27 L668 169.08 L668.2 170 L668.4 171.01 L668.6 172.09 L668.8 173.22 L669 174.38 L669.2 175.56 L669.4 176.73 L669.6 177.86 L669.8 178.95 L670 179.96 L670.2 180.89 L670.4 181.72 L670.6 182.44 L670.8 183.04 L671 183.25 L671.2 182.71 L671.4 182.06 L671.6 181.29 L671.8 180.43 L672 179.48 L672.2 178.46 L672.4 177.38 L672.6 176.28 L672.8 175.16 L673 174.06 L673.2 172.98 L673.4 171.95 L673.6 170.99 L673.8 170.12 L674 169.34 L674.2 168.67 L674.4 168.12 L674.6 167.95 L674.8 168.5 L675 169.16 L675.2 169.94" fill="none" stroke="#1E86B0" stroke-width="1.35" stroke-linejoin="round"/>
<path d="M366.6 203.82 L366.8 201.54 L367 200 L367.2 200.02 L367.4 201.62 L367.6 203.95 L367.8 206.89 L368 210.27 L368.2 213.85 L368.4 217.41 L368.6 220.71 L368.8 223.54 L369 225.72 L369.2 227.14 L369.4 226.6 L369.6 224.86 L369.8 222.4 L370 219.38 L370.2 215.97 L370.4 212.41 L370.6 208.93 L370.8 205.77 L371 203.13 L371.2 201.18 L371.4 200.02 L371.6 201.23 L371.8 203.23 L372 205.93 L372.2 209.16 L372.4 212.72 L372.6 216.37 L372.8 219.88 L373 223.01 L373.2 225.57 L373.4 227.41 L373.6 228.05 L373.8 226.69 L374 224.55 L374.2 221.75 L374.4 218.45 L374.6 214.89 L374.8 211.29 L375 207.89 L375.2 204.93 L375.4 202.59 L375.6 201 L375.8 201.02 L376 202.65 L376.2 205.03 L376.4 208.04 L376.6 211.49 L376.8 215.16 L377 218.81 L377.2 222.21 L377.4 225.12 L377.6 227.39 L377.8 228.88 L378 228.42 L378.2 226.68 L378.4 224.2 L378.6 221.12 L378.8 217.65 L379 214 L379.2 210.42 L379.4 207.15 L379.6 204.4 L379.8 202.34 L380 201.07 L380.2 202.09 L380.4 204.05 L380.6 206.72 L380.8 209.95 L381 213.54 L381.2 217.25 L381.4 220.84 L381.6 224.08 L381.8 226.77 L382 228.76 L382.2 229.82 L382.4 228.57 L382.6 226.52 L382.8 223.78 L383 220.51 L383.2 216.93 L383.4 213.25 L383.6 209.74 L383.8 206.6 L384 204.05 L384.2 202.23 L384.4 201.6 L384.6 203.03 L384.8 205.23 L385 208.1 L385.2 211.46 L385.4 215.12 L385.6 218.82 L385.8 222.34 L386 225.44 L386.2 227.95 L386.4 229.71 L386.6 230.1 L386.8 228.62 L387 226.37 L387.2 223.47 L387.4 220.09 L387.6 216.45 L387.8 212.79 L388 209.34 L388.2 206.33 L388.4 203.95 L388.6 202.32 L388.8 202.26 L389 203.87 L389.2 206.23 L389.4 209.23 L389.6 212.69 L389.8 216.38 L390 220.07 L390.2 223.52 L390.4 226.52 L390.6 228.89 L390.8 230.5 L391 230.43 L391.2 228.8 L391.4 226.41 L391.6 223.41 L391.8 219.97 L392 216.3 L392.2 212.65 L392.4 209.26 L392.6 206.33 L392.8 204.05 L393 202.54 L393.2 202.83 L393.4 204.56 L393.6 207.03 L393.8 210.1 L394 213.6 L394.2 217.31 L394.4 220.99 L394.6 224.41 L394.8 227.35 L395 229.64 L395.2 231.17 L395.4 230.85 L395.6 229.14 L395.8 226.69 L396 223.63 L396.2 220.16 L396.4 216.48 L396.6 212.84 L396.8 209.47 L397 206.58 L397.2 204.34 L397.4 202.87 L397.6 203.31 L397.8 205.08 L398 207.58 L398.2 210.68 L398.4 214.2 L398.6 217.92 L398.8 221.6 L399 225.01 L399.2 227.94 L399.4 230.22 L399.6 231.74 L399.8 231.38 L400 229.66 L400.2 227.21 L400.4 224.15 L400.6 220.68 L400.8 217.01 L401 213.38 L401.2 210.01 L401.4 207.12 L401.6 204.88 L401.8 203.41 L402 203.77 L402.2 205.52 L402.4 208 L402.6 211.08 L402.8 214.58 L403 218.28 L403.2 221.95 L403.4 225.37 L403.6 228.33 L403.8 230.65 L404 232.21 L404.2 232.04 L404.4 230.4 L404.6 228.02 L404.8 225.03 L405 221.61 L405.2 217.98 L405.4 214.35 L405.6 210.97 L405.8 208.05 L406 205.74 L406.2 204.19 L406.4 204.27 L406.6 205.91 L406.8 208.28 L407 211.27 L407.2 214.7 L407.4 218.36 L407.6 222.02 L407.8 225.47 L408 228.48 L408.2 230.89 L408.4 232.57 L408.6 232.79 L408.8 231.29 L409 229.05 L409.2 226.18 L409.4 222.84 L409.6 219.26 L409.8 215.64 L410 212.23 L410.2 209.22 L410.4 206.8 L410.6 205.1 L410.8 204.68 L411 206.14 L411.2 208.35 L411.4 211.2 L411.6 214.52 L411.8 218.12 L412 221.78 L412.2 225.27 L412.4 228.38 L412.6 230.93 L412.8 232.79 L413 233.6 L413.2 232.32 L413.4 230.27 L413.6 227.57 L413.8 224.37 L414 220.85 L414.2 217.25 L414.4 213.78 L414.6 210.66 L414.8 208.08 L415 206.17 L415.2 205.06 L415.4 206.28 L415.6 208.25 L415.8 210.9 L416 214.07 L416.2 217.58 L416.4 221.22 L416.6 224.76 L416.8 228 L417 230.73 L417.2 232.81 L417.4 234.15 L417.6 233.41 L417.8 231.63 L418 229.16 L418.2 226.14 L418.4 222.74 L418.6 219.17 L418.8 215.66 L419 212.41 L419.2 209.62 L419.4 207.46 L419.6 206.04 L419.8 206.37 L420 208.05 L420.2 210.43 L420.4 213.39 L420.6 216.76 L420.8 220.35 L421 223.93 L421.2 227.29 L421.4 230.24 L421.6 232.59 L421.8 234.24 L422 234.51 L422.2 233.07 L422.4 230.9 L422.6 228.13 L422.8 224.89 L423 221.4 L423.2 217.85 L423.4 214.46 L423.6 211.45 L423.8 208.99 L424 207.21 L424.2 206.43 L424.4 207.73 L424.6 209.76 L424.8 212.43 L425 215.6 L425.2 219.08 L425.4 222.66 L425.6 226.13 L425.8 229.29 L426 231.94 L426.2 233.95 L426.4 235.22 L426.6 234.36 L426.8 232.56 L427 230.09 L427.2 227.08 L427.4 223.7 L427.6 220.16 L427.8 216.67 L428 213.44 L428.2 210.66 L428.4 208.5 L428.6 207.05 L428.8 207.29 L429 208.91 L429.2 211.22 L429.4 214.12 L429.6 217.43 L429.8 220.97 L430 224.52 L430.2 227.88 L430.4 230.84 L430.6 233.24 L430.8 234.96 L431 235.5 L431.2 234.16 L431.4 232.1 L431.6 229.41 L431.8 226.25 L432 222.79 L432.2 219.25 L432.4 215.84 L432.6 212.77 L432.8 210.2 L433 208.29 L433.2 207.11 L433.4 208.15 L433.6 210.01 L433.8 212.53 L434 215.58 L434.2 218.99 L434.4 222.54 L434.6 226.05 L434.8 229.29 L435 232.08 L435.2 234.27 L435.4 235.76 L435.6 235.6 L435.8 234.04 L436 231.78 L436.2 228.94 L436.4 225.68 L436.6 222.19 L436.8 218.68 L437 215.35 L437.2 212.4 L437.4 210.01 L437.6 208.29 L437.8 207.63 L438 208.95 L438.2 210.98 L438.4 213.64 L438.6 216.79 L438.8 220.24 L439 223.79 L439.2 227.24 L439.4 230.39 L439.6 233.05 L439.8 235.09 L440 236.4 L440.2 235.75 L440.4 234.04 L440.6 231.66 L440.8 228.73 L441 225.41 L441.2 221.91 L441.4 218.42 L441.6 215.16 L441.8 212.32 L442 210.04 L442.2 208.45 L442.4 208.2 L442.6 209.63 L442.8 211.77 L443 214.51 L443.2 217.71 L443.4 221.18 L443.6 224.72 L443.8 228.13 L444 231.21 L444.2 233.79 L444.4 235.72 L444.6 236.94 L444.8 236 L445 234.2 L445.2 231.76 L445.4 228.78 L445.6 225.45 L445.8 221.94 L446 218.48 L446.2 215.26 L446.4 212.47 L446.6 210.26 L446.8 208.74 L447 208.68 L447.2 210.17 L447.4 212.35 L447.6 215.13 L447.8 218.34 L448 221.81 L448.2 225.34 L448.4 228.73 L448.6 231.78 L448.8 234.32 L449 236.22 L449.2 237.4 L449.4 236.37 L449.6 234.56 L449.8 232.1 L450 229.12 L450.2 225.79 L450.4 222.29 L450.6 218.85 L450.8 215.64 L451 212.87 L451.2 210.67 L451.4 209.16 L451.6 209.09 L451.8 210.57 L452 212.74 L452.2 215.49 L452.4 218.68 L452.6 222.14 L452.8 225.65 L453 229.03 L453.2 232.08 L453.4 234.62 L453.6 236.54 L453.8 237.75 L454 236.83 L454.2 235.07 L454.4 232.66 L454.6 229.73 L454.8 226.43 L455 222.97 L455.2 219.53 L455.4 216.32 L455.6 213.53 L455.8 211.29 L456 209.73 L456.2 209.44 L456.4 210.85 L456.6 212.94 L456.8 215.62 L457 218.75 L457.2 222.17 L457.4 225.66 L457.6 229.04 L457.8 232.12 L458 234.72 L458.2 236.71 L458.4 238.01 L458.6 237.41 L458.8 235.76 L459 233.45 L459.2 230.6 L459.4 227.37 L459.6 223.95 L459.8 220.51 L460 217.28 L460.2 214.42 L460.4 212.09 L460.6 210.41 L460.8 209.73 L461 210.99 L461.2 212.95 L461.4 215.51 L461.6 218.55 L461.8 221.9 L462 225.37 L462.2 228.77 L462.4 231.9 L462.6 234.6 L462.8 236.72 L463 238.17 L463.2 238.07 L463.4 236.59 L463.6 234.44 L463.8 231.73 L464 228.6 L464.2 225.22 L464.4 221.8 L464.6 218.51 L464.8 215.56 L465 213.1 L465.2 211.25 L465.4 210.11 L465.6 211.04 L465.8 212.8 L466 215.19 L466.2 218.09 L466.4 221.34 L466.6 224.78 L466.8 228.2 L467 231.41 L467.2 234.24 L467.4 236.53 L467.6 238.18 L467.8 238.78 L468 237.53 L468.2 235.6 L468.4 233.07 L468.6 230.08 L468.8 226.79 L469 223.38 L469.2 220.05 L469.4 216.98 L469.6 214.35 L469.8 212.29 L470 210.9 L470.2 211.04 L470.4 212.54 L470.6 214.7 L470.8 217.41 L471 220.53 L471.2 223.9 L471.4 227.32 L471.6 230.61 L471.8 233.59 L472 236.09 L472.2 238 L472.4 239.22 L472.6 238.51 L472.8 236.86 L473 234.58 L473.2 231.78 L473.4 228.62 L473.6 225.26 L473.8 221.89 L474 218.71 L474.2 215.89 L474.4 213.58 L474.6 211.89 L474.8 211.06 L475 212.24 L475.2 214.1 L475.4 216.56 L475.6 219.49 L475.8 222.74 L476 226.14 L476.2 229.5 L476.4 232.63 L476.6 235.36 L476.8 237.55 L477 239.1 L477.2 239.46 L477.4 238.16 L477.6 236.2 L477.8 233.66 L478 230.68 L478.2 227.41 L478.4 224.05 L478.6 220.77 L478.8 217.76 L479 215.18 L479.2 213.17 L479.4 211.81 L479.6 211.99 L479.8 213.48 L480 215.61 L480.2 218.28 L480.4 221.36 L480.6 224.68 L480.8 228.06 L481 231.32 L481.2 234.27 L481.4 236.77 L481.6 238.69 L481.8 239.94 L482 239.4 L482.2 237.82 L482.4 235.62 L482.6 232.9 L482.8 229.81 L483 226.5 L483.2 223.17 L483.4 220 L483.6 217.16 L483.8 214.8 L484 213.04 L484.2 211.96 L484.4 212.94 L484.6 214.66 L484.8 216.99 L485 219.8 L485.2 222.97 L485.4 226.31 L485.6 229.65 L485.8 232.8 L486 235.59 L486.2 237.89 L486.4 239.58 L486.6 240.46 L486.8 239.35 L487 237.57 L487.2 235.21 L487.4 232.37 L487.6 229.21 L487.8 225.9 L488 222.62 L488.2 219.55 L488.4 216.86 L488.6 214.69 L488.8 213.13 L489 212.59 L489.2 213.83 L489.4 215.72 L489.6 218.18 L489.8 221.09 L490 224.29 L490.2 227.63 L490.4 230.91 L490.6 233.97 L490.8 236.63 L491 238.77 L491.2 240.29 L491.4 240.65 L491.6 239.38 L491.8 237.47 L492 235 L492.2 232.1 L492.4 228.91 L492.6 225.61 L492.8 222.38 L493 219.4 L493.2 216.83 L493.4 214.78 L493.6 213.37 L493.8 213.25 L494 214.62 L494.2 216.61 L494.4 219.15 L494.6 222.1 L494.8 225.33 L495 228.65 L495.2 231.88 L495.4 234.86 L495.6 237.43 L495.8 239.46 L496 240.86 L496.2 240.9 L496.4 239.54 L496.6 237.55 L496.8 235.03 L497 232.09 L497.2 228.9 L497.4 225.62 L497.6 222.44 L497.8 219.52 L498 217.02 L498.2 215.06 L498.4 213.73 L498.6 213.85 L498.8 215.27 L499 217.31 L499.2 219.88 L499.4 222.85 L499.6 226.07 L499.8 229.36 L500 232.56 L500.2 235.49 L500.4 238.01 L500.6 239.98 L500.8 241.33 L501 241.23 L501.2 239.84 L501.4 237.83 L501.6 235.3 L501.8 232.36 L502 229.18 L502.2 225.93 L502.4 222.77 L502.6 219.89 L502.8 217.42 L503 215.49 L503.2 214.19 L503.4 214.35 L503.6 215.77 L503.8 217.81 L504 220.36 L504.2 223.32 L504.4 226.52 L504.6 229.79 L504.8 232.97 L505 235.88 L505.2 238.39 L505.4 240.36 L505.6 241.71 L505.8 241.65 L506 240.29 L506.2 238.31 L506.4 235.81 L506.6 232.91 L506.8 229.76 L507 226.52 L507.2 223.38 L507.4 220.49 L507.6 218.02 L507.8 216.07 L508 214.73 L508.2 214.75 L508.4 216.12 L508.6 218.1 L508.8 220.61 L509 223.52 L509.2 226.68 L509.4 229.93 L509.6 233.11 L509.8 236.03 L510 238.57 L510.2 240.58 L510.4 242 L510.6 242.17 L510.8 240.88 L511 238.99 L511.2 236.56 L511.4 233.72 L511.6 230.61 L511.8 227.4 L512 224.26 L512.2 221.34 L512.4 218.82 L512.6 216.8 L512.8 215.37 L513 215.08 L513.2 216.34 L513.4 218.21 L513.6 220.62 L513.8 223.45 L514 226.56 L514.2 229.79 L514.4 232.97 L514.6 235.94 L514.8 238.54 L515 240.65 L515.2 242.17 L515.4 242.75 L515.6 241.6 L515.8 239.84 L516 237.53 L516.2 234.78 L516.4 231.74 L516.6 228.56 L516.8 225.41 L517 222.45 L517.2 219.83 L517.4 217.7 L517.6 216.14 L517.8 215.35 L518 216.45 L518.2 218.17 L518.4 220.43 L518.6 223.15 L518.8 226.18 L519 229.38 L519.2 232.56 L519.4 235.58 L519.6 238.28 L519.8 240.52 L520 242.21 L520.2 243.27 L520.4 242.41 L520.6 240.83 L520.8 238.69 L521 236.07 L521.2 233.12 L521.4 229.98 L521.6 226.81 L521.8 223.79 L522 221.06 L522.2 218.76 L522.4 217.01 L522.6 215.87 L522.8 216.43 L523 217.94 L523.2 220.02 L523.4 222.58 L523.6 225.51 L523.8 228.65 L524 231.85 L524.2 234.94 L524.4 237.77 L524.6 240.19 L524.8 242.09 L525 243.39 L525.2 243.28 L525.4 241.94 L525.6 240.01 L525.8 237.56 L526 234.73 L526.2 231.65 L526.4 228.48 L526.6 225.38 L526.8 222.51 L527 220.03 L527.2 218.04 L527.4 216.64 L527.6 216.36 L527.8 217.6 L528 219.44 L528.2 221.8 L528.4 224.59 L528.6 227.65 L528.8 230.85 L529 234 L529.2 236.96 L529.4 239.58 L529.6 241.72 L529.8 243.3 L530 244.13 L530.2 243.08 L530.4 241.42 L530.6 239.21 L530.8 236.55 L531 233.57 L531.2 230.43 L531.4 227.28 L531.6 224.28 L531.8 221.6 L532 219.35 L532.2 217.65 L532.4 216.56 L532.6 217.26 L532.8 218.8 L533 220.9 L533.2 223.48 L533.4 226.41 L533.6 229.55 L533.8 232.75 L534 235.83 L534.2 238.64 L534.4 241.05 L534.6 242.95 L534.8 244.25 L535 244.18 L535.2 242.86 L535.4 240.95 L535.6 238.53 L535.8 235.72 L536 232.66 L536.2 229.49 L536.4 226.39 L536.6 223.51 L536.8 221 L537 218.97 L537.2 217.51 L537.4 217.01 L537.6 218.18 L537.8 219.95 L538 222.25 L538.2 224.98 L538.4 228 L538.6 231.18 L538.8 234.34 L539 237.34 L539.2 240.02 L539.4 242.25 L539.6 243.93 L539.8 245.01 L540 244.23 L540.2 242.69 L540.4 240.59 L540.6 238.03 L540.8 235.12 L541 232 L541.2 228.85 L541.4 225.8 L541.6 223.03 L541.8 220.67 L542 218.82 L542.2 217.56 L542.4 217.69 L542.6 219.04 L542.8 220.98 L543 223.42 L543.2 226.25 L543.4 229.34 L543.6 232.52 L543.8 235.65 L544 238.56 L544.2 241.12 L544.4 243.21 L544.6 244.73 L544.8 245.41 L545 244.32 L545.2 242.63 L545.4 240.4 L545.6 237.74 L545.8 234.77 L546 231.63 L546.2 228.49 L546.4 225.51 L546.6 222.82 L546.8 220.57 L547 218.85 L547.2 217.74 L547.4 218.32 L547.6 219.8 L547.8 221.86 L548 224.39 L548.2 227.28 L548.4 230.39 L548.6 233.58 L548.8 236.67 L549 239.52 L549.2 242 L549.4 243.98 L549.6 245.39 L549.8 245.7 L550 244.51 L550.2 242.72 L550.4 240.41 L550.6 237.69 L550.8 234.68 L551 231.54 L551.2 228.42 L551.4 225.47 L551.6 222.85 L551.8 220.67 L552 219.04 L552.2 218.01 L552.4 218.86 L552.6 220.43 L552.8 222.54 L553 225.12 L553.2 228.05 L553.4 231.17 L553.6 234.35 L553.8 237.42 L554 240.24 L554.2 242.66 L554.4 244.59 L554.6 245.94 L554.8 246.07 L555 244.82 L555.2 242.99 L555.4 240.64 L555.6 237.9 L555.8 234.88 L556 231.73 L556.2 228.62 L556.4 225.7 L556.6 223.1 L556.8 220.95 L557 219.35 L557.2 218.36 L557.4 219.3 L557.6 220.89 L557.8 223.03 L558 225.62 L558.2 228.55 L558.4 231.67 L558.6 234.85 L558.8 237.91 L559 240.72 L559.2 243.13 L559.4 245.05 L559.6 246.4 L559.8 246.51 L560 245.27 L560.2 243.44 L560.4 241.1 L560.6 238.36 L560.8 235.35 L561 232.21 L561.2 229.1 L561.4 226.17 L561.6 223.56 L561.8 221.4 L562 219.79 L562.2 218.77 L562.4 219.63 L562.6 221.19 L562.8 223.3 L563 225.87 L563.2 228.78 L563.4 231.89 L563.6 235.07 L563.8 238.14 L564 240.97 L564.2 243.41 L564.4 245.37 L564.6 246.76 L564.8 247.04 L565 245.85 L565.2 244.07 L565.4 241.78 L565.6 239.08 L565.8 236.09 L566 232.96 L566.2 229.84 L566.4 226.89 L566.6 224.24 L566.8 222.03 L567 220.34 L567.2 219.25 L567.4 219.85 L567.6 221.34 L567.8 223.37 L568 225.88 L568.2 228.75 L568.4 231.84 L568.6 235.01 L568.8 238.1 L569 240.97 L569.2 243.49 L569.4 245.53 L569.6 247.02 L569.8 247.64 L570 246.55 L570.2 244.88 L570.4 242.68 L570.6 240.05 L570.8 237.1 L571 233.99 L571.2 230.86 L571.4 227.87 L571.6 225.15 L571.8 222.84 L572 221.04 L572.2 219.82 L572.4 220 L572.6 221.35 L572.8 223.26 L573 225.67 L573.2 228.46 L573.4 231.51 L573.6 234.67 L573.8 237.79 L574 240.73 L574.2 243.34 L574.4 245.51 L574.6 247.14 L574.8 248.18 L575 247.35 L575.2 245.83 L575.4 243.77 L575.6 241.24 L575.8 238.38 L576 235.3 L576.2 232.16 L576.4 229.12 L576.6 226.31 L576.8 223.87 L577 221.91 L577.2 220.51 L577.4 220.09 L577.6 221.25 L577.8 223 L578 225.26 L578.2 227.93 L578.4 230.91 L578.6 234.05 L578.8 237.2 L579 240.21 L579.2 242.94 L579.4 245.27 L579.6 247.09 L579.8 248.35 L580 248.2 L580.2 246.89 L580.4 245.01 L580.6 242.65 L580.8 239.89 L581 236.88 L581.2 233.75 L581.4 230.66 L581.6 227.75 L581.8 225.15 L582 223 L582.2 221.38 L582.4 220.34 L582.6 221.11 L582.8 222.62 L583 224.68 L583.2 227.2 L583.4 230.07 L583.6 233.16 L583.8 236.32 L584 239.4 L584.2 242.27 L584.4 244.78 L584.6 246.83 L584.8 248.33 L585 249.05 L585.2 248 L585.4 246.37 L585.6 244.21 L585.8 241.62 L586 238.71 L586.2 235.62 L586.4 232.49 L586.6 229.48 L586.8 226.73 L587 224.36 L587.2 222.47 L587.4 221.15 L587.6 220.97 L587.8 222.21 L588 224.01 L588.2 226.31 L588.4 229.02 L588.6 232.01 L588.8 235.15 L589 238.29 L589.2 241.28 L589.4 243.98 L589.6 246.28 L589.8 248.07 L590 249.3 L590.2 249.09 L590.4 247.76 L590.6 245.88 L590.8 243.51 L591 240.76 L591.2 237.75 L591.4 234.63 L591.6 231.54 L591.8 228.63 L592 226.03 L592.2 223.87 L592.4 222.22 L592.6 221.16 L592.8 221.82 L593 223.3 L593.2 225.32 L593.4 227.8 L593.6 230.64 L593.8 233.71 L594 236.86 L594.2 239.95 L594.4 242.84 L594.6 245.39 L594.8 247.5 L595 249.08 L595.2 250.07 L595.4 249.11 L595.6 247.57 L595.8 245.49 L596 242.97 L596.2 240.11 L596.4 237.05 L596.6 233.93 L596.8 230.89 L597 228.08 L597.2 225.62 L597.4 223.63 L597.6 222.18 L597.8 221.56 L598 222.65 L598.2 224.31 L598.4 226.49 L598.6 229.1 L598.8 232.03 L599 235.14 L599.2 238.28 L599.4 241.32 L599.6 244.12 L599.8 246.54 L600 248.49 L600.2 249.89 L600.4 250.3 L600.6 249.16 L600.8 247.46 L601 245.25 L601.2 242.62 L601.4 239.7 L601.6 236.61 L601.8 233.51 L602 230.53 L602.2 227.82 L602.4 225.49 L602.6 223.65 L602.8 222.36 L603 222.23 L603.2 223.46 L603.4 225.25 L603.6 227.53 L603.8 230.21 L604 233.17 L604.2 236.28 L604.4 239.39 L604.6 242.35 L604.8 245.05 L605 247.36 L605.2 249.17 L605.4 250.44 L605.6 250.44 L605.8 249.19 L606 247.4 L606.2 245.12 L606.4 242.45 L606.6 239.52 L606.8 236.45 L607 233.39 L607.2 230.48 L607.4 227.85 L607.6 225.62 L607.8 223.88 L608 222.7 L608.2 222.89 L608.4 224.2 L608.6 226.06 L608.8 228.38 L609 231.08 L609.2 234.05 L609.4 237.13 L609.6 240.2 L609.8 243.11 L610 245.73 L610.2 247.96 L610.4 249.69 L610.6 250.87 L610.8 250.65 L611 249.35 L611.2 247.52 L611.4 245.21 L611.6 242.54 L611.8 239.61 L612 236.57 L612.2 233.55 L612.4 230.68 L612.6 228.11 L612.8 225.94 L613 224.27 L613.2 223.14 L613.4 223.47 L613.6 224.81 L613.8 226.68 L614 229.01 L614.2 231.7 L614.4 234.65 L614.6 237.7 L614.8 240.74 L615 243.61 L615.2 246.2 L615.4 248.38 L615.6 250.08 L615.8 251.23 L616 250.95 L616.2 249.65 L616.4 247.82 L616.6 245.53 L616.8 242.88 L617 239.98 L617.2 236.96 L617.4 233.97 L617.6 231.14 L617.8 228.59 L618 226.44 L618.2 224.78 L618.4 223.66 L618.6 223.96 L618.8 225.27 L619 227.11 L619.2 229.41 L619.4 232.07 L619.6 234.98 L619.8 238.01 L620 241.02 L620.2 243.87 L620.4 246.44 L620.6 248.63 L620.8 250.34 L621 251.51 L621.2 251.34 L621.4 250.08 L621.6 248.3 L621.8 246.07 L622 243.46 L622.2 240.6 L622.4 237.62 L622.6 234.65 L622.8 231.83 L623 229.28 L623.2 227.11 L623.4 225.41 L623.6 224.25 L623.8 224.36 L624 225.6 L624.2 227.37 L624.4 229.6 L624.6 232.2 L624.8 235.06 L625 238.05 L625.2 241.04 L625.4 243.89 L625.6 246.48 L625.8 248.7 L626 250.46 L626.2 251.7 L626.4 251.8 L626.6 250.64 L626.8 248.96 L627 246.81 L627.2 244.28 L627.4 241.48 L627.6 238.54 L627.8 235.59 L628 232.76 L628.2 230.18 L628.4 227.96 L628.6 226.19 L628.8 224.94 L629 224.69 L629.2 225.82 L629.4 227.47 L629.6 229.6 L629.8 232.1 L630 234.89 L630.2 237.83 L630.4 240.8 L630.6 243.67 L630.8 246.3 L631 248.59 L631.2 250.45 L631.4 251.8 L631.6 252.32 L631.8 251.31 L632 249.76 L632.2 247.74 L632.4 245.32 L632.6 242.6 L632.8 239.72 L633 236.78 L633.2 233.94 L633.4 231.3 L633.6 229 L633.8 227.12 L634 225.73 L634.2 224.99 L634.4 225.95 L634.6 227.45 L634.8 229.42 L635 231.8 L635.2 234.49 L635.4 237.37 L635.6 240.32 L635.8 243.2 L636 245.89 L636.2 248.28 L636.4 250.26 L636.6 251.76 L636.8 252.73 L637 252.03 L637.2 250.67 L637.4 248.81 L637.6 246.54 L637.8 243.94 L638 241.13 L638.2 238.22 L638.4 235.36 L638.6 232.67 L638.8 230.26 L639 228.24 L639.2 226.68 L639.4 225.65 L639.6 226.04 L639.8 227.33 L640 229.12 L640.2 231.33 L640.4 233.89 L640.6 236.68 L640.8 239.59 L641 242.48 L641.2 245.23 L641.4 247.73 L641.6 249.86 L641.8 251.54 L642 252.72 L642.2 252.76 L642.4 251.62 L642.6 249.98 L642.8 247.9 L643 245.45 L643.2 242.74 L643.4 239.89 L643.6 237.03 L643.8 234.27 L644 231.75 L644.2 229.57 L644.4 227.82 L644.6 226.56 L644.8 226.14 L645 227.18 L645.2 228.72 L645.4 230.73 L645.6 233.11 L645.8 235.78 L646 238.61 L646.2 241.49 L646.4 244.3 L646.6 246.9 L646.8 249.19 L647 251.08 L647.2 252.5 L647.4 253.4 L647.6 252.56 L647.8 251.19 L648 249.34 L648.2 247.09 L648.4 244.53 L648.6 241.77 L648.8 238.93 L649 236.14 L649.2 233.51 L649.4 231.17 L649.6 229.2 L649.8 227.68 L650 226.67 L650.2 227.06 L650.4 228.31 L650.6 230.05 L650.8 232.21 L651 234.7 L651.2 237.43 L651.4 240.27 L651.6 243.1 L651.8 245.8 L652 248.25 L652.2 250.36 L652.4 252.04 L652.6 253.23 L652.8 253.43 L653 252.37 L653.2 250.82 L653.4 248.82 L653.6 246.46 L653.8 243.84 L654 241.07 L654.2 238.26 L654.4 235.55 L654.6 233.05 L654.8 230.86 L655 229.07 L655.2 227.76 L655.4 227.04 L655.6 227.97 L655.8 229.39 L656 231.26 L656.2 233.52 L656.4 236.08 L656.6 238.83 L656.8 241.64 L657 244.41 L657.2 247.01 L657.4 249.33 L657.6 251.29 L657.8 252.79 L658 253.81 L658.2 253.45 L658.4 252.24 L658.6 250.56 L658.8 248.47 L659 246.05 L659.2 243.4 L659.4 240.63 L659.6 237.88 L659.8 235.24 L660 232.85 L660.2 230.79 L660.4 229.16 L660.6 228 L660.8 227.77 L661 228.81 L661.2 230.35 L661.4 232.31 L661.6 234.64 L661.8 237.22 L662 239.97 L662.2 242.75 L662.4 245.46 L662.6 247.97 L662.8 250.18 L663 252.01 L663.2 253.39 L663.4 254.27 L663.6 253.52 L663.8 252.21 L664 250.45 L664.2 248.31 L664.4 245.85 L664.6 243.2 L664.8 240.46 L665 237.75 L665.2 235.19 L665.4 232.89 L665.6 230.93 L665.8 229.4 L666 228.35 L666.2 228.44 L666.4 229.57 L666.6 231.17 L666.8 233.18 L667 235.53 L667.2 238.12 L667.4 240.85 L667.6 243.6 L667.8 246.25 L668 248.69 L668.2 250.82 L668.4 252.56 L668.6 253.85 L668.8 254.54 L669 253.67 L669.2 252.31 L669.4 250.52 L669.6 248.35 L669.8 245.89 L670 243.25 L670.2 240.54 L670.4 237.88 L670.6 235.37 L670.8 233.13 L671 231.24 L671.2 229.78 L671.4 228.79 L671.6 229.05 L671.8 230.21 L672 231.83 L672.2 233.86 L672.4 236.2 L672.6 238.78 L672.8 241.48 L673 244.19 L673.2 246.8 L673.4 249.2 L673.6 251.28 L673.8 252.97 L674 254.22 L674.2 254.81 L674.4 253.92 L674.6 252.55 L674.8 250.76 L675 248.6 L675.2 246.17" fill="none" stroke="#B99B5E" stroke-width="1.35" stroke-linejoin="round"/>
<rect x="366" y="3.3" width="309.9" height="260.3" stroke="#111" stroke-width="1.3" fill="none"/>
<line x1="366" y1="2.7" x2="366" y2="264.2" stroke="#111" stroke-width="1.9"/>
<line x1="366" y1="68.6" x2="675.9" y2="68.6" stroke="#111" stroke-width="1.3"/>
<line x1="366" y1="133.9" x2="675.9" y2="133.9" stroke="#111" stroke-width="1.3"/>
<line x1="366" y1="199.1" x2="675.9" y2="199.1" stroke="#111" stroke-width="1.3"/>
<line x1="366" y1="55.02" x2="368.5" y2="55.02" stroke="#111" stroke-width="1.1"/>
<line x1="366" y1="41.44" x2="371.5" y2="41.44" stroke="#111" stroke-width="1.1"/>
<line x1="366" y1="27.86" x2="368.5" y2="27.86" stroke="#111" stroke-width="1.1"/>
<line x1="366" y1="14.28" x2="371.5" y2="14.28" stroke="#111" stroke-width="1.1"/>
<line x1="396.99" y1="68.6" x2="396.99" y2="66.6" stroke="#111" stroke-width="1"/>
<line x1="427.98" y1="68.6" x2="427.98" y2="65.6" stroke="#111" stroke-width="1"/>
<line x1="458.97" y1="68.6" x2="458.97" y2="66.6" stroke="#111" stroke-width="1"/>
<line x1="489.96" y1="68.6" x2="489.96" y2="65.6" stroke="#111" stroke-width="1"/>
<line x1="520.95" y1="68.6" x2="520.95" y2="66.6" stroke="#111" stroke-width="1"/>
<line x1="551.94" y1="68.6" x2="551.94" y2="65.6" stroke="#111" stroke-width="1"/>
<line x1="582.93" y1="68.6" x2="582.93" y2="66.6" stroke="#111" stroke-width="1"/>
<line x1="613.92" y1="68.6" x2="613.92" y2="65.6" stroke="#111" stroke-width="1"/>
<line x1="644.91" y1="68.6" x2="644.91" y2="66.6" stroke="#111" stroke-width="1"/>
<line x1="366" y1="120.32" x2="368.5" y2="120.32" stroke="#111" stroke-width="1.1"/>
<line x1="366" y1="106.74" x2="371.5" y2="106.74" stroke="#111" stroke-width="1.1"/>
<line x1="366" y1="93.16" x2="368.5" y2="93.16" stroke="#111" stroke-width="1.1"/>
<line x1="366" y1="79.58" x2="371.5" y2="79.58" stroke="#111" stroke-width="1.1"/>
<line x1="396.99" y1="133.9" x2="396.99" y2="131.9" stroke="#111" stroke-width="1"/>
<line x1="427.98" y1="133.9" x2="427.98" y2="130.9" stroke="#111" stroke-width="1"/>
<line x1="458.97" y1="133.9" x2="458.97" y2="131.9" stroke="#111" stroke-width="1"/>
<line x1="489.96" y1="133.9" x2="489.96" y2="130.9" stroke="#111" stroke-width="1"/>
<line x1="520.95" y1="133.9" x2="520.95" y2="131.9" stroke="#111" stroke-width="1"/>
<line x1="551.94" y1="133.9" x2="551.94" y2="130.9" stroke="#111" stroke-width="1"/>
<line x1="582.93" y1="133.9" x2="582.93" y2="131.9" stroke="#111" stroke-width="1"/>
<line x1="613.92" y1="133.9" x2="613.92" y2="130.9" stroke="#111" stroke-width="1"/>
<line x1="644.91" y1="133.9" x2="644.91" y2="131.9" stroke="#111" stroke-width="1"/>
<line x1="366" y1="185.52" x2="368.5" y2="185.52" stroke="#111" stroke-width="1.1"/>
<line x1="366" y1="171.94" x2="371.5" y2="171.94" stroke="#111" stroke-width="1.1"/>
<line x1="366" y1="158.36" x2="368.5" y2="158.36" stroke="#111" stroke-width="1.1"/>
<line x1="366" y1="144.78" x2="371.5" y2="144.78" stroke="#111" stroke-width="1.1"/>
<line x1="396.99" y1="199.1" x2="396.99" y2="197.1" stroke="#111" stroke-width="1"/>
<line x1="427.98" y1="199.1" x2="427.98" y2="196.1" stroke="#111" stroke-width="1"/>
<line x1="458.97" y1="199.1" x2="458.97" y2="197.1" stroke="#111" stroke-width="1"/>
<line x1="489.96" y1="199.1" x2="489.96" y2="196.1" stroke="#111" stroke-width="1"/>
<line x1="520.95" y1="199.1" x2="520.95" y2="197.1" stroke="#111" stroke-width="1"/>
<line x1="551.94" y1="199.1" x2="551.94" y2="196.1" stroke="#111" stroke-width="1"/>
<line x1="582.93" y1="199.1" x2="582.93" y2="197.1" stroke="#111" stroke-width="1"/>
<line x1="613.92" y1="199.1" x2="613.92" y2="196.1" stroke="#111" stroke-width="1"/>
<line x1="644.91" y1="199.1" x2="644.91" y2="197.1" stroke="#111" stroke-width="1"/>
<line x1="366" y1="250.02" x2="368.5" y2="250.02" stroke="#111" stroke-width="1.1"/>
<line x1="366" y1="236.44" x2="371.5" y2="236.44" stroke="#111" stroke-width="1.1"/>
<line x1="366" y1="222.86" x2="368.5" y2="222.86" stroke="#111" stroke-width="1.1"/>
<line x1="366" y1="209.28" x2="371.5" y2="209.28" stroke="#111" stroke-width="1.1"/>
<line x1="396.99" y1="263.6" x2="396.99" y2="261.6" stroke="#111" stroke-width="1"/>
<line x1="427.98" y1="263.6" x2="427.98" y2="260.6" stroke="#111" stroke-width="1"/>
<line x1="458.97" y1="263.6" x2="458.97" y2="261.6" stroke="#111" stroke-width="1"/>
<line x1="489.96" y1="263.6" x2="489.96" y2="260.6" stroke="#111" stroke-width="1"/>
<line x1="520.95" y1="263.6" x2="520.95" y2="261.6" stroke="#111" stroke-width="1"/>
<line x1="551.94" y1="263.6" x2="551.94" y2="260.6" stroke="#111" stroke-width="1"/>
<line x1="582.93" y1="263.6" x2="582.93" y2="261.6" stroke="#111" stroke-width="1"/>
<line x1="613.92" y1="263.6" x2="613.92" y2="260.6" stroke="#111" stroke-width="1"/>
<line x1="644.91" y1="263.6" x2="644.91" y2="261.6" stroke="#111" stroke-width="1"/>
<text x="362.4" y="15.75" font-size="10.6" text-anchor="end" fill="#1a1a1a" style="">0.20</text>
<text x="362.4" y="41.3" font-size="10.6" text-anchor="end" fill="#1a1a1a" style="">0.15</text>
<text x="362.4" y="70.5" font-size="10.6" text-anchor="end" fill="#1a1a1a" style="">0.10</text>
<text x="362.4" y="82.5" font-size="10.6" text-anchor="end" fill="#1a1a1a" style="">0.20</text>
<text x="362.4" y="108.4" font-size="10.6" text-anchor="end" fill="#1a1a1a" style="">0.15</text>
<text x="362.4" y="137.5" font-size="10.6" text-anchor="end" fill="#1a1a1a" style="">0.10</text>
<text x="362.4" y="148.6" font-size="10.6" text-anchor="end" fill="#1a1a1a" style="">0.20</text>
<text x="362.4" y="173.8" font-size="10.6" text-anchor="end" fill="#1a1a1a" style="">0.15</text>
<text x="362.4" y="202.9" font-size="10.6" text-anchor="end" fill="#1a1a1a" style="">0.10</text>
<text x="362.4" y="214" font-size="10.6" text-anchor="end" fill="#1a1a1a" style="">0.20</text>
<text x="362.4" y="239.8" font-size="10.6" text-anchor="end" fill="#1a1a1a" style="">0.15</text>
<text x="362.4" y="268.5" font-size="10.6" text-anchor="end" fill="#1a1a1a" style="">0.10</text>
<line x1="621.5" y1="15.4" x2="646.7" y2="15.4" stroke="#E0466A" stroke-width="1.4"/>
<text x="651.8" y="18.6" font-size="10.6" text-anchor="start" fill="#1a1a1a" style="">-2 V</text>
<line x1="621.5" y1="80" x2="646.7" y2="80" stroke="#3FB08A" stroke-width="1.4"/>
<text x="651.8" y="83.2" font-size="10.6" text-anchor="start" fill="#1a1a1a" style="">-3 V</text>
<line x1="621.5" y1="143.1" x2="646.7" y2="143.1" stroke="#1E86B0" stroke-width="1.4"/>
<text x="651.8" y="146.3" font-size="10.6" text-anchor="start" fill="#1a1a1a" style="">-4 V</text>
<line x1="621.5" y1="208.1" x2="646.7" y2="208.1" stroke="#B99B5E" stroke-width="1.4"/>
<text x="651.8" y="211.3" font-size="10.6" text-anchor="start" fill="#1a1a1a" style="">-5 V</text>
<text x="366" y="275.6" font-size="10.6" text-anchor="middle" fill="#1a1a1a" style="">0</text>
<text x="427.98" y="275.6" font-size="10.6" text-anchor="middle" fill="#1a1a1a" style="">2</text>
<text x="489.96" y="275.6" font-size="10.6" text-anchor="middle" fill="#1a1a1a" style="">4</text>
<text x="551.94" y="275.6" font-size="10.6" text-anchor="middle" fill="#1a1a1a" style="">6</text>
<text x="613.92" y="275.6" font-size="10.6" text-anchor="middle" fill="#1a1a1a" style="">8</text>
<text x="675.9" y="275.6" font-size="10.6" text-anchor="middle" fill="#1a1a1a" style="">10</text>
<text x="509" y="285" font-size="10.6" text-anchor="start" fill="#1a1a1a" style=""><tspan style="font-style:italic">t</tspan> / s</text>
<text x="0" y="0" font-size="10.6" text-anchor="middle" fill="#1a1a1a" style="" transform="translate(328.6,139.8) rotate(-90)"><tspan style="font-style:italic">G</tspan> / μS</text>
<text x="0" y="309.3" font-size="12" text-anchor="start" fill="#000" style="font-weight:bold;">C</text>
<path d="M24.5 330 L24.6 299 L24.8 303.5 L25 308 L25.1 314 L25.4 332 L25.4 332 L25.7 341.75 L26 351.5 L26.2 358 L26.3 360.1 L26.6 366.4 L26.9 372.7 L27.2 379 L27.2 379 L27.5 383.38 L27.8 387.77 L28.1 392.15 L28.4 396.54 L28.5 398 L28.7 399.33 L29 401.33 L29.3 403.33 L29.6 405.33 L29.9 407.33 L30 409.55 L30.2 408.32 L30.5 411.64 L30.8 412.97 L31 413.11 L31.1 412.84 L31.4 413.33 L31.7 413.11 L32 412.29 L32.3 410.6 L32.4 407.77 L32.6 406.78 L32.9 400.72 L33.2 394.95 L33.5 381.24 L33.8 367.33 L34 358.08 L34.1 353.97 L34.4 341.27 L34.7 329.26 L34.8 325.04 L35 321.1 L35.3 315.67 L35.3 315.67 L35.6 316.38 L35.9 316.34 L35.9 316.25 L36.2 322.87 L36.4 326.9 L36.5 328.36 L36.8 333.29 L37.1 338.39 L37.2 339.8 L37.4 341.26 L37.7 343.62 L38 345.56 L38.2 346.88 L38.3 349.47 L38.6 356.7 L38.9 364.41 L39.2 371.93 L39.2 371.79 L39.5 379.99 L39.8 388.72 L40.1 396.74 L40.4 404.82 L40.4 405.06 L40.7 408.2 L41 410.73 L41.3 410.6 L41.5 413.74 L41.6 418.43 L41.9 414.29 L42.2 418.92 L42.5 418.94 L42.8 418.09 L43 415.67 L43.1 421.38 L43.4 418.99 L43.7 415.8 L44 412.52 L44.3 414.99 L44.6 412.02 L44.9 412.5 L45 410.14 L45.2 412.55 L45.5 407.84 L45.8 409.51 L46.1 414.44 L46.4 413.12 L46.7 407.87 L47 411.54 L47.3 406.4 L47.6 410.74 L47.9 408.6 L48 405.82 L48.2 404.44 L48.5 402.54 L48.8 409.65 L49.1 403.04 L49.4 409.41 L49.7 410.65 L50 407.6 L50.3 404.51 L50.6 410.18 L50.9 411.13 L51 409.02 L51.2 407.64 L51.5 406.88 L51.8 407.04 L52.1 406.54 L52.4 411.08 L52.7 410.08 L53 409.17 L53 408.45 L53.3 414.25 L53.6 412.52 L53.9 415.25 L54.2 414.77 L54.5 419.85 L54.8 420.62 L55 413.87 L55.1 415.5 L55.4 416.94 L55.7 422.57 L56 421.26 L56.3 418.04 L56.6 417.39 L56.9 421.51 L57 422.36 L57.2 422.89 L57.5 419.38 L57.8 422.71 L58.1 421.69 L58.4 420.69 L58.7 423.95 L59 419.72 L59.3 422.94 L59.6 419.34 L59.9 420.07 L60.2 424.67 L60.5 420.58 L60.8 423.84 L61.1 422.72 L61.4 423.87 L61.7 420.65 L62 420.05 L62 419.75 L62.3 422.73 L62.6 420.72 L62.9 422.49 L63.2 421.88 L63.5 417.3 L63.8 419.86 L64.1 417.33 L64.4 417.16 L64.7 417.64 L65 422.7 L65.3 422.54 L65.6 423.06 L65.9 420.35 L66.2 422.15 L66.5 423.21 L66.8 420.83 L67.1 422.09 L67.4 420.15 L67.7 419.48 L68 420.78 L68.3 424.72 L68.6 422.94 L68.9 425.25 L69.2 422.55 L69.5 421.51 L69.8 424.54 L70.1 424.65 L70.4 419.54 L70.7 423.22 L71 419.45 L71.3 419.28 L71.6 423.63 L71.9 418.35 L72.2 419.42 L72.5 423.87 L72.8 420.56 L73.1 418.96 L73.4 419.62 L73.7 420.5 L74 424 L74.3 420.63 L74.6 425.5 L74.9 423.07 L75.2 425.5 L75.5 425.5 L75.8 422.9 L76.1 422.66 L76.4 423.99 L76.7 421.72 L77 425.02 L77.3 421.34 L77.6 421.15 L77.9 425.5 L78.2 422.86 L78.5 424.68 L78.8 423.73 L79.1 422.67 L79.4 420.78 L79.7 425.39 L80 425.18 L80 425.18 L80.3 419.49 L80.6 419.63 L80.9 421.67 L81.2 423.61 L81.5 420.92 L81.8 421.82 L82.1 421.69 L82.4 419.29 L82.7 421.01 L83 419.63 L83.3 419.29 L83.6 418.32 L83.9 419.54 L84.2 423.79 L84.5 420.6 L84.8 421.9 L85.1 422.03 L85.4 424.08 L85.7 421.11 L86 420.97 L86.3 421.46 L86.6 421.72 L86.9 425.17 L87.2 425.5 L87.5 422.17 L87.8 422.42 L88.1 423.83 L88.4 424.25 L88.7 424.61 L89 422.79 L89.3 421.73 L89.6 423.33 L89.9 422.51 L90.2 425.5 L90.5 422.71 L90.8 422.71 L91.1 425.5 L91.4 423.63 L91.7 425.5 L92 424.21 L92.3 425.5 L92.6 421.54 L92.9 423.39 L93.2 425.02 L93.5 420.68 L93.8 425.5 L94.1 421.24 L94.4 424.81 L94.7 425.5 L95 424.93 L95.3 421.84 L95.6 420.5 L95.9 422.89 L96.2 425.3 L96.5 421.56 L96.8 425.21 L97.1 420.78 L97.4 425.5 L97.7 420.39 L98 422.26 L98.3 425.5 L98.6 425.49 L98.9 425.5 L99.2 425.5 L99.5 425.4 L99.8 425.05 L100 423.51 L100.1 424.01 L100.4 423.4 L100.7 424.44 L101 424.27 L101.3 423.36 L101.6 422.91 L101.9 424.65 L102.2 424.31 L102.5 423.78 L102.8 423.78 L103.1 424.42 L103.4 423.66 L103.7 423.59 L104 423.52 L104.3 423.41 L104.6 422.98 L104.9 424.26 L105.2 423.83 L105.5 424.15 L105.8 423.14 L106.1 423.76 L106.4 423.36 L106.7 423.38 L107 423.7 L107.3 424.89 L107.6 424.08 L107.9 424.12 L108.2 424.57 L108.5 423.83 L108.8 423.38 L109.1 424.44 L109.4 424.4 L109.7 424.71 L110 424.31 L110.3 424.82 L110.6 424.93 L110.9 423.95 L111.2 424.48 L111.5 424.45 L111.8 423.94 L112.1 424.3 L112.4 424.56 L112.7 425.2 L113 425.17 L113.3 423.84 L113.6 424.53 L113.9 423.3 L114.2 423.33 L114.5 424.2 L114.8 424.94 L115.1 423.51 L115.4 424.73 L115.7 424.97 L116 423.83 L116.3 424.59 L116.6 424.91 L116.9 423.96 L117.2 424.63 L117.5 424.7 L117.8 424.42 L118.1 424.95 L118.4 425.03 L118.7 425.16 L119 424.39 L119.3 423.6 L119.6 423.75 L119.9 423.69 L120.2 424.4 L120.5 424.78 L120.8 423.38 L121.1 424.67 L121.4 424.78 L121.7 424.1 L122 424.49 L122.3 423.85 L122.6 425.03 L122.9 423.69 L123.2 425.5 L123.5 425.27 L123.8 424.91 L124.1 424.18 L124.4 425.45 L124.7 425.5 L125 423.84 L125.3 425.08 L125.6 425.19 L125.9 424.8 L126.2 424.87 L126.5 424.36 L126.8 425.31 L127.1 425.39 L127.4 424.17 L127.7 424.97 L128 424.17 L128.3 423.58 L128.6 423.86 L128.9 423.42 L129.2 424.97 L129.5 425.07 L129.8 423.42 L130.1 424.47 L130.4 424.21 L130.7 423.8 L131 424.33 L131.3 424.42 L131.6 425.5 L131.9 424.23 L132.2 424.69 L132.5 425.22 L132.8 424.38 L133.1 425.5 L133.4 425.49 L133.7 425.5 L134 424.58 L134.3 424.68 L134.6 425.15 L134.9 424.57 L135.2 425.18 L135.5 424.5 L135.8 425.38 L136.1 425.5 L136.4 425.5 L136.7 425.5 L137 425.18 L137.3 425.09 L137.6 425.5 L137.9 425.5 L138.2 425.31 L138.5 424.94 L138.8 424.73 L139.1 424.34 L139.4 425.5 L139.7 424.21 L140 425.37 L140 424.97 L140.3 425.5 L140.6 425.22 L140.9 425.5 L141.2 423.85 L141.5 424.57 L141.8 424.74 L142.1 424.3 L142.4 424.81 L142.7 424.67 L143 425.19 L143.3 424.31 L143.6 425.35 L143.9 425.49 L144.2 425.29 L144.5 425.5 L144.8 425.5 L145.1 425.5 L145.4 425.5 L145.7 425.5 L146 425.37 L146.3 425 L146.6 424.57 L146.9 425.1 L147.2 425.5 L147.5 425.5 L147.8 425.5 L148.1 425.45 L148.4 425.5 L148.7 425.1 L149 425.5 L149.3 424.68 L149.6 425.2 L149.9 425.5 L150.2 424.14 L150.5 423.84 L150.8 424.75 L151.1 424.6 L151.4 424.29 L151.7 423.62 L152 424.44 L152.3 424.56 L152.6 424.56 L152.9 425.5 L153.2 424.97 L153.5 425.28 L153.8 425.5 L154.1 425.36 L154.4 424.91 L154.7 425.49 L155 425.37 L155.3 425.47 L155.6 425.5 L155.9 425.13 L156.2 425.5 L156.5 425.5 L156.8 425.5 L157.1 425.5 L157.4 425.5 L157.7 425.5 L158 425.5 L158.3 425.5 L158.6 425.06 L158.9 424.89 L159.2 425.5 L159.5 425.5 L159.8 425.46 L160.1 424.7 L160.4 425.5 L160.7 425.44 L161 425.46 L161.3 424.66 L161.6 425.5 L161.9 425.5 L162.2 425.5 L162.5 425.4 L162.8 425.5 L163.1 424.66 L163.4 425.5 L163.7 425.5 L164 425.5 L164.3 425.02 L164.6 425.5 L164.9 425.25 L165.2 424.41 L165.5 424.39 L165.8 425.5 L166.1 424.57 L166.4 424.25 L166.7 425.5 L167 425.31 L167.3 425.09 L167.6 425.46 L167.9 425.5 L168.2 424.88 L168.5 425.5 L168.8 425.5 L169.1 425.5 L169.4 425.05 L169.7 425.5 L170 424.91 L170.3 425.5 L170.6 424.73 L170.9 425.5 L171.2 425.5 L171.5 425 L171.8 424.78 L172.1 425.5 L172.4 425.5 L172.7 425.5 L173 424.15 L173.3 425.5 L173.6 425.19 L173.9 424.52 L174.2 424.71 L174.5 425.36 L174.8 425.42 L175.1 424.26 L175.4 425.18 L175.7 424.31 L176 425.5 L176.3 424.99 L176.6 425.5 L176.9 425.5 L177.2 425.45 L177.5 424.77 L177.8 425.31 L178.1 424.57 L178.4 424.61 L178.7 425.5 L179 425.18 L179.3 425.5 L179.6 425.06 L179.9 425.5 L180.2 425.5 L180.5 425.28 L180.8 424.88 L181.1 425.46 L181.4 425.5 L181.7 424.86 L182 425.02 L182.3 424.75 L182.6 425.5 L182.9 425.5 L183.2 425.06 L183.5 424.7 L183.8 425.5 L184.1 425.5 L184.4 425.5 L184.7 425.5 L185 425.08 L185.3 425.5 L185.6 424.49 L185.9 425.5 L186.2 424.36 L186.5 424.96 L186.8 425.16 L187.1 424.93 L187.4 424.53 L187.7 424.67 L188 425.5 L188.3 425.17 L188.6 425.42 L188.9 424.7 L189.2 425.5 L189.5 424.95 L189.8 425.46 L190.1 425.5 L190.4 425.5 L190.7 424.12 L191 425.5 L191.3 425.5 L191.6 424.32 L191.9 424.36 L192.2 424.7 L192.5 425.36 L192.8 424.33 L193.1 425.31 L193.4 425.1 L193.7 423.93 L194 425.5 L194.3 423.75 L194.6 424.05 L194.9 425.12 L195.2 423.93 L195.5 424.58 L195.8 424.1 L196.1 424.83 L196.4 425.5 L196.7 425.5 L197 424.29 L197.3 424.46 L197.6 425.5 L197.9 424.62 L198.2 425.14 L198.5 424.85 L198.8 424.78 L199.1 424.62 L199.4 425.5 L199.7 425.5 L200 425.5 L200 425.5 L200.3 425.5 L200.6 424.97 L200.9 425.4 L201.2 425.5 L201.5 425.37 L201.8 424.56 L202.1 424.17 L202.4 425.5 L202.7 425.15 L203 424.62 L203.3 425.08 L203.6 424.94 L203.9 424.83 L204.2 423.88 L204.5 424.46 L204.8 424.59 L205.1 424.2 L205.4 425.5 L205.7 424.78 L206 425.34 L206.3 425.5 L206.6 425.5 L206.9 425.5 L207.2 425.5 L207.5 424.79 L207.8 425.5 L208.1 424.61 L208.4 425.5 L208.7 425.5 L209 425.5 L209.3 424.53 L209.6 424.64 L209.9 425.5 L210.2 425.44 L210.5 425.25 L210.8 425.5 L211.1 424.58 L211.4 425.5 L211.7 425.38 L212 424.75 L212.3 425.27 L212.6 425.5 L212.9 425.5 L213.2 424.52 L213.5 425.5 L213.8 424.64 L214.1 425.5 L214.4 424.56 L214.7 424.4 L215 425.03 L215.3 425.5 L215.6 424.77 L215.9 424.36 L216.2 425.5 L216.5 425.5 L216.8 425.5 L217.1 424.68 L217.4 424.93 L217.7 424.58 L218 425.22 L218.3 424.78 L218.6 424.81 L218.9 425.5 L219.2 425.5 L219.5 425.32 L219.8 424.37 L220.1 425.47 L220.4 425.07 L220.7 425.5 L221 425.5 L221.3 425.5 L221.6 425.5 L221.9 425.32 L222.2 425.5 L222.5 425.5 L222.8 424.85 L223.1 424.61 L223.4 425.08 L223.7 425.43 L224 424.65 L224.3 425.2 L224.6 425.5 L224.9 424.69 L225.2 425.5 L225.5 425.5 L225.8 425.26 L226.1 425.21 L226.4 425.28 L226.7 425.17 L227 425.5 L227.3 425.41 L227.6 425.41 L227.9 424.62 L228.2 425.5 L228.5 424.94 L228.8 424.94 L229.1 424.41 L229.4 425.5 L229.7 425.19 L230 425.5 L230.3 425.5 L230.6 425.5 L230.9 425.5 L231.2 425.5 L231.5 425.5 L231.8 425.5 L232.1 424.4 L232.4 425.19 L232.7 425.32 L233 425.5 L233.3 425.5 L233.6 425.5 L233.9 425.5 L234.2 424.98 L234.5 425.5 L234.8 425.5 L235.1 425 L235.4 425.06 L235.7 425.5 L236 425 L236.3 424.18 L236.6 424.05 L236.9 425.05 L237.2 424.76 L237.5 425.43 L237.8 423.99 L238.1 424.44 L238.4 425.08 L238.7 423.73 L239 423.83 L239.3 424.73 L239.6 424.17 L239.9 423.86 L240.2 424.17 L240.5 424.91 L240.8 424.72 L241.1 423.89 L241.4 423.98 L241.7 425.5 L242 425.4 L242.3 424.6 L242.6 425.5 L242.9 424.53 L243.2 425.29 L243.5 425.5 L243.8 425.5 L244.1 425.18 L244.4 425.5 L244.7 425.5 L245 425.5 L245.3 425.5 L245.6 425.5 L245.9 425.5 L246.2 425.5 L246.5 425.5 L246.8 425.5 L247.1 425.5 L247.4 425.5 L247.7 425.5 L248 425.22" fill="none" stroke="#E0466A" stroke-width="1.6" stroke-linejoin="round"/>
<path d="M25 330 L25.05 299 L25.3 309 L25.4 313 L25.6 323 L25.9 338 L25.9 338 L26.2 345.67 L26.5 353.33 L26.8 361 L26.8 361 L27.1 365 L27.4 369 L27.7 373 L28 377 L28 377 L28.3 379.55 L28.6 382.1 L28.9 384.65 L29.2 387.2 L29.5 389.75 L29.8 392.3 L30 394 L30.1 394.33 L30.4 395.33 L30.7 396.33 L31 397.33 L31.3 398.33 L31.6 399.33 L31.9 400.33 L32.2 401.33 L32.5 402.33 L32.8 403.33 L33 404 L33.1 404.17 L33.4 404.67 L33.7 405.17 L34 405.67 L34.3 406.17 L34.6 406.67 L34.9 407.17 L35.2 407.67 L35.5 408.17 L35.8 408.67 L36 409 L36.1 409.07 L36.4 409.27 L36.7 409.47 L37 409.67 L37.3 409.87 L37.6 410.07 L37.9 410.27 L38.2 410.47 L38.5 410.67 L38.8 410.87 L39 411 L39.1 410.87 L39.4 410.47 L39.7 410.07 L40 409.67 L40.3 409.27 L40.5 409 L40.6 406.1 L40.9 397.4 L41.2 388.7 L41.5 380 L41.5 380 L41.8 368.55 L42.1 357.09 L42.4 345.64 L42.6 338 L42.7 335.63 L43 328.5 L43.3 321.38 L43.4 319 L43.6 319 L43.9 319 L43.9 319 L44.2 327.66 L44.5 333.01 L44.5 337.76 L44.8 339.87 L45.1 343.12 L45.4 338.22 L45.6 342.21 L45.7 340.48 L46 344.57 L46.3 345.7 L46.6 348.36 L46.9 348.43 L47.2 344.94 L47.5 347.68 L47.8 349.78 L48 345.27 L48.1 345.83 L48.4 350.27 L48.7 347.92 L49 354.58 L49.3 350.23 L49.6 349.3 L49.9 350.6 L50.2 351.58 L50.5 351.92 L50.5 354.95 L50.8 355.39 L51.1 354.84 L51.4 359.16 L51.7 355.87 L52 363.81 L52.3 365.37 L52.6 364.02 L52.6 361.07 L52.9 362.62 L53.2 364.08 L53.5 359.55 L53.8 363.99 L54.1 365.83 L54.4 363.16 L54.7 363.07 L55 370.95 L55.3 367.3 L55.6 369.42 L55.9 373.91 L56 370.93 L56.2 367.87 L56.5 375 L56.8 369.08 L57.1 365.79 L57.4 372.77 L57.7 367.37 L58 369.99 L58.3 376.03 L58.6 375.14 L58.9 369.43 L59.2 374.7 L59.5 375.24 L59.7 376.62 L59.8 374.05 L60.1 378.46 L60.4 373.86 L60.7 376.44 L61 377.72 L61.3 383.67 L61.6 375.41 L61.9 382.5 L62.2 377.18 L62.5 381.27 L62.8 379.77 L63.1 380.79 L63.4 384 L63.7 380.74 L64 378.34 L64.3 378.74 L64.6 378.83 L64.9 387.12 L65 385.24 L65.2 389.05 L65.5 387.33 L65.8 381.61 L66.1 388.88 L66.4 390.91 L66.7 391.14 L67 389.54 L67.3 388.78 L67.6 390.51 L67.9 394.74 L68.2 390.31 L68.5 393.78 L68.8 394.18 L69 399.54 L69.1 398.22 L69.4 400 L69.7 399.48 L70 394.43 L70.3 394.07 L70.6 396.92 L70.9 394.89 L71.2 396.83 L71.5 399.6 L71.8 402.24 L72.1 399.17 L72.4 401.75 L72.7 394.81 L73 397.71 L73.3 404.35 L73.6 395.94 L73.9 398.63 L74.2 395.03 L74.5 395.09 L74.8 403.04 L75 403.9 L75.1 400.42 L75.4 395.07 L75.7 396.69 L76 396.13 L76.3 400.65 L76.6 400.85 L76.9 398.5 L77.2 399.41 L77.5 395.33 L77.8 399.66 L78.1 403.81 L78.4 401.94 L78.7 395.44 L79 399.78 L79.3 401.89 L79.6 397.37 L79.9 403.76 L80.2 399.4 L80.5 401.78 L80.8 398.75 L81.1 404.63 L81.4 402.52 L81.7 400.49 L82 396.33 L82 399.29 L82.3 395.3 L82.6 401.01 L82.9 403.87 L83.2 396.8 L83.5 400.01 L83.8 399.65 L84.1 398.82 L84.4 401.86 L84.7 404.18 L85 401.99 L85.3 399.83 L85.6 404.89 L85.9 398.74 L86.2 403.05 L86.5 402.34 L86.8 403.53 L87.1 404.59 L87.4 398.49 L87.7 402.61 L88 400.59 L88.3 403.48 L88.6 406.97 L88.9 404.05 L89.2 398.42 L89.5 403.59 L89.8 406.7 L90 408.82 L90.1 406.66 L90.4 408.76 L90.7 401.1 L91 410.54 L91.3 408.48 L91.6 407.28 L91.9 410.26 L92.2 410.02 L92.5 402.12 L92.8 409.22 L93.1 408.7 L93.4 403.01 L93.7 408.49 L94 406.99 L94.3 403.16 L94.6 409.42 L94.9 402.91 L95.2 407.82 L95.5 406.21 L95.8 404.58 L96.1 407.87 L96.4 407.03 L96.7 404.54 L97 412.28 L97.3 403.53 L97.6 403.19 L97.9 408.52 L98.2 412.64 L98.5 411.51 L98.8 413.13 L99.1 411.04 L99.4 413.44 L99.7 410.4 L100 409.91 L100 411.16 L100.3 408.41 L100.6 408.75 L100.9 412.76 L101.2 409.2 L101.5 412.55 L101.8 412.66 L102.1 410.3 L102.4 411.88 L102.7 412.59 L103 413.14 L103.3 408.91 L103.6 409.22 L103.9 410.68 L104.2 411.34 L104.5 410.48 L104.8 408.93 L105.1 412.36 L105.4 414.97 L105.7 411.51 L106 412.68 L106.3 411.85 L106.6 412.25 L106.9 414.8 L107.2 411.37 L107.5 413.34 L107.8 412.28 L108.1 412.55 L108.4 414.79 L108.7 409.8 L109 414.39 L109.3 411.38 L109.6 413.5 L109.9 414.44 L110 413.59 L110.2 411.99 L110.5 414.62 L110.8 410.07 L111.1 413.26 L111.4 411.78 L111.7 412.63 L112 414.61 L112.3 414.39 L112.6 413.54 L112.9 411.83 L113.2 411.63 L113.5 413.25 L113.8 412.17 L114.1 412.69 L114.4 416.99 L114.7 412.08 L115 416.43 L115.3 413.85 L115.6 413.78 L115.9 413.49 L116.2 412.01 L116.5 414.24 L116.8 412.45 L117.1 414.06 L117.4 413.15 L117.7 416.79 L118 417 L118.3 414.24 L118.6 415.61 L118.9 417.6 L119.2 414.27 L119.5 413.23 L119.8 414.38 L120.1 414.38 L120.4 417.56 L120.7 415.92 L121 415.93 L121.3 418.69 L121.6 415.54 L121.9 419.29 L122.2 418.6 L122.5 417.6 L122.8 420.53 L123.1 418 L123.4 421.52 L123.7 422.02 L124 419.61 L124.3 420.78 L124.6 422.31 L124.9 420.99 L125.2 420.93 L125.5 421.5 L125.8 421.77 L126.1 420.56 L126.4 421.84 L126.7 417.69 L127 419.72 L127.3 420.03 L127.6 418.14 L127.9 418.15 L128.2 416.62 L128.5 421.07 L128.8 417.2 L129.1 417.72 L129.4 420.07 L129.7 415.76 L130 420.43 L130 415.43 L130.3 414.94 L130.6 417.13 L130.9 417.55 L131.2 421.35 L131.5 421.65 L131.8 421.41 L132.1 419.92 L132.4 420.92 L132.7 419.34 L133 423.03 L133.3 420.4 L133.6 419.77 L133.9 421.88 L134.2 418.94 L134.5 419.91 L134.8 423.54 L135.1 418.54 L135.4 418.81 L135.7 419.19 L136 419.5 L136.3 420.55 L136.6 419.55 L136.9 420.11 L137.2 419.53 L137.5 419.49 L137.8 421.71 L138.1 420.07 L138.4 420.3 L138.7 422.69 L139 418.48 L139.3 419.03 L139.6 423.36 L139.9 420.95 L140.2 423.18 L140.5 419.46 L140.8 421.95 L141.1 424.02 L141.4 421.09 L141.7 423.76 L142 422.87 L142.3 421.6 L142.6 425.21 L142.9 421.55 L143.2 421.99 L143.5 422.81 L143.8 420.94 L144.1 424.02 L144.4 422.55 L144.7 422.48 L145 422.21 L145.3 424.93 L145.6 425 L145.9 424.16 L146.2 421.9 L146.5 421.69 L146.8 422.43 L147.1 419.61 L147.4 420.03 L147.7 425.4 L148 420.24 L148.3 425.08 L148.6 423.45 L148.9 424.69 L149.2 419.45 L149.5 420.57 L149.8 423.28 L150 420.26 L150.1 420.46 L150.4 420.98 L150.7 420.52 L151 420.45 L151.3 421.74 L151.6 420.44 L151.9 422.68 L152.2 422.06 L152.5 420.8 L152.8 423.01 L153.1 421.59 L153.4 422.3 L153.7 422.57 L154 421.6 L154.3 422.48 L154.6 421.43 L154.9 421.78 L155.2 423.51 L155.5 423.28 L155.8 422.57 L156.1 422.96 L156.4 423.44 L156.7 421.68 L157 422.54 L157.3 421.65 L157.6 421.53 L157.9 421.37 L158.2 421.45 L158.5 420.87 L158.8 421.06 L159.1 421.28 L159.4 421.73 L159.7 422.21 L160 422.3 L160.3 421.89 L160.6 421.47 L160.9 422.57 L161.2 420.91 L161.5 420.94 L161.8 422.82 L162.1 422.51 L162.4 421.63 L162.7 422.12 L163 421.96 L163.3 422.29 L163.6 422.29 L163.9 422.22 L164.2 423.19 L164.5 423.22 L164.8 422.63 L165.1 422.41 L165.4 421.97 L165.7 423.13 L166 423.67 L166.3 421.85 L166.6 422.97 L166.9 422.93 L167.2 422.78 L167.5 421.22 L167.8 422.42 L168.1 421.53 L168.4 421.48 L168.7 422.39 L169 422.54 L169.3 422.51 L169.6 422.81 L169.9 422.74 L170.2 422.22 L170.5 421.23 L170.8 423 L171.1 423.15 L171.4 423.2 L171.7 422.65 L172 421.32 L172.3 421.71 L172.6 421.51 L172.9 422.78 L173.2 422.56 L173.5 421.7 L173.8 423.55 L174.1 423.61 L174.4 423.42 L174.7 422.39 L175 421.98 L175.3 421.81 L175.6 423.35 L175.9 423.15 L176.2 422.25 L176.5 423.87 L176.8 423.2 L177.1 422.94 L177.4 423.04 L177.7 423.83 L178 423.23 L178.3 423.71 L178.6 422.38 L178.9 423.71 L179.2 422.59 L179.5 424.02 L179.8 422.25 L180.1 422.45 L180.4 422.88 L180.7 422.49 L181 422.8 L181.3 423.78 L181.6 422.1 L181.9 423.55 L182.2 423.45 L182.5 423.77 L182.8 423.05 L183.1 423.16 L183.4 422.97 L183.7 423.33 L184 422.83 L184.3 422.67 L184.6 423.31 L184.9 422.55 L185.2 423.11 L185.5 423.25 L185.8 422.51 L186.1 422.07 L186.4 423.04 L186.7 423.61 L187 422.07 L187.3 423.05 L187.6 423.22 L187.9 423.88 L188.2 423.53 L188.5 422.78 L188.8 422.69 L189.1 424.33 L189.4 423.15 L189.7 422.54 L190 424.63 L190.3 423.03 L190.6 423.32 L190.9 423.35 L191.2 423.22 L191.5 424.36 L191.8 423.46 L192.1 423.71 L192.4 423.67 L192.7 424.68 L193 422.74 L193.3 424.08 L193.6 422.96 L193.9 422.94 L194.2 423.94 L194.5 423.28 L194.8 422.44 L195.1 423.6 L195.4 424.32 L195.7 423.63 L196 423.26 L196.3 424.01 L196.6 424.31 L196.9 422.51 L197.2 422.9 L197.5 424.54 L197.8 424.49 L198.1 422.79 L198.4 424.02 L198.7 424.46 L199 423.79 L199.3 424.09 L199.6 423.71 L199.9 423.1 L200 423.07 L200.2 422.77 L200.5 424.32 L200.8 423.15 L201.1 424.39 L201.4 423.91 L201.7 424.07 L202 425.37 L202.3 423.98 L202.6 424.16 L202.9 423.9 L203.2 423.46 L203.5 423.44 L203.8 424.13 L204.1 424.77 L204.4 423 L204.7 425.03 L205 424.38 L205.3 422.88 L205.6 424.43 L205.9 423.66 L206.2 423.88 L206.5 422.83 L206.8 423.75 L207.1 423.73 L207.4 424.32 L207.7 423.81 L208 424.1 L208.3 424.17 L208.6 422.91 L208.9 422.39 L209.2 423.43 L209.5 422.52 L209.8 422.49 L210.1 422.86 L210.4 423.34 L210.7 423.5 L211 423.57 L211.3 424.29 L211.6 422.29 L211.9 423.41 L212.2 422.3 L212.5 423.74 L212.8 423.21 L213.1 422.52 L213.4 422.96 L213.7 423.81 L214 423.37 L214.3 424.53 L214.6 423.16 L214.9 423.2 L215.2 424.69 L215.5 424.03 L215.8 422.94 L216.1 424.66 L216.4 423.72 L216.7 425.17 L217 424.44 L217.3 424.83 L217.6 424.99 L217.9 423.97 L218.2 424.95 L218.5 422.56 L218.8 423.18 L219.1 424.25 L219.4 422.17 L219.7 423.7 L220 424.47 L220.3 423.82 L220.6 424.27 L220.9 422.53 L221.2 423.82 L221.5 424.18 L221.8 423.96 L222.1 424.1 L222.4 425.14 L222.7 423.72 L223 423.48 L223.3 424.77 L223.6 425.5 L223.9 425.15 L224.2 424.63 L224.5 423.56 L224.8 424.87 L225.1 422.65 L225.4 423.03 L225.7 424.26 L226 424.49 L226.3 423.34 L226.6 424.64 L226.9 422.85 L227.2 424.17 L227.5 423.07 L227.8 423.64 L228.1 423.69 L228.4 423.38 L228.7 424.42 L229 424.67 L229.3 424.13 L229.6 424.95 L229.9 423.41 L230.2 424.39 L230.5 424.26 L230.8 423.81 L231.1 424.9 L231.4 422.9 L231.7 423.56 L232 423.62 L232.3 423.44 L232.6 424.96 L232.9 424.13 L233.2 424.15 L233.5 424.14 L233.8 424.31 L234.1 425.5 L234.4 425.46 L234.7 425.17 L235 424.04 L235.3 425.07 L235.6 423.93 L235.9 424.42 L236.2 423.58 L236.5 425.16 L236.8 425.5 L237.1 424.88 L237.4 424.68 L237.7 423.89 L238 424.34 L238.3 424.39 L238.6 424.27 L238.9 423.87 L239.2 423.71 L239.5 424.94 L239.8 425.37 L240.1 425.02 L240.4 424.5 L240.7 423.06 L241 423.72 L241.3 425.01 L241.6 425.34 L241.9 424.32 L242.2 424.38 L242.5 424.67 L242.8 423.63 L243.1 424.75 L243.4 423.93 L243.7 425.09 L244 424.17 L244.3 424.67 L244.6 424.43 L244.9 424.41 L245.2 424.27 L245.5 425.49 L245.8 425.05 L246.1 424.28 L246.4 424.52 L246.7 425.48 L247 425.13 L247.3 424.91 L247.6 425.5 L247.9 423.61 L248 424.76" fill="none" stroke="#3FB08A" stroke-width="1.6" stroke-linejoin="round"/>
<path d="M25.5 330 L25.6 293 L25.8 303.67 L25.9 309 L26.1 321.5 L26.3 334 L26.4 336.56 L26.7 344.22 L27 351.89 L27.2 357 L27.3 358.7 L27.6 363.8 L27.9 368.9 L28.2 374 L28.2 374 L28.5 377.33 L28.8 380.67 L29.1 384 L29.4 387.33 L29.7 390.67 L30 394 L30 394 L30.3 395.4 L30.6 396.8 L30.9 398.2 L31.2 399.6 L31.5 401 L31.8 402.4 L32.1 403.8 L32.4 405.2 L32.7 406.6 L33 408 L33 408 L33.3 408.5 L33.6 409 L33.9 409.5 L34.2 410 L34.5 410.5 L34.8 411 L35.1 411.5 L35.4 412 L35.7 412.5 L36 413 L36 413 L36.3 413.15 L36.6 413.3 L36.9 413.45 L37.2 413.6 L37.5 413.75 L37.8 413.9 L38.1 414.05 L38.4 414.2 L38.7 414.35 L39 414.5 L39.3 414.65 L39.6 414.8 L39.9 414.95 L40 415 L40.2 414.96 L40.5 414.9 L40.8 414.84 L41.1 414.78 L41.4 414.72 L41.7 414.66 L42 414.6 L42.3 414.54 L42.6 414.48 L42.9 414.42 L43.2 414.36 L43.5 414.3 L43.8 414.24 L44.1 414.18 L44.4 414.12 L44.7 414.06 L45 414 L45 414 L45.3 413.77 L45.6 413.55 L45.9 413.32 L46.2 413.09 L46.5 412.87 L46.8 412.64 L47.1 412.42 L47.4 412.19 L47.7 411.96 L48 411.74 L48.3 411.51 L48.6 411.28 L48.9 411.06 L49.2 410.83 L49.5 410.6 L49.8 410.38 L50.1 410.15 L50.3 410 L50.4 409.12 L50.7 406.47 L51 403.82 L51.3 390.17 L51.6 390.72 L51.9 398.07 L52 386.73 L52.2 385.15 L52.5 381.95 L52.8 377.67 L53.1 373.62 L53.4 380.42 L53.5 364.07 L53.7 360.19 L54 377.81 L54.3 375.39 L54.6 376.21 L54.9 363.54 L55 373.23 L55.2 373.23 L55.5 359.38 L55.8 369.67 L56.1 370.97 L56.4 366.68 L56.7 362.78 L57 357.04 L57 358.08 L57.3 355.07 L57.6 351.26 L57.9 361.26 L58.2 355.1 L58.5 365.79 L58.8 351.01 L59.1 368.95 L59.4 365.71 L59.7 371.43 L60 372.08 L60 372.14 L60.3 366.48 L60.6 355.92 L60.9 371.13 L61.2 360.02 L61.5 362.71 L61.8 369.85 L62.1 366.73 L62.4 363.95 L62.7 373.75 L63 366.43 L63 361.02 L63.3 359.06 L63.6 371.14 L63.9 363.49 L64.2 369.84 L64.5 361.71 L64.8 359.27 L65.1 366.78 L65.4 373.27 L65.7 361.28 L66 374.64 L66 377.24 L66.3 375.98 L66.6 377.35 L66.9 361.98 L67.2 375.26 L67.5 380.7 L67.8 364.98 L68.1 369.62 L68.4 369.51 L68.7 374.43 L69 371.99 L69 372.99 L69.3 378.6 L69.6 362.75 L69.9 363.66 L70.2 365.21 L70.5 365.6 L70.8 365.24 L71.1 384.45 L71.4 383.39 L71.5 368.53 L71.7 379.09 L72 378.82 L72.3 382.24 L72.6 386.32 L72.9 395.38 L73 392.95 L73.2 394.08 L73.5 396.71 L73.8 401.16 L74.1 403.6 L74.4 409.9 L74.5 412.11 L74.7 410.75 L75 409.94 L75.3 411.52 L75.6 413.66 L75.9 416 L76.2 417.98 L76.5 416.43 L76.8 419.76 L77 419.19 L77.1 418.03 L77.4 417.61 L77.7 418.24 L78 419.35 L78.3 417.53 L78.6 419.06 L78.9 417.59 L79.2 416.29 L79.5 418.09 L79.8 419.17 L80.1 415.58 L80.4 417.9 L80.7 418.13 L81 421.08 L81.3 421.66 L81.6 418.51 L81.9 421.84 L82.2 421.36 L82.5 418.31 L82.8 419.6 L83.1 417.63 L83.4 421.83 L83.7 420.98 L84 422.38 L84.3 421.86 L84.6 421.16 L84.9 421.62 L85 420.62 L85.2 417.85 L85.5 420.76 L85.8 417.2 L86.1 417.86 L86.4 421.37 L86.7 416.64 L87 416.54 L87.3 416.19 L87.6 420.53 L87.9 416.05 L88.2 414.94 L88.5 419.79 L88.8 415.54 L89.1 420.09 L89.4 419.4 L89.7 420.79 L90 421.94 L90.3 420.16 L90.6 421.89 L90.9 417.64 L91.2 422.24 L91.5 420.78 L91.8 421.99 L92.1 418.3 L92.4 422.08 L92.7 423.1 L93 417.76 L93.3 419.24 L93.6 420.58 L93.9 422.1 L94.2 418.54 L94.5 418.15 L94.8 418.55 L95.1 420.66 L95.4 421.36 L95.7 419.04 L96 418.7 L96.3 418.69 L96.6 418.25 L96.9 418.53 L97.2 416.44 L97.5 418.92 L97.8 421.73 L98.1 418.3 L98.4 420.18 L98.7 416.51 L99 419.52 L99.3 419.75 L99.6 419.1 L99.9 418.04 L100 417.81 L100.2 418.72 L100.5 420.23 L100.8 415.84 L101.1 415.78 L101.4 420.09 L101.7 421.6 L102 419.76 L102.3 419.86 L102.6 422.02 L102.9 419.22 L103.2 419.97 L103.5 419.65 L103.8 421.94 L104.1 420.21 L104.4 419.54 L104.7 422.08 L105 423.41 L105.3 419.22 L105.6 421.45 L105.9 419.53 L106.2 422.06 L106.5 420.42 L106.8 418.55 L107.1 418.34 L107.4 417.3 L107.7 420.19 L108 419.78 L108.3 418.69 L108.6 419.97 L108.9 419.86 L109.2 422.66 L109.5 418.91 L109.8 424.03 L110.1 421.01 L110.4 421.82 L110.7 421.13 L111 423.45 L111.3 423.48 L111.6 422 L111.9 421.63 L112.2 423.13 L112.5 423.97 L112.8 421.22 L113.1 423.18 L113.4 424.48 L113.7 421.44 L114 419.91 L114.3 419.85 L114.6 422.66 L114.9 422.34 L115.2 424 L115.5 423.37 L115.8 419.73 L116.1 419.48 L116.4 420 L116.7 419.71 L117 422.96 L117.3 424.03 L117.6 424.4 L117.9 420.64 L118.2 424.37 L118.5 421.1 L118.8 421.71 L119.1 423.4 L119.4 419.31 L119.7 419.05 L120 423.17 L120 419.91 L120.3 419.97 L120.6 421.02 L120.9 421.35 L121.2 417.19 L121.5 419.12 L121.8 419.78 L122.1 420.21 L122.4 418.75 L122.7 421.25 L123 423.74 L123.3 420.63 L123.6 421.8 L123.9 419.45 L124.2 420.51 L124.5 422.91 L124.8 419.56 L125.1 424.11 L125.4 424.09 L125.7 419.02 L126 423.86 L126.3 420.24 L126.6 422.43 L126.9 422.18 L127.2 419.32 L127.5 421.57 L127.8 421.5 L128.1 422.57 L128.4 419.57 L128.7 422.79 L129 424.37 L129.3 422.96 L129.6 422.44 L129.9 420.14 L130.2 422.58 L130.5 421.79 L130.8 423.99 L131.1 423.75 L131.4 423.06 L131.7 420.73 L132 423.48 L132.3 423.37 L132.6 420.63 L132.9 424.88 L133.2 423.47 L133.5 420.28 L133.8 425.06 L134.1 420.1 L134.4 420.88 L134.7 422.77 L135 421.53 L135.3 420.78 L135.6 420.89 L135.9 419.4 L136.2 418.3 L136.5 417.42 L136.8 416.78 L137.1 420.69 L137.4 420.95 L137.7 419.71 L138 420.93 L138.3 418.68 L138.6 418.15 L138.9 418.89 L139.2 421.84 L139.5 416.87 L139.8 419.67 L140.1 418.16 L140.4 421.33 L140.7 418.9 L141 418.84 L141.3 419.32 L141.6 420.21 L141.9 421.64 L142.2 419.16 L142.5 422.14 L142.8 417.82 L143.1 419 L143.4 418.34 L143.7 418.86 L144 423.36 L144.3 423.54 L144.6 420.74 L144.9 421.12 L145.2 422.72 L145.5 424.76 L145.8 425.16 L146.1 424.6 L146.4 423.43 L146.7 420.46 L147 421.63 L147.3 420.07 L147.6 421.78 L147.9 421.78 L148.2 419.44 L148.5 419.68 L148.8 422.9 L149.1 418.46 L149.4 423.2 L149.7 423.85 L150 424.33 L150 420.93 L150.3 422.08 L150.6 422.38 L150.9 422.77 L151.2 424.9 L151.5 423.18 L151.8 420.83 L152.1 424.1 L152.4 421.7 L152.7 422.22 L153 422.76 L153.3 418.21 L153.6 422.64 L153.9 421.84 L154.2 420.73 L154.5 420.89 L154.8 420.54 L155.1 419 L155.4 421.12 L155.7 418.29 L156 421.21 L156.3 422.22 L156.6 421.14 L156.9 421.97 L157.2 424.4 L157.5 424.02 L157.8 419.48 L158.1 423.39 L158.4 422.32 L158.7 418.82 L159 420.6 L159.3 419.77 L159.6 418.77 L159.9 421.49 L160.2 423.8 L160.5 420.15 L160.8 423.44 L161.1 422.38 L161.4 419.01 L161.7 423.34 L162 421.78 L162.3 423.71 L162.6 422.43 L162.9 422.57 L163.2 420.18 L163.5 422.96 L163.8 423.74 L164.1 423.4 L164.4 420.97 L164.7 423.03 L165 421.55 L165.3 419.46 L165.6 419.2 L165.9 419.53 L166.2 420.34 L166.5 420.13 L166.8 422.15 L167.1 423.37 L167.4 422.4 L167.7 421.72 L168 423.08 L168.3 421.02 L168.6 421.99 L168.9 423.75 L169.2 421.62 L169.5 420.3 L169.8 424.65 L170.1 423.67 L170.4 421.71 L170.7 421.93 L171 423.09 L171.3 423.71 L171.6 421.66 L171.9 420.49 L172.2 421.83 L172.5 425.31 L172.8 421.46 L173.1 423.3 L173.4 421.61 L173.7 421.57 L174 421.2 L174.3 422.46 L174.6 420.92 L174.9 419.98 L175.2 420.41 L175.5 420.75 L175.8 422.71 L176.1 420.21 L176.4 420.1 L176.7 422.81 L177 422.73 L177 424.5 L177.3 420.87 L177.6 423.25 L177.9 423.44 L178.2 421.84 L178.5 425.36 L178.8 422.78 L179.1 422.44 L179.4 423.91 L179.7 422.89 L180 424.63 L180 423.64 L180.3 422.81 L180.6 422.52 L180.9 424.94 L181.2 423.3 L181.5 425.14 L181.8 423.99 L182.1 425.5 L182.4 423.46 L182.7 423.32 L183 423.43 L183.3 425.46 L183.6 424.84 L183.9 423.86 L184.2 422.98 L184.5 425.11 L184.8 425.5 L185.1 424.71 L185.4 422.5 L185.7 422.48 L186 422.58 L186.3 422.74 L186.6 422.15 L186.9 422.12 L187.2 424.23 L187.5 425.09 L187.8 422.55 L188.1 425.24 L188.4 423.31 L188.7 424.31 L189 424.52 L189.3 424.41 L189.6 420.97 L189.9 421.8 L190.2 422.8 L190.5 423.99 L190.8 420.94 L191.1 421.81 L191.4 424.01 L191.7 421.61 L192 422.87 L192.3 422.94 L192.6 424.43 L192.9 425.5 L193.2 422.93 L193.5 425.01 L193.8 425 L194.1 425.38 L194.4 424.4 L194.7 425.5 L195 423.79 L195.3 424.02 L195.6 423.39 L195.9 425.4 L196.2 424.34 L196.5 423.59 L196.8 423.23 L197.1 425.2 L197.4 424.77 L197.7 425.13 L198 423.94 L198.3 424.28 L198.6 423.06 L198.9 425.05 L199.2 422.56 L199.5 424.16 L199.8 425.19 L200.1 424.84 L200.4 422.66 L200.7 423.04 L201 425.1 L201.3 424.24 L201.6 424.97 L201.9 424.86 L202.2 423.28 L202.5 424.87 L202.8 424.29 L203.1 422.88 L203.4 423.05 L203.7 422.03 L204 423.26 L204.3 425.32 L204.6 422.31 L204.9 424.03 L205.2 422.4 L205.5 422.31 L205.8 424.32 L206.1 422.76 L206.4 421.93 L206.7 422.13 L207 423.71 L207.3 423.3 L207.6 421.06 L207.9 421.7 L208.2 424.27 L208.5 421.55 L208.8 422.82 L209.1 422.42 L209.4 423.89 L209.7 423.48 L210 424.38 L210.3 423.71 L210.6 422.68 L210.9 422.82 L211.2 422.57 L211.5 425.3 L211.8 422.72 L212.1 422.35 L212.4 425.5 L212.7 422.82 L213 425.22 L213.3 422.22 L213.6 423.49 L213.9 422.55 L214.2 424.69 L214.5 423.9 L214.8 423.98 L215.1 424.36 L215.4 424.68 L215.7 422.68 L216 423.5 L216.3 422.82 L216.6 421.52 L216.9 424.04 L217.2 423.13 L217.5 423.9 L217.8 421.7 L218.1 422.86 L218.4 422.53 L218.7 423.4 L219 420.97 L219.3 421.85 L219.6 422.28 L219.9 420.73 L220.2 422.42 L220.5 423.07 L220.8 421.99 L221.1 422.95 L221.4 423.01 L221.7 421.88 L222 422.68 L222.3 425.31 L222.6 423.21 L222.9 423.78 L223.2 422.67 L223.5 423.2 L223.8 423.02 L224.1 425.5 L224.4 425.11 L224.7 425.5 L225 425.5 L225.3 424.85 L225.6 425.5 L225.9 424.67 L226.2 424.27 L226.5 425.5 L226.8 425.5 L227.1 425.5 L227.4 424.05 L227.7 424.77 L228 423.1 L228.3 424.88 L228.6 424.29 L228.9 421.78 L229.2 423.93 L229.5 421.17 L229.8 420.9 L230.1 423.28 L230.4 421.94 L230.7 423 L231 423.71 L231.3 421.83 L231.6 424.62 L231.9 423.13 L232.2 423.82 L232.5 423.55 L232.8 424.96 L233.1 424.91 L233.4 423.15 L233.7 422.35 L234 422.9 L234.3 423.15 L234.6 421.82 L234.9 421.98 L235.2 424.11 L235.5 423.86 L235.8 424.84 L236.1 424.8 L236.4 424.36 L236.7 422.46 L237 421.6 L237.3 422.04 L237.6 422.49 L237.9 422.65 L238.2 422.66 L238.5 421.99 L238.8 423.77 L239.1 421.75 L239.4 422.44 L239.7 424.01 L240 423.78 L240.3 422 L240.6 421.86 L240.9 423.93 L241.2 421.09 L241.5 421.53 L241.8 423 L242.1 423.11 L242.4 421.91 L242.7 421.66 L243 422.4 L243.3 424.62 L243.6 423.69 L243.9 425.5 L244.2 425.06 L244.5 425.5 L244.8 422.4 L245.1 422.96 L245.4 422.37 L245.7 423.92 L246 423.62 L246.3 422.63 L246.6 424.45 L246.9 422.85 L247.2 423.65 L247.5 423.43 L247.8 425.38 L248 423.91" fill="none" stroke="#1E86B0" stroke-width="1.6" stroke-linejoin="round"/>
<path d="M25.9 330 L26 299 L26.2 309 L26.3 314 L26.5 323.2 L26.8 337 L27.1 344.67 L27.4 352.33 L27.7 360 L27.7 360 L28 365.14 L28.3 370.29 L28.6 375.43 L28.9 380.57 L29.1 384 L29.2 384.45 L29.5 385.79 L29.8 387.14 L30.1 388.48 L30.4 389.83 L30.7 391.17 L31 392.52 L31.3 393.86 L31.6 395.21 L31.9 396.55 L32 397 L32.2 397.47 L32.5 398.17 L32.8 398.87 L33.1 399.57 L33.4 400.27 L33.7 400.97 L34 401.67 L34.3 402.37 L34.6 403.07 L34.9 403.77 L35 404 L35.2 404.29 L35.5 404.71 L35.8 405.14 L36.1 405.57 L36.4 406 L36.7 406.43 L37 406.86 L37.3 407.29 L37.6 407.71 L37.9 408.14 L38.2 408.57 L38.5 409 L38.5 409 L38.8 409.23 L39.1 409.46 L39.4 409.69 L39.7 409.92 L40 410.15 L40.3 410.38 L40.6 410.62 L40.9 410.85 L41.2 411.08 L41.5 411.31 L41.8 411.54 L42.1 411.77 L42.4 412 L42.7 412.23 L43 412.46 L43.3 412.69 L43.6 412.92 L43.9 413.15 L44.2 413.38 L44.5 413.62 L44.8 413.85 L45 414 L45.1 414.04 L45.4 414.17 L45.7 414.3 L46 414.43 L46.3 414.56 L46.6 414.69 L46.9 414.81 L47.2 414.94 L47.5 415.07 L47.8 415.2 L48.1 415.33 L48.4 415.46 L48.7 415.59 L49 415.71 L49.3 415.84 L49.6 415.97 L49.9 416.1 L50.2 416.23 L50.5 416.36 L50.8 416.49 L51.1 416.61 L51.4 416.74 L51.7 416.87 L52 417 L52 417 L52.3 417.08 L52.6 417.17 L52.9 417.25 L53.2 417.33 L53.5 417.42 L53.8 417.5 L54.1 417.58 L54.4 417.67 L54.7 417.75 L55 417.83 L55.3 417.92 L55.6 418 L55.9 418.08 L56.2 418.17 L56.5 418.25 L56.8 418.33 L57.1 418.42 L57.4 418.5 L57.4 418.5 L57.7 416.91 L58 415.31 L58.3 415.42 L58.6 407.02 L58.9 409.51 L59 407.52 L59.2 409.3 L59.5 402.16 L59.8 398.59 L60.1 397.98 L60.4 399.4 L60.5 390.59 L60.7 389.76 L61 392.83 L61.3 393.74 L61.6 388.93 L61.9 386.81 L62 390.16 L62.2 389.25 L62.5 382.58 L62.8 389.62 L63.1 383.14 L63.4 383.78 L63.7 388.27 L64 384.24 L64.3 387.33 L64.6 381.37 L64.9 387.47 L65.2 380.96 L65.5 380.51 L65.6 383.55 L65.8 382.48 L66.1 384.81 L66.4 388.59 L66.7 387.36 L67 381.52 L67.3 384.76 L67.6 387.32 L67.9 387.22 L68.2 389.8 L68.5 388.44 L68.8 385.67 L69.1 388.23 L69.4 394.76 L69.7 391.44 L70 396.17 L70 398.14 L70.3 395.76 L70.6 396.89 L70.9 396.76 L71.2 394.44 L71.5 400.15 L71.8 396.43 L72.1 400.7 L72.4 395.51 L72.7 400.83 L73 400.38 L73.3 399.11 L73.6 397.89 L73.9 395.52 L74.2 401.55 L74.5 398.22 L74.8 401.26 L75 396.73 L75.1 396.35 L75.4 397.12 L75.7 403.32 L76 397.86 L76.3 404.6 L76.6 400.06 L76.9 402.14 L77.2 400.34 L77.5 403.02 L77.8 398.51 L78.1 401.52 L78.4 406.56 L78.7 399.98 L79 404.49 L79.3 401.78 L79.6 401.78 L79.9 399.52 L80 399.56 L80.2 407.96 L80.5 406.8 L80.8 406.29 L81.1 406 L81.4 406.9 L81.7 399.34 L82 402.81 L82.3 401.77 L82.6 402.39 L82.9 405.75 L83.2 404.35 L83.5 406.45 L83.8 399.05 L84.1 404.15 L84.4 404.65 L84.7 405.58 L85 404.71 L85.3 406.89 L85.6 402.37 L85.9 408.19 L86.2 403.73 L86.5 405.78 L86.8 408.87 L87.1 407.58 L87.4 404.53 L87.7 404.3 L88 405.63 L88.3 408.73 L88.6 412.38 L88.9 411.73 L89.2 407.44 L89.5 407.67 L89.8 411.67 L90 407.05 L90.1 408.27 L90.4 404.91 L90.7 406.67 L91 410.09 L91.3 411.66 L91.6 411.12 L91.9 409 L92.2 414.42 L92.5 411.64 L92.8 407.64 L93.1 407.08 L93.4 415.47 L93.7 415.84 L94 415.45 L94.3 412.81 L94.6 410.37 L94.9 408.52 L95.2 410.14 L95.5 409.95 L95.8 416.44 L96.1 416.26 L96.4 415.38 L96.7 409.86 L97 410.81 L97.3 411.49 L97.6 417.46 L97.9 410.52 L98.2 416.17 L98.5 414.94 L98.8 413.31 L99.1 416.44 L99.4 409.52 L99.7 411.22 L100 407.34 L100 406.8 L100.3 405.6 L100.6 407.75 L100.9 405.81 L101.2 405.29 L101.5 413.84 L101.8 407.81 L102.1 413.62 L102.4 412.37 L102.7 413.08 L103 412.79 L103.3 415.77 L103.6 415.27 L103.9 413.86 L104.2 412.38 L104.5 413.55 L104.8 413.81 L105 412.26 L105.1 411.85 L105.4 408.84 L105.7 415.18 L106 412.05 L106.3 408.41 L106.6 409.4 L106.9 415.83 L107.2 410.3 L107.5 411.5 L107.8 414.07 L108.1 415.6 L108.4 410.7 L108.7 411.12 L109 411.36 L109.3 407.75 L109.6 415.37 L109.9 407.69 L110 416.17 L110.2 408.74 L110.5 408.45 L110.8 414.27 L111.1 413.57 L111.4 407.75 L111.7 410.15 L112 408.99 L112.3 410.75 L112.6 405.63 L112.9 411.16 L113.2 412.56 L113.5 409.91 L113.8 411.87 L114.1 412.09 L114.4 407.18 L114.7 411.5 L115 411.45 L115 409.23 L115.3 405.27 L115.6 410.16 L115.9 412.99 L116.2 407.62 L116.5 410.67 L116.8 412.81 L117.1 409.95 L117.4 404.66 L117.7 409.79 L118 406.21 L118.3 411.52 L118.6 409.73 L118.9 406.63 L119 411.99 L119.2 410.15 L119.5 408.68 L119.8 414.45 L120.1 416.43 L120.4 417.99 L120.7 419.45 L121 418.89 L121.3 420.57 L121.6 420.83 L121.9 420.98 L121.9 425.12 L122.2 418.73 L122.5 415.58 L122.8 420.54 L123.1 417.86 L123.4 417.54 L123.7 417.27 L124 413.4 L124.3 412.23 L124.6 410.36 L124.9 416.06 L125 416.97 L125.2 414.96 L125.5 409.5 L125.8 416.94 L126.1 415.2 L126.4 411.94 L126.7 406.96 L127 414.17 L127.3 411.87 L127.6 411.62 L127.9 406.04 L128.2 412.34 L128.5 405.84 L128.8 409.57 L129.1 406.25 L129.4 407.85 L129.7 412.29 L130 410.7 L130 411.31 L130.3 406.39 L130.6 407.01 L130.9 408.83 L131.2 403.71 L131.5 407.3 L131.8 412.7 L132.1 411.16 L132.4 412.65 L132.7 408.08 L133 412.06 L133.3 413.29 L133.6 412.72 L133.9 410.32 L134.2 407.82 L134.5 406.17 L134.8 413.68 L135 413.83 L135.1 407.91 L135.4 412.14 L135.7 408.91 L136 410.84 L136.3 412.78 L136.6 408.18 L136.9 411.06 L137.2 408.07 L137.5 410.74 L137.8 406.87 L138.1 409.48 L138.4 410.24 L138.7 416.42 L139 409.9 L139.3 415.99 L139.6 410.32 L139.9 418.71 L140 411.4 L140.2 410.57 L140.5 411.39 L140.8 417.62 L141.1 414.97 L141.4 416.7 L141.7 412.9 L142 409.16 L142.3 410.94 L142.6 411.72 L142.9 416.29 L143.2 408.58 L143.5 408.89 L143.8 413.8 L144.1 406.7 L144.4 413.85 L144.7 407.2 L145 409.1 L145 409.94 L145.3 411.74 L145.6 403.93 L145.9 410.63 L146.2 404.43 L146.5 409.06 L146.8 402.6 L147.1 408.99 L147.4 403.45 L147.7 403.4 L148 401.59 L148.3 403.95 L148.6 403.77 L148.9 409.46 L149.2 405.93 L149.5 403.65 L149.8 409.23 L150 401.85 L150.1 402.08 L150.4 408.29 L150.7 407.78 L151 404.9 L151.3 407.03 L151.6 398.18 L151.9 405.18 L152.2 402.72 L152.5 401.68 L152.8 402.49 L152.8 395.84 L153.1 397.21 L153.4 397.15 L153.7 400.71 L154 401.82 L154.3 402.31 L154.6 401.29 L154.9 405.35 L155.2 406.82 L155.5 406.64 L155.8 400.62 L156 401.94 L156.1 402.5 L156.4 402.56 L156.7 405.47 L157 401.97 L157.3 405.8 L157.6 403.3 L157.9 403.59 L158.2 406.86 L158.5 409.2 L158.8 402.67 L159.1 404.36 L159.4 410.35 L159.7 403.72 L160 402.33 L160 403.81 L160.3 409.55 L160.6 408.71 L160.9 410.54 L161.2 406.59 L161.5 402.65 L161.8 405.33 L162.1 409.43 L162.4 406.93 L162.7 405.08 L163 407.59 L163.3 408.68 L163.6 407.87 L163.9 408.71 L164.2 405.74 L164.5 404.37 L164.8 410.56 L165 408.46 L165.1 406.66 L165.4 404.42 L165.7 404.61 L166 405.25 L166.3 406.33 L166.6 403.78 L166.9 405.87 L167.2 403.34 L167.5 401.31 L167.8 403.18 L168.1 402.81 L168.4 402.5 L168.7 402.83 L169 399.02 L169 401.09 L169.3 403.45 L169.6 400.68 L169.9 400.75 L170.2 402.04 L170.5 403.23 L170.8 404.75 L171.1 404.97 L171.4 407.42 L171.5 405.38 L171.7 405.66 L172 406.37 L172.3 404.72 L172.6 405.71 L172.9 404.43 L173 400.63 L173.2 401.6 L173.5 403.44 L173.8 404.25 L174.1 404.11 L174.4 407.32 L174.7 404.72 L175 406.84 L175 405.08 L175.3 408.94 L175.6 407.6 L175.9 409.71 L176.2 405.69 L176.5 408.77 L176.8 408.48 L177.1 406.06 L177.4 410.22 L177.7 410.8 L178 407.14 L178 411.45 L178.3 411.79 L178.6 411.98 L178.9 412.73 L179.2 412.35 L179.5 412.33 L179.8 415.42 L180.1 418.37 L180.4 416.08 L180.7 418.4 L180.8 417.78 L181 419.15 L181.3 419.49 L181.6 418.14 L181.9 414.15 L182.2 413.81 L182.5 410.73 L182.8 412.34 L183.1 412.92 L183.4 411.82 L183.5 407.61 L183.7 408.53 L184 405.44 L184.3 405.86 L184.6 407.01 L184.9 402.59 L185.2 404.19 L185.5 403.65 L185.8 401.95 L186 398.24 L186.1 402.2 L186.4 403.37 L186.7 404.9 L187 401.07 L187.3 402.08 L187.6 404.48 L187.9 406.46 L188 406.25 L188.2 405.49 L188.5 409.48 L188.8 410.74 L189.1 411.6 L189.4 412.01 L189.7 413.21 L190 414.96 L190 411.84 L190.3 414.04 L190.6 413 L190.9 413.43 L191.2 417.4 L191.5 415.93 L191.8 416.75 L192 416.95 L192.1 418.36 L192.4 415.6 L192.7 417.8 L193 414.52 L193.3 418.5 L193.6 414.03 L193.9 416.58 L194.2 414.92 L194.5 413.73 L194.8 412.52 L195 412.37 L195.1 414.35 L195.4 413.12 L195.7 413.12 L196 411.63 L196.3 413.49 L196.6 411.22 L196.9 412.81 L197.2 413.75 L197.5 413.37 L197.8 413.78 L198.1 413.99 L198.4 412.39 L198.7 416.5 L199 415.39 L199.3 415.82 L199.6 417.13 L199.9 414.7 L200 414.12 L200.2 413.82 L200.5 413.6 L200.8 413.19 L201.1 412.9 L201.4 411.98 L201.7 412.96 L202 411.63 L202.3 411.68 L202.6 412.88 L202.9 410.91 L203.2 413.46 L203.5 412.96 L203.8 410.45 L204 412.87 L204.1 409.95 L204.4 410.64 L204.7 416.22 L205 412.5 L205.3 413.45 L205.6 418.82 L205.9 415.56 L206 419.17 L206.2 417.66 L206.5 414.52 L206.8 413.21 L207.1 415.44 L207.4 411.21 L207.7 409.09 L208 408.71 L208.3 408.74 L208.5 405.56 L208.6 405.45 L208.9 411.62 L209.2 410.73 L209.5 413.05 L209.8 415.26 L210.1 422.62 L210.4 422.21 L210.5 424.53 L210.7 421.72 L211 420.97 L211.3 415.02 L211.6 412.32 L211.9 411.32 L212.2 405.3 L212.5 404.55 L212.8 403.99 L213 401.38 L213.1 402.19 L213.4 408.09 L213.7 409.24 L214 414.39 L214.3 416.33 L214.6 418.4 L214.9 423.46 L215 423.76 L215.2 421.24 L215.5 420.16 L215.8 417.05 L216.1 416.41 L216.4 415.56 L216.7 413.39 L217 411.74 L217.3 406.59 L217.3 408.35 L217.6 411.86 L217.9 411.76 L218.2 416.61 L218.5 414.69 L218.8 420.8 L219.1 422.54 L219.4 424.93 L219.5 424.82 L219.7 422.64 L220 418.93 L220.3 418.09 L220.6 416.75 L220.9 413.23 L221 412.81 L221.2 415.02 L221.5 412.86 L221.8 414.15 L222.1 413.68 L222.4 418.92 L222.7 418.71 L223 419.96 L223 417.78 L223.3 416.86 L223.6 417.67 L223.9 419.02 L224.2 415.77 L224.5 415.51 L224.8 414.91 L225 416.66 L225.1 413.13 L225.4 417.04 L225.7 412.98 L226 416.61 L226.3 417.11 L226.6 415.8 L226.9 417.29 L227.2 415.14 L227.5 414.69 L227.8 416.11 L228.1 416.01 L228.4 418.68 L228.7 418.32 L229 419.18 L229.3 421.08 L229.6 420.31 L229.9 420.56 L230.2 421.17 L230.5 421.07 L230.8 420.31 L231 418.61 L231.1 419.32 L231.4 420.43 L231.7 420.58 L232 421.1 L232.3 420.44 L232.6 420.17 L232.9 418.43 L233.2 420.1 L233.5 418.19 L233.8 420.18 L234.1 418.03 L234.4 417.24 L234.7 421.27 L235 420.82 L235.3 418.29 L235.6 417.15 L235.9 420.62 L236.2 420.5 L236.5 417.9 L236.8 420.93 L237.1 421.15 L237.2 420.03 L237.4 418.78 L237.7 417.93 L238 418.07 L238.3 419.82 L238.6 421.14 L238.9 420.84 L239.2 419.08 L239.5 421.63 L239.8 418.41 L240.1 420.83 L240.4 418.88 L240.7 418.13 L241 418.95 L241.3 421.61 L241.6 419.11 L241.9 418.25 L242.2 420.4 L242.5 419.94 L242.8 421.09 L243.1 421.28 L243.4 422.05 L243.4 422.97 L243.7 420.65 L244 422.16 L244.3 420.07 L244.6 420.81 L244.9 420.23 L245.2 423.66 L245.5 421.35 L245.8 422.93 L246.1 423.57 L246.4 421.3 L246.7 420.4 L247 420.49 L247.3 421.5 L247.6 421.05 L247.9 419.71 L248.2 423.28 L248.5 422.58 L248.8 423.91 L249.1 424.16 L249.4 424.03 L249.6 424.74 L249.7 424.32 L250 423.42 L250.3 425.4 L250.6 425.5 L250.9 422.53 L251.2 422.74 L251.5 422.93 L251.8 424.29 L252.1 425.5 L252.4 424.85 L252.7 425.5 L253 424.39 L253.3 425.37 L253.6 424.04 L253.9 425.5 L254.2 424.23 L254.5 423.12 L254.8 424.9 L255.1 425.04 L255.4 425.5 L255.7 424.42 L255.8 425.5 L256 425.5 L256.3 424.13 L256.6 425.5 L256.9 425.5 L257.2 425.5 L257.5 425.5 L257.8 424.68 L258.1 425.03 L258.4 425.25 L258.7 425.09 L259 423.94 L259.3 425.5 L259.6 424.79 L259.9 423.56 L260.2 424.18 L260.5 423.63 L260.8 424.67 L261.1 423.77 L261.4 424.97 L261.7 424.39 L262 425.5 L262.3 425.5 L262.6 424.29 L262.9 425.5 L263.2 425.29 L263.5 424.36 L263.8 425.5 L264.1 423.25 L264.4 424.01 L264.7 424.27 L265 422.9 L265.3 423.57 L265.6 424.47 L265.9 423.03 L266.2 423.99 L266.5 422.68 L266.8 424.78 L267.1 424.82 L267.4 422.83 L267.7 424.46 L268 423.42 L268.3 422.69 L268.6 423.19 L268.9 424.56 L269.2 423.9 L269.5 424.16 L269.8 423.26 L270.1 423.55 L270.4 424.24 L270.7 424.82 L271 425.5 L271.3 424.97 L271.6 424.74 L271.9 425.5 L272.2 425.5 L272.5 425.5 L272.8 425.5 L273.1 425.08 L273.4 424.45 L273.7 424.01 L274 425.38 L274.3 425.5 L274.6 425.5 L274.9 425.5 L275.2 424.91 L275.5 424.83 L275.8 425.5 L276.1 423.62 L276.4 424.27 L276.7 424.62 L277 424.67 L277.3 424.63 L277.6 423.41 L277.9 424.3 L278.2 423.47 L278.5 424.08 L278.8 423.66 L279.1 424.16 L279.4 425.11 L279.7 424.67 L280 424.21 L280.3 425.1 L280.6 425.5 L280.9 424.77 L281.2 424.68 L281.5 425.07 L281.8 425.5 L282.1 423.89 L282.4 425.46" fill="none" stroke="#B99B5E" stroke-width="1.6" stroke-linejoin="round"/>
<rect x="23.9" y="298" width="259.3" height="127.9" stroke="#111" stroke-width="1.3" fill="none"/>
<line x1="24.4" y1="425.9" x2="24.4" y2="428.4" stroke="#111" stroke-width="1.1"/>
<line x1="60.4" y1="425.9" x2="60.4" y2="427.7" stroke="#111" stroke-width="1.1"/>
<line x1="96.4" y1="425.9" x2="96.4" y2="428.4" stroke="#111" stroke-width="1.1"/>
<line x1="132.4" y1="425.9" x2="132.4" y2="427.7" stroke="#111" stroke-width="1.1"/>
<line x1="168.4" y1="425.9" x2="168.4" y2="428.4" stroke="#111" stroke-width="1.1"/>
<line x1="204.4" y1="425.9" x2="204.4" y2="427.7" stroke="#111" stroke-width="1.1"/>
<line x1="240.4" y1="425.9" x2="240.4" y2="428.4" stroke="#111" stroke-width="1.1"/>
<line x1="276.4" y1="425.9" x2="276.4" y2="427.7" stroke="#111" stroke-width="1.1"/>
<text x="25.4" y="441.4" font-size="10.6" text-anchor="middle" fill="#1a1a1a" style="">0</text>
<text x="96.8" y="441.4" font-size="10.6" text-anchor="middle" fill="#1a1a1a" style="">10</text>
<text x="167.9" y="441.4" font-size="10.6" text-anchor="middle" fill="#1a1a1a" style="">20</text>
<text x="239.5" y="441.4" font-size="10.6" text-anchor="middle" fill="#1a1a1a" style="">30</text>
<text x="113.8" y="451" font-size="10.6" text-anchor="start" fill="#1a1a1a" style=""><tspan style="font-style:italic">Frequency</tspan> / Hz</text>
<text x="0" y="0" font-size="10.6" text-anchor="middle" fill="#1a1a1a" style="" transform="translate(15.2,366.6) rotate(-90)"><tspan style="font-style:italic">Amplitude</tspan> / arb. units</text>
<line x1="42.1" y1="309.2" x2="88.5" y2="333.0" stroke="#111" stroke-width="1.35"/>
<path d="M92.2 334.9 L85.5 334.3 L87.9 332.8 L87.8 330.0 Z" fill="#111"/>
<line x1="227.6" y1="306.9" x2="252.6" y2="306.9" stroke="#E0466A" stroke-width="1.5"/>
<text x="256.6" y="310.7" font-size="10.6" text-anchor="start" fill="#1a1a1a" style="">-2 V</text>
<line x1="227.6" y1="321.3" x2="252.6" y2="321.3" stroke="#3FB08A" stroke-width="1.5"/>
<text x="256.6" y="325.1" font-size="10.6" text-anchor="start" fill="#1a1a1a" style="">-3 V</text>
<line x1="227.6" y1="335.6" x2="252.6" y2="335.6" stroke="#1E86B0" stroke-width="1.5"/>
<text x="256.6" y="339.4" font-size="10.6" text-anchor="start" fill="#1a1a1a" style="">-4 V</text>
<line x1="227.6" y1="349.9" x2="252.6" y2="349.9" stroke="#B99B5E" stroke-width="1.5"/>
<text x="256.6" y="353.7" font-size="10.6" text-anchor="start" fill="#1a1a1a" style="">-5 V</text>
<text x="0" y="481.8" font-size="12" text-anchor="start" fill="#000" style="font-weight:bold;">D</text>
<line x1="24" y1="586.28" x2="26.2" y2="586.28" stroke="#111" stroke-width="1.1"/>
<line x1="24" y1="574.76" x2="28.6" y2="574.76" stroke="#111" stroke-width="1.1"/>
<line x1="24" y1="563.24" x2="26.2" y2="563.24" stroke="#111" stroke-width="1.1"/>
<line x1="24" y1="551.72" x2="28.6" y2="551.72" stroke="#111" stroke-width="1.1"/>
<line x1="24" y1="540.2" x2="26.2" y2="540.2" stroke="#111" stroke-width="1.1"/>
<line x1="24" y1="528.68" x2="28.6" y2="528.68" stroke="#111" stroke-width="1.1"/>
<line x1="24" y1="517.16" x2="26.2" y2="517.16" stroke="#111" stroke-width="1.1"/>
<line x1="24" y1="505.64" x2="28.6" y2="505.64" stroke="#111" stroke-width="1.1"/>
<line x1="24" y1="494.12" x2="26.2" y2="494.12" stroke="#111" stroke-width="1.1"/>
<line x1="24" y1="482.6" x2="28.6" y2="482.6" stroke="#111" stroke-width="1.1"/>
<text x="18.6" y="600.3" font-size="10.6" text-anchor="middle" fill="#1a1a1a" style="">1</text>
<text x="18.6" y="577.26" font-size="10.6" text-anchor="middle" fill="#1a1a1a" style="">2</text>
<text x="18.6" y="554.22" font-size="10.6" text-anchor="middle" fill="#1a1a1a" style="">3</text>
<text x="18.6" y="531.18" font-size="10.6" text-anchor="middle" fill="#1a1a1a" style="">4</text>
<text x="18.6" y="508.14" font-size="10.6" text-anchor="middle" fill="#1a1a1a" style="">5</text>
<text x="18.6" y="485.1" font-size="10.6" text-anchor="middle" fill="#1a1a1a" style="">6</text>
<line x1="279.6" y1="585" x2="283.6" y2="585" stroke="#111" stroke-width="1.1"/>
<line x1="281.4" y1="572.35" x2="283.6" y2="572.35" stroke="#111" stroke-width="1.1"/>
<line x1="279.6" y1="559.7" x2="283.6" y2="559.7" stroke="#111" stroke-width="1.1"/>
<line x1="281.4" y1="547.05" x2="283.6" y2="547.05" stroke="#111" stroke-width="1.1"/>
<line x1="279.6" y1="534.4" x2="283.6" y2="534.4" stroke="#111" stroke-width="1.1"/>
<line x1="281.4" y1="521.75" x2="283.6" y2="521.75" stroke="#111" stroke-width="1.1"/>
<line x1="279.6" y1="509.1" x2="283.6" y2="509.1" stroke="#111" stroke-width="1.1"/>
<line x1="281.4" y1="496.45" x2="283.6" y2="496.45" stroke="#111" stroke-width="1.1"/>
<line x1="279.6" y1="483.8" x2="283.6" y2="483.8" stroke="#111" stroke-width="1.1"/>
<text x="286" y="487.6" font-size="10.6" text-anchor="start" fill="#1a1a1a" style="">1.0</text>
<text x="286" y="512.9" font-size="10.6" text-anchor="start" fill="#1a1a1a" style="">0.8</text>
<text x="286" y="538.2" font-size="10.6" text-anchor="start" fill="#1a1a1a" style="">0.6</text>
<text x="286" y="563.5" font-size="10.6" text-anchor="start" fill="#1a1a1a" style="">0.4</text>
<text x="286" y="588.8" font-size="10.6" text-anchor="start" fill="#1a1a1a" style="">0.2</text>
<line x1="42.8" y1="594" x2="42.8" y2="598.3" stroke="#111" stroke-width="1.1"/>
<line x1="79.83" y1="597.8" x2="79.83" y2="595.8" stroke="#111" stroke-width="1.1"/>
<line x1="116.87" y1="594" x2="116.87" y2="598.3" stroke="#111" stroke-width="1.1"/>
<line x1="153.9" y1="597.8" x2="153.9" y2="595.8" stroke="#111" stroke-width="1.1"/>
<line x1="190.93" y1="594" x2="190.93" y2="598.3" stroke="#111" stroke-width="1.1"/>
<line x1="227.97" y1="597.8" x2="227.97" y2="595.8" stroke="#111" stroke-width="1.1"/>
<line x1="265" y1="594" x2="265" y2="598.3" stroke="#111" stroke-width="1.1"/>
<text x="40.6" y="606.9" font-size="10.6" text-anchor="middle" fill="#1a1a1a" style="">-2</text>
<text x="114.6" y="606.9" font-size="10.6" text-anchor="middle" fill="#1a1a1a" style="">-3</text>
<text x="189.3" y="606.9" font-size="10.6" text-anchor="middle" fill="#1a1a1a" style="">-4</text>
<text x="263.6" y="606.9" font-size="10.6" text-anchor="middle" fill="#1a1a1a" style="">-5</text>
<text x="143" y="615.6" font-size="10.6" text-anchor="start" fill="#1a1a1a" style=""><tspan style="font-style:italic">E</tspan> / V</text>
<text x="0" y="0" font-size="10.6" text-anchor="middle" fill="#1a1a1a" style="" transform="translate(10.5,534.8) rotate(-90)"><tspan style="font-style:italic">Freqency</tspan> / Hz</text>
<text x="0" y="0" font-size="10.6" text-anchor="middle" fill="#1a1a1a" style="" transform="translate(313.4,532) rotate(-90)"><tspan style="font-style:italic">FWHM</tspan> / s</text>
<path d="M42.8 584.4 L116.9 551 L190.9 520.9 L265 488" fill="none" stroke="#1E86B0" stroke-width="1.3" stroke-linejoin="round"/>
<path d="M42.8 491.6 L116.9 566.1 L190.9 575.8 L265 585" fill="none" stroke="#E0466A" stroke-width="1.3" stroke-linejoin="round"/>
<line x1="42.8" y1="480.4" x2="42.8" y2="502.2" stroke="#E0466A" stroke-width="1.2"/>
<line x1="40.1" y1="480.4" x2="45.5" y2="480.4" stroke="#E0466A" stroke-width="1.2"/>
<line x1="40.1" y1="502.2" x2="45.5" y2="502.2" stroke="#E0466A" stroke-width="1.2"/>
<line x1="116.9" y1="563.5" x2="116.9" y2="569.3" stroke="#E0466A" stroke-width="1.2"/>
<line x1="114.2" y1="563.5" x2="119.6" y2="563.5" stroke="#E0466A" stroke-width="1.2"/>
<line x1="114.2" y1="569.3" x2="119.6" y2="569.3" stroke="#E0466A" stroke-width="1.2"/>
<line x1="190.9" y1="570.6" x2="190.9" y2="579.5" stroke="#E0466A" stroke-width="1.2"/>
<line x1="188.2" y1="570.6" x2="193.6" y2="570.6" stroke="#E0466A" stroke-width="1.2"/>
<line x1="188.2" y1="579.5" x2="193.6" y2="579.5" stroke="#E0466A" stroke-width="1.2"/>
<line x1="265" y1="582.4" x2="265" y2="587.6" stroke="#E0466A" stroke-width="1.2"/>
<line x1="262.3" y1="582.4" x2="267.7" y2="582.4" stroke="#E0466A" stroke-width="1.2"/>
<line x1="262.3" y1="587.6" x2="267.7" y2="587.6" stroke="#E0466A" stroke-width="1.2"/>
<rect x="41.1" y="582.7" width="3.4" height="3.4" stroke="#111" stroke-width="0" fill="#1E86B0"/>
<rect x="115.2" y="549.3" width="3.4" height="3.4" stroke="#111" stroke-width="0" fill="#1E86B0"/>
<rect x="189.2" y="519.2" width="3.4" height="3.4" stroke="#111" stroke-width="0" fill="#1E86B0"/>
<rect x="263.3" y="486.3" width="3.4" height="3.4" stroke="#111" stroke-width="0" fill="#1E86B0"/>
<rect x="41.1" y="489.9" width="3.4" height="3.4" stroke="#111" stroke-width="0" fill="#E4435C"/>
<rect x="115.2" y="564.4" width="3.4" height="3.4" stroke="#111" stroke-width="0" fill="#E4435C"/>
<rect x="189.2" y="574.1" width="3.4" height="3.4" stroke="#111" stroke-width="0" fill="#E4435C"/>
<rect x="263.3" y="583.3" width="3.4" height="3.4" stroke="#111" stroke-width="0" fill="#E4435C"/>
<line x1="58" y1="481.6" x2="83.6" y2="481.6" stroke="#1E86B0" stroke-width="1.3"/>
<rect x="69.1" y="479.7" width="3.8" height="3.8" stroke="#111" stroke-width="0" fill="#1E86B0"/>
<text x="85" y="485.5" font-size="10.6" text-anchor="start" fill="#1a1a1a" style="">Frequency</text>
<line x1="58" y1="494.1" x2="83.6" y2="494.1" stroke="#E0466A" stroke-width="1.3"/>
<rect x="69.1" y="492.2" width="3.8" height="3.8" stroke="#111" stroke-width="0" fill="#E4435C"/>
<text x="85" y="498" font-size="10.6" text-anchor="start" fill="#1a1a1a" style="">FWHM</text>
<rect x="24" y="471.1" width="259.6" height="126.7" stroke="#111" stroke-width="1.35" fill="none"/>
<line x1="24" y1="470.6" x2="24" y2="598.3" stroke="#111" stroke-width="1.8"/>
<line x1="283.6" y1="470.6" x2="283.6" y2="598.3" stroke="#111" stroke-width="1.6"/>
<text x="325" y="309.2" font-size="12" text-anchor="start" fill="#000" style="font-weight:bold;">E</text>
<path d="M365.9 403.3 L366.1 403.38 L366.37 403.49 L366.69 403.64 L367 403.8 L367.27 404.05 L367.54 404.36 L367.84 404.62 L368.2 404.7 L368.44 404.58 L368.7 404.33 L368.98 404.02 L369.27 403.7 L369.58 403.45 L369.89 403.33 L370.2 403.4 L370.45 403.64 L370.71 404.04 L370.97 404.54 L371.24 405.11 L371.52 405.7 L371.79 406.27 L372.07 406.77 L372.34 407.16 L372.6 407.4 L372.89 407.44 L373.19 407.27 L373.48 406.96 L373.78 406.6 L374.06 406.25 L374.35 405.98 L374.63 405.88 L374.9 406 L375.21 406.52 L375.51 407.38 L375.8 408.42 L376.09 409.52 L376.37 410.51 L376.64 411.25 L376.9 411.6 L377.17 411.27 L377.42 410.29 L377.65 409.03 L377.88 407.88 L378.13 407.21 L378.4 407.4 L378.66 408.59 L378.93 410.65 L379.21 413.19 L379.5 415.83 L379.8 418.18 L380.1 419.86 L380.4 420.5 L380.67 419.89 L380.95 418.3 L381.24 416.08 L381.52 413.56 L381.81 411.07 L382.09 408.96 L382.35 407.55 L382.6 407.2 L382.9 408.35 L383.18 410.78 L383.44 414.07 L383.7 417.82 L383.95 421.6 L384.2 425 L384.45 428.55 L384.7 432.69 L384.94 436.86 L385.19 440.51 L385.44 443.11 L385.7 444.1 L385.97 443.14 L386.25 440.61 L386.53 437.01 L386.82 432.87 L387.11 428.69 L387.4 425 L387.67 421.99 L387.96 418.7 L388.26 415.32 L388.55 412.04 L388.81 409.06 L389.04 406.55 L389.2 405 L389.4 408.19 L389.6 416.37 L389.8 426.96 L390 438.97 L390.2 451.17 L390.4 459.83 L390.6 467 L390.8 473.28 L391 478.81 L391.2 483.28 L391.4 486.55 L391.6 489.08 L391.8 491.27 L392 493.21 L392.2 494.7 L392.4 495.81 L392.6 496.53 L392.8 497 L393 497.4 L393.2 497 L393.4 496.54 L393.6 495.83 L393.8 494.73 L394 493.27 L394.2 491.37 L394.4 489.24 L394.6 486.79 L394.8 483.64 L395 479.33 L395.2 474.01 L395.4 468.01 L395.6 461.18 L395.8 452.96 L396 441.38 L396.2 430.05 L396.4 420.14 L396.6 412.59 L396.8 409.8 L397 412.71 L397.2 420.2 L397.41 430.14 L397.61 441.22 L397.81 454.06 L398.01 463.82 L398.22 471.63 L398.42 478.26 L398.62 484.23 L398.82 489.51 L399.03 493.85 L399.23 497.1 L399.43 499.64 L399.63 501.81 L399.84 503.82 L400.04 505.46 L400.24 506.72 L400.44 507.68 L400.65 508.29 L400.85 508.71 L401.05 509.1 L401.25 508.71 L401.45 508.29 L401.66 507.7 L401.86 506.75 L402.06 505.53 L402.26 503.94 L402.47 502.01 L402.67 499.94 L402.87 497.51 L403.07 494.44 L403.28 490.34 L403.48 485.38 L403.68 479.8 L403.88 473.64 L404.09 466.42 L404.29 457.43 L404.49 445.62 L404.69 435.56 L404.9 426.62 L405.1 420.02 L405.3 417.7 L405.5 420.14 L405.7 426.49 L405.91 435.21 L406.11 445.1 L406.31 456.26 L406.51 467 L406.72 474.91 L406.92 481.64 L407.12 487.52 L407.32 492.9 L407.52 497.68 L407.73 501.66 L407.93 504.71 L408.13 507.14 L408.33 509.2 L408.53 511.1 L408.74 512.78 L408.94 514.11 L409.14 515.16 L409.34 515.95 L409.55 516.46 L409.75 516.84 L409.95 517.2 L410.15 516.84 L410.35 516.46 L410.56 515.96 L410.76 515.18 L410.96 514.15 L411.16 512.85 L411.37 511.21 L411.57 509.37 L411.77 507.37 L411.97 505.03 L412.17 502.09 L412.38 498.27 L412.58 493.7 L412.78 488.56 L412.98 482.98 L413.18 476.61 L413.39 469.15 L413.59 459.01 L413.79 448.53 L413.99 439.31 L414.2 431.24 L414.4 425.46 L414.6 423.4 L414.8 425.65 L415.01 431.5 L415.21 439.67 L415.42 449.02 L415.62 459.3 L415.83 470.3 L416.03 478.3 L416.23 485.05 L416.44 490.91 L416.64 496.24 L416.85 501.09 L417.05 505.29 L417.25 508.67 L417.46 511.29 L417.66 513.45 L417.87 515.35 L418.07 517.13 L418.27 518.64 L418.48 519.85 L418.68 520.81 L418.89 521.53 L419.09 522 L419.3 522.35 L419.5 522.7 L419.7 522.35 L419.91 522 L420.11 521.53 L420.32 520.83 L420.52 519.88 L420.73 518.7 L420.93 517.22 L421.13 515.48 L421.34 513.63 L421.54 511.54 L421.75 509.01 L421.95 505.76 L422.15 501.71 L422.36 497.06 L422.56 491.96 L422.77 486.38 L422.97 479.96 L423.17 472.37 L423.38 461.94 L423.58 452.25 L423.79 443.49 L423.99 435.89 L424.2 430.53 L424.4 428.6 L424.6 430.74 L424.8 436.31 L425 444.19 L425.2 453.24 L425.4 463.08 L425.6 474.04 L425.8 482.12 L426 488.87 L426.2 494.73 L426.4 500.01 L426.6 504.86 L426.8 509.14 L427 512.66 L427.2 515.39 L427.4 517.62 L427.6 519.54 L427.8 521.32 L428 522.92 L428.2 524.21 L428.4 525.24 L428.6 526.06 L428.8 526.6 L429 526.99 L429.2 527.32 L429.4 527.32 L429.6 526.99 L429.8 526.6 L430 526.07 L430.2 525.25 L430.4 524.24 L430.6 522.96 L430.8 521.39 L431 519.64 L431.2 517.76 L431.4 515.58 L431.6 512.91 L431.8 509.48 L432 505.32 L432.2 500.61 L432.4 495.49 L432.6 489.82 L432.8 483.31 L433 475.52 L433.2 464.96 L433.4 455.51 L433.6 446.85 L433.8 439.37 L434 434.12 L434.2 432.2 L434.4 434.18 L434.6 439.29 L434.81 446.65 L435.01 455.17 L435.21 464.32 L435.41 474.93 L435.61 483.27 L435.82 490 L436.02 495.86 L436.22 501.05 L436.42 505.87 L436.62 510.22 L436.83 513.96 L437.03 516.94 L437.23 519.31 L437.43 521.3 L437.63 523.07 L437.84 524.75 L438.04 526.19 L438.24 527.36 L438.44 528.31 L438.64 529.05 L438.85 529.55 L439.05 529.91 L439.25 530.23 L439.45 530.23 L439.65 529.92 L439.85 529.55 L440.06 529.06 L440.26 528.32 L440.46 527.38 L440.66 526.22 L440.86 524.8 L441.07 523.15 L441.27 521.4 L441.47 519.45 L441.67 517.12 L441.87 514.2 L442.08 510.54 L442.28 506.29 L442.48 501.58 L442.68 496.52 L442.88 490.83 L443.09 484.29 L443.29 476.19 L443.49 465.89 L443.69 457.04 L443.89 448.83 L444.1 441.77 L444.3 436.91 L444.5 435.1 L444.7 437.13 L444.91 442.42 L445.11 449.97 L445.32 458.69 L445.52 468.1 L445.72 478.85 L445.93 487 L446.13 493.69 L446.34 499.51 L446.54 504.72 L446.74 509.53 L446.95 513.82 L447.15 517.44 L447.36 520.28 L447.56 522.56 L447.76 524.5 L447.97 526.26 L448.17 527.91 L448.38 529.28 L448.58 530.37 L448.78 531.26 L448.99 531.89 L449.19 532.33 L449.4 532.67 L449.6 533 L449.8 532.67 L450.01 532.33 L450.21 531.9 L450.42 531.26 L450.62 530.38 L450.82 529.3 L451.03 527.95 L451.23 526.32 L451.44 524.59 L451.64 522.68 L451.84 520.43 L452.05 517.64 L452.25 514.09 L452.46 509.88 L452.66 505.17 L452.86 500.09 L453.07 494.41 L453.27 487.88 L453.48 479.95 L453.68 469.48 L453.88 460.35 L454.09 451.91 L454.29 444.64 L454.5 439.58 L454.7 437.7 L454.9 439.42 L455.1 443.76 L455.3 450.23 L455.5 457.82 L455.7 466.02 L455.9 475.3 L456.1 484.3 L456.3 491.03 L456.5 496.87 L456.7 502.03 L456.9 506.7 L457.1 511.06 L457.3 515.01 L457.5 518.43 L457.7 521.21 L457.9 523.45 L458.1 525.33 L458.3 527 L458.5 528.57 L458.7 530 L458.9 531.2 L459.1 532.18 L459.3 532.99 L459.5 533.6 L459.7 534.03 L459.9 534.35 L460.1 534.64 L460.3 534.64 L460.5 534.35 L460.7 534.03 L460.9 533.61 L461.1 533 L461.3 532.19 L461.5 531.22 L461.7 530.03 L461.9 528.6 L462.1 527.05 L462.3 525.4 L462.5 523.54 L462.7 521.33 L462.9 518.58 L463.1 515.21 L463.3 511.31 L463.5 507.02 L463.7 502.41 L463.9 497.35 L464.1 491.61 L464.3 485 L464.5 476.16 L464.7 467.06 L464.9 459.04 L465.1 451.63 L465.3 445.33 L465.5 441.13 L465.7 439.5 L465.9 441.22 L466.1 445.54 L466.3 451.98 L466.5 459.52 L466.7 467.66 L466.9 476.87 L467.1 485.81 L467.3 492.5 L467.5 498.29 L467.7 503.41 L467.9 508.05 L468.1 512.37 L468.3 516.29 L468.5 519.68 L468.7 522.44 L468.9 524.65 L469.1 526.52 L469.3 528.17 L469.5 529.73 L469.7 531.15 L469.9 532.34 L470.1 533.31 L470.3 534.11 L470.5 534.72 L470.7 535.13 L470.9 535.46 L471.1 535.74 L471.3 535.74 L471.5 535.46 L471.7 535.14 L471.9 534.72 L472.1 534.12 L472.3 533.32 L472.5 532.36 L472.7 531.19 L472.9 529.78 L473.1 528.24 L473.3 526.61 L473.5 524.78 L473.7 522.6 L473.9 519.89 L474.1 516.56 L474.3 512.72 L474.5 508.48 L474.7 503.95 L474.9 498.95 L475.1 493.3 L475.3 486.79 L475.5 478.07 L475.7 469.11 L475.9 461.21 L476.1 453.92 L476.3 447.72 L476.5 443.59 L476.7 442 L476.9 443.53 L477.1 447.22 L477.3 452.93 L477.5 459.67 L477.7 467.06 L477.9 474.98 L478.1 483.94 L478.3 490.96 L478.5 496.74 L478.7 501.85 L478.9 506.4 L479.1 510.63 L479.3 514.57 L479.5 518.15 L479.7 521.27 L479.9 523.85 L480.1 525.94 L480.3 527.72 L480.5 529.28 L480.7 530.74 L480.9 532.12 L481.1 533.32 L481.3 534.32 L481.5 535.14 L481.7 535.84 L481.9 536.34 L482.1 536.7 L482.3 536.99 L482.5 537.25 L482.7 537.25 L482.9 536.99 L483.1 536.7 L483.3 536.34 L483.5 535.84 L483.7 535.15 L483.9 534.33 L484.1 533.34 L484.3 532.15 L484.5 530.78 L484.7 529.34 L484.9 527.79 L485.1 526.04 L485.3 523.97 L485.5 521.43 L485.7 518.35 L485.9 514.83 L486.1 510.94 L486.3 506.79 L486.5 502.32 L486.7 497.3 L486.9 491.63 L487.1 484.76 L487.3 475.97 L487.5 468.22 L487.7 461.01 L487.9 454.44 L488.1 448.9 L488.3 445.34 L488.5 443.9 L488.7 445.58 L488.9 449.81 L489.1 456.11 L489.3 463.51 L489.5 471.49 L489.7 480.53 L489.9 489.31 L490.1 495.86 L490.3 501.55 L490.5 506.57 L490.7 511.13 L490.9 515.38 L491.1 519.22 L491.3 522.56 L491.5 525.26 L491.7 527.44 L491.9 529.28 L492.1 530.9 L492.3 532.43 L492.5 533.83 L492.7 535 L492.9 535.95 L493.1 536.74 L493.3 537.33 L493.5 537.75 L493.7 538.06 L493.9 538.34 L494.1 538.34 L494.3 538.06 L494.5 537.75 L494.7 537.34 L494.9 536.74 L495.1 535.96 L495.3 535.01 L495.5 533.85 L495.7 532.46 L495.9 530.95 L496.1 529.34 L496.3 527.53 L496.5 525.38 L496.7 522.71 L496.9 519.42 L497.1 515.63 L497.3 511.44 L497.5 506.96 L497.7 502.03 L497.9 496.44 L498.1 490.01 L498.3 481.4 L498.5 472.54 L498.7 464.73 L498.9 457.51 L499.1 451.37 L499.3 447.28 L499.5 445.7 L499.7 447.37 L499.9 451.58 L500.1 457.88 L500.3 465.26 L500.5 473.25 L500.7 482.28 L500.9 491.06 L501.1 497.62 L501.3 503.31 L501.5 508.33 L501.7 512.89 L501.9 517.14 L502.1 520.99 L502.3 524.33 L502.5 527.04 L502.7 529.22 L502.9 531.06 L503.1 532.68 L503.3 534.21 L503.5 535.62 L503.7 536.79 L503.9 537.74 L504.1 538.53 L504.3 539.13 L504.5 539.54 L504.7 539.86 L504.9 540.14 L505.1 540.14 L505.3 539.86 L505.5 539.54 L505.7 539.13 L505.9 538.54 L506.1 537.75 L506.3 536.8 L506.5 535.63 L506.7 534.24 L506.9 532.71 L507.1 531.1 L507.3 529.27 L507.5 527.11 L507.7 524.42 L507.9 521.11 L508.1 517.29 L508.3 513.08 L508.5 508.57 L508.7 503.6 L508.9 497.97 L509.1 491.49 L509.3 482.81 L509.5 473.89 L509.7 466.01 L509.9 458.73 L510.1 452.54 L510.3 448.41 L510.5 446.8 L510.7 448.28 L510.9 451.82 L511.11 457.32 L511.31 463.86 L511.51 471.02 L511.71 478.64 L511.91 487.42 L512.11 494.52 L512.32 500.26 L512.52 505.34 L512.72 509.87 L512.92 514.03 L513.12 517.94 L513.32 521.52 L513.52 524.68 L513.73 527.34 L513.93 529.49 L514.13 531.3 L514.33 532.88 L514.53 534.32 L514.74 535.7 L514.94 536.94 L515.14 537.99 L515.34 538.85 L515.54 539.58 L515.74 540.15 L515.95 540.55 L516.15 540.87 L516.35 541.13 L516.55 541.4 L516.75 541.13 L516.95 540.87 L517.15 540.56 L517.36 540.16 L517.56 539.58 L517.76 538.86 L517.96 538 L518.16 536.97 L518.37 535.74 L518.57 534.37 L518.77 532.94 L518.97 531.38 L519.17 529.59 L519.37 527.47 L519.58 524.85 L519.78 521.73 L519.98 518.21 L520.18 514.37 L520.38 510.27 L520.58 505.82 L520.78 500.84 L520.99 495.22 L521.19 488.25 L521.39 479.66 L521.59 472.2 L521.79 465.21 L522 458.85 L522.2 453.5 L522.4 450.09 L522.6 448.7 L522.8 450.13 L523.01 453.51 L523.21 458.84 L523.41 465.17 L523.62 472.15 L523.82 479.52 L524.02 488.08 L524.23 495.31 L524.43 501.03 L524.63 506.09 L524.84 510.61 L525.04 514.73 L525.24 518.62 L525.45 522.2 L525.65 525.4 L525.85 528.14 L526.06 530.37 L526.26 532.22 L526.46 533.83 L526.67 535.27 L526.87 536.65 L527.07 537.93 L527.28 539.02 L527.48 539.94 L527.68 540.7 L527.89 541.34 L528.09 541.79 L528.29 542.13 L528.5 542.41 L528.7 542.66 L528.9 542.66 L529.1 542.41 L529.31 542.13 L529.51 541.79 L529.71 541.34 L529.92 540.7 L530.12 539.94 L530.32 539.03 L530.53 537.94 L530.73 536.67 L530.93 535.3 L531.14 533.87 L531.34 532.27 L531.54 530.43 L531.75 528.22 L531.95 525.51 L532.15 522.33 L532.36 518.78 L532.56 514.93 L532.76 510.85 L532.97 506.38 L533.17 501.38 L533.37 495.72 L533.58 488.58 L533.78 480.11 L533.98 472.84 L534.19 465.96 L534.39 459.72 L534.59 454.49 L534.8 451.18 L535 449.8 L535.2 451.23 L535.4 454.62 L535.6 459.95 L535.8 466.29 L536 473.27 L536.2 480.65 L536.4 489.22 L536.6 496.46 L536.8 502.19 L537 507.25 L537.2 511.78 L537.4 515.9 L537.6 519.79 L537.8 523.38 L538 526.58 L538.2 529.32 L538.4 531.55 L538.6 533.41 L538.8 535.02 L539 536.47 L539.2 537.84 L539.4 539.12 L539.6 540.22 L539.8 541.13 L540 541.9 L540.2 542.54 L540.4 542.99 L540.6 543.33 L540.8 543.61 L541 543.86 L541.2 543.86 L541.4 543.61 L541.6 543.33 L541.8 542.99 L542 542.54 L542.2 541.9 L542.4 541.14 L542.6 540.23 L542.8 539.14 L543 537.86 L543.2 536.5 L543.4 535.06 L543.6 533.46 L543.8 531.62 L544 529.41 L544.2 526.69 L544.4 523.51 L544.6 519.96 L544.8 516.1 L545 512.02 L545.2 507.54 L545.4 502.53 L545.6 496.87 L545.8 489.72 L546 481.25 L546.2 473.96 L546.4 467.08 L546.6 460.83 L546.8 455.59 L547 452.28 L547.2 450.9 L547.4 452.26 L547.61 455.42 L547.81 460.46 L548.01 466.51 L548.22 473.19 L548.42 480.23 L548.62 488.35 L548.83 495.88 L549.03 501.65 L549.23 506.73 L549.43 511.27 L549.64 515.37 L549.84 519.23 L550.04 522.84 L550.25 526.12 L550.45 529 L550.65 531.41 L550.86 533.39 L551.06 535.07 L551.26 536.56 L551.47 537.93 L551.67 539.25 L551.87 540.44 L552.08 541.45 L552.28 542.3 L552.48 543.02 L552.69 543.61 L552.89 544.03 L553.09 544.35 L553.3 544.62 L553.5 544.86 L553.7 544.86 L553.9 544.62 L554.11 544.35 L554.31 544.03 L554.51 543.61 L554.72 543.02 L554.92 542.31 L555.12 541.46 L555.33 540.45 L555.53 539.26 L555.73 537.95 L555.94 536.59 L556.14 535.11 L556.34 533.43 L556.55 531.46 L556.75 529.07 L556.95 526.2 L557.16 522.94 L557.36 519.36 L557.56 515.53 L557.77 511.46 L557.97 506.95 L558.17 501.92 L558.37 496.2 L558.58 488.73 L558.78 480.68 L558.98 473.71 L559.19 467.09 L559.39 461.12 L559.59 456.13 L559.8 453.02 L560 451.7 L560.2 453.09 L560.41 456.26 L560.61 461.33 L560.81 467.39 L561.02 474.09 L561.22 481.14 L561.42 489.26 L561.63 496.79 L561.83 502.56 L562.03 507.63 L562.23 512.17 L562.44 516.27 L562.64 520.12 L562.84 523.72 L563.05 526.99 L563.25 529.87 L563.45 532.27 L563.66 534.24 L563.86 535.92 L564.06 537.41 L564.27 538.77 L564.47 540.08 L564.67 541.27 L564.88 542.27 L565.08 543.12 L565.28 543.83 L565.49 544.42 L565.69 544.84 L565.89 545.16 L566.1 545.42 L566.3 545.66 L566.5 545.66 L566.7 545.42 L566.91 545.16 L567.11 544.84 L567.31 544.43 L567.52 543.84 L567.72 543.13 L567.92 542.3 L568.13 541.3 L568.33 540.12 L568.53 538.83 L568.74 537.48 L568.94 536.02 L569.14 534.37 L569.35 532.43 L569.55 530.07 L569.75 527.25 L569.96 524.03 L570.16 520.51 L570.36 516.74 L570.57 512.73 L570.77 508.3 L570.97 503.35 L571.17 497.72 L571.38 490.38 L571.58 482.48 L571.78 475.63 L571.99 469.14 L572.19 463.28 L572.39 458.4 L572.6 455.38 L572.8 454.1 L573 455.42 L573.2 458.42 L573.4 463.25 L573.6 469.04 L573.8 475.46 L574 482.22 L574.2 489.92 L574.4 497.4 L574.6 503.1 L574.8 508.08 L575 512.53 L575.2 516.54 L575.4 520.3 L575.6 523.82 L575.8 527.05 L576 529.93 L576.2 532.37 L576.4 534.36 L576.6 536.05 L576.8 537.53 L577 538.88 L577.2 540.15 L577.4 541.36 L577.6 542.39 L577.8 543.27 L578 544 L578.2 544.63 L578.4 545.09 L578.6 545.44 L578.8 545.71 L579 545.95 L579.2 546.2 L579.4 545.95 L579.6 545.71 L579.8 545.44 L580 545.1 L580.2 544.63 L580.4 544.01 L580.6 543.28 L580.8 542.41 L581 541.38 L581.2 540.19 L581.4 538.93 L581.6 537.6 L581.8 536.14 L582 534.47 L582.2 532.5 L582.4 530.09 L582.6 527.26 L582.8 524.08 L583 520.61 L583.2 516.92 L583.4 512.99 L583.6 508.62 L583.8 503.74 L584 498.16 L584.2 490.83 L584.4 483.3 L584.6 476.69 L584.8 470.44 L585 464.8 L585.2 460.12 L585.4 457.24 L585.6 456 L585.8 457.18 L586 459.75 L586.2 464.03 L586.41 469.23 L586.61 475.04 L586.81 481.21 L587.01 487.86 L587.21 495.29 L587.41 501.28 L587.61 506.21 L587.82 510.62 L588.02 514.61 L588.22 518.24 L588.42 521.68 L588.62 524.91 L588.82 527.88 L589.02 530.54 L589.23 532.81 L589.43 534.7 L589.63 536.3 L589.83 537.71 L590.03 538.99 L590.23 540.18 L590.44 541.34 L590.64 542.37 L590.84 543.26 L591.04 544.01 L591.24 544.65 L591.44 545.2 L591.64 545.6 L591.85 545.9 L592.05 546.15 L592.25 546.37 L592.45 546.6 L592.65 546.37 L592.85 546.15 L593.05 545.9 L593.26 545.6 L593.46 545.2 L593.66 544.65 L593.86 544.02 L594.06 543.27 L594.26 542.38 L594.46 541.36 L594.67 540.2 L594.87 539.01 L595.07 537.74 L595.27 536.34 L595.47 534.74 L595.67 532.87 L595.88 530.6 L596.08 527.96 L596.28 525.01 L596.48 521.79 L596.68 518.37 L596.88 514.77 L597.08 510.81 L597.29 506.43 L597.49 501.54 L597.69 495.59 L597.89 488.22 L598.09 481.63 L598.29 475.52 L598.49 469.76 L598.7 464.61 L598.9 460.39 L599.1 457.86 L599.3 456.7 L599.5 457.94 L599.7 460.69 L599.9 465.19 L600.11 470.62 L600.31 476.67 L600.51 483.07 L600.71 490.15 L600.91 497.61 L601.11 503.37 L601.32 508.28 L601.52 512.67 L601.72 516.63 L601.92 520.28 L602.12 523.74 L602.32 526.95 L602.52 529.86 L602.73 532.41 L602.93 534.52 L603.13 536.29 L603.33 537.81 L603.53 539.16 L603.73 540.41 L603.93 541.62 L604.14 542.72 L604.34 543.67 L604.54 544.47 L604.74 545.15 L604.94 545.73 L605.14 546.16 L605.35 546.48 L605.55 546.74 L605.75 546.96 L605.95 547.2 L606.15 546.96 L606.35 546.74 L606.55 546.48 L606.76 546.16 L606.96 545.73 L607.16 545.16 L607.36 544.48 L607.56 543.68 L607.76 542.74 L607.97 541.65 L608.17 540.45 L608.37 539.2 L608.57 537.86 L608.77 536.35 L608.97 534.61 L609.17 532.51 L609.38 529.99 L609.58 527.11 L609.78 523.93 L609.98 520.52 L610.18 516.91 L610.38 513 L610.58 508.67 L610.79 503.83 L610.99 498.16 L611.19 490.8 L611.39 483.83 L611.59 477.54 L611.79 471.59 L612 466.26 L612.2 461.86 L612.4 459.18 L612.6 458 L612.8 459.08 L613 461.27 L613.2 465.02 L613.4 469.67 L613.6 474.9 L613.8 480.5 L614 486.33 L614.2 493.01 L614.4 499.5 L614.6 504.54 L614.8 508.94 L615 512.92 L615.2 516.55 L615.4 519.88 L615.6 523.06 L615.8 526.05 L616 528.83 L616.2 531.34 L616.4 533.53 L616.6 535.38 L616.8 536.96 L617 538.33 L617.2 539.56 L617.4 540.7 L617.6 541.8 L617.8 542.84 L618 543.77 L618.2 544.57 L618.4 545.25 L618.6 545.84 L618.8 546.36 L619 546.74 L619.2 547.04 L619.4 547.28 L619.6 547.49 L619.8 547.68 L620 547.68 L620.2 547.49 L620.4 547.28 L620.6 547.04 L620.8 546.74 L621 546.36 L621.2 545.85 L621.4 545.26 L621.6 544.58 L621.8 543.78 L622 542.87 L622.2 541.83 L622.4 540.74 L622.6 539.61 L622.8 538.39 L623 537.03 L623.2 535.48 L623.4 533.65 L623.6 531.48 L623.8 529 L624 526.26 L624.2 523.3 L624.4 520.17 L624.6 516.89 L624.8 513.31 L625 509.4 L625.2 505.06 L625.4 500.11 L625.6 493.73 L625.8 487.16 L626 481.44 L626.2 475.95 L626.4 470.84 L626.6 466.29 L626.8 462.63 L627 460.52 L627.2 459.5 L627.4 460.6 L627.61 462.9 L627.81 466.8 L628.01 471.59 L628.21 476.96 L628.42 482.7 L628.62 488.72 L628.82 495.68 L629.03 501.93 L629.23 506.81 L629.43 511.16 L629.63 515.09 L629.84 518.67 L630.04 521.99 L630.24 525.15 L630.45 528.11 L630.65 530.82 L630.85 533.23 L631.05 535.28 L631.26 536.99 L631.46 538.47 L631.66 539.78 L631.86 540.97 L632.07 542.1 L632.27 543.19 L632.47 544.17 L632.68 545.01 L632.88 545.74 L633.08 546.36 L633.28 546.9 L633.49 547.31 L633.69 547.62 L633.89 547.87 L634.1 548.08 L634.3 548.28 L634.5 548.28 L634.7 548.08 L634.91 547.87 L635.11 547.62 L635.31 547.31 L635.52 546.9 L635.72 546.36 L635.92 545.74 L636.12 545.02 L636.33 544.18 L636.53 543.2 L636.73 542.12 L636.94 541 L637.14 539.82 L637.34 538.52 L637.54 537.05 L637.75 535.35 L637.95 533.31 L638.15 530.92 L638.35 528.24 L638.56 525.31 L638.76 522.17 L638.96 518.88 L639.17 515.34 L639.37 511.45 L639.57 507.15 L639.77 502.32 L639.98 496.14 L640.18 489.26 L640.38 483.32 L640.59 477.66 L640.79 472.35 L640.99 467.64 L641.19 463.8 L641.4 461.56 L641.6 460.5 L641.8 461.56 L642 463.71 L642.2 467.42 L642.4 471.99 L642.6 477.14 L642.8 482.66 L643 488.41 L643.2 494.99 L643.4 501.39 L643.6 506.35 L643.8 510.69 L644 514.62 L644.2 518.19 L644.4 521.47 L644.6 524.6 L644.8 527.56 L645 530.29 L645.2 532.77 L645.4 534.93 L645.6 536.76 L645.8 538.31 L646 539.66 L646.2 540.88 L646.4 542 L646.6 543.08 L646.8 544.11 L647 545.02 L647.2 545.81 L647.4 546.49 L647.6 547.07 L647.8 547.58 L648 547.96 L648.2 548.25 L648.4 548.48 L648.6 548.69 L648.8 548.89 L649 548.89 L649.2 548.69 L649.4 548.48 L649.6 548.25 L649.8 547.96 L650 547.58 L650.2 547.08 L650.4 546.5 L650.6 545.82 L650.8 545.04 L651 544.13 L651.2 543.11 L651.4 542.04 L651.6 540.92 L651.8 539.72 L652 538.37 L652.2 536.84 L652.4 535.03 L652.6 532.89 L652.8 530.44 L653 527.73 L653.2 524.82 L653.4 521.72 L653.6 518.48 L653.8 514.96 L654 511.09 L654.2 506.81 L654.4 501.91 L654.6 495.62 L654.8 489.13 L655 483.47 L655.2 478.06 L655.4 473 L655.6 468.52 L655.8 464.9 L656 462.81 L656.2 461.8 L656.4 462.82 L656.6 464.83 L656.8 468.33 L657 472.7 L657.2 477.6 L657.4 482.89 L657.6 488.39 L657.8 494.54 L658 500.95 L658.2 506.03 L658.4 510.34 L658.6 514.24 L658.8 517.8 L659 521.05 L659.2 524.12 L659.4 527.04 L659.6 529.78 L659.8 532.28 L660 534.53 L660.2 536.46 L660.4 538.08 L660.6 539.49 L660.8 540.73 L661 541.87 L661.2 542.93 L661.4 543.96 L661.6 544.93 L661.8 545.77 L662 546.51 L662.2 547.14 L662.4 547.68 L662.6 548.15 L662.8 548.51 L663 548.78 L663.2 549 L663.4 549.2 L663.6 549.39 L663.8 549.39 L664 549.2 L664.2 549 L664.4 548.78 L664.6 548.51 L664.8 548.16 L665 547.69 L665.2 547.14 L665.4 546.52 L665.6 545.79 L665.8 544.95 L666 543.99 L666.2 542.97 L666.4 541.92 L666.6 540.8 L666.8 539.56 L667 538.17 L667.2 536.57 L667.4 534.66 L667.6 532.45 L667.8 529.97 L668 527.28 L668.2 524.4 L668.4 521.38 L668.6 518.18 L668.8 514.68 L669 510.85 L669.2 506.61 L669.4 501.62 L669.6 495.33 L669.8 489.3 L670 483.91 L670.2 478.74 L670.4 473.95 L670.6 469.7 L670.8 466.29 L671 464.36 L671.2 463.4 L671.4 465.17 L671.6 469.83 L671.8 476.49 L672 484.19 L672.2 492.5 L672.4 502.02 L672.6 509.22 L672.8 515.15 L673 520.3 L673.2 524.91 L673.4 529.17 L673.6 532.97 L673.8 536.19 L674 538.7 L674.2 540.73 L674.4 542.45 L674.6 544.01" fill="none" stroke="#1E86B0" stroke-width="1.4" stroke-linejoin="round"/>
<rect x="365.6" y="293.4" width="309.6" height="296.4" stroke="#111" stroke-width="1.2" fill="none"/>
<line x1="365.6" y1="552.75" x2="368.4" y2="552.75" stroke="#111" stroke-width="1.1"/>
<line x1="365.6" y1="515.7" x2="370.6" y2="515.7" stroke="#111" stroke-width="1.1"/>
<line x1="365.6" y1="478.65" x2="368.4" y2="478.65" stroke="#111" stroke-width="1.1"/>
<line x1="365.6" y1="441.6" x2="370.6" y2="441.6" stroke="#111" stroke-width="1.1"/>
<line x1="365.6" y1="404.55" x2="368.4" y2="404.55" stroke="#111" stroke-width="1.1"/>
<line x1="365.6" y1="367.5" x2="370.6" y2="367.5" stroke="#111" stroke-width="1.1"/>
<line x1="365.6" y1="330.45" x2="368.4" y2="330.45" stroke="#111" stroke-width="1.1"/>
<text x="363.3" y="297.2" font-size="10.6" text-anchor="end" fill="#1a1a1a" style="">2.0</text>
<text x="363.3" y="371.3" font-size="10.6" text-anchor="end" fill="#1a1a1a" style="">1.5</text>
<text x="363.3" y="445.4" font-size="10.6" text-anchor="end" fill="#1a1a1a" style="">1.0</text>
<text x="363.3" y="519.5" font-size="10.6" text-anchor="end" fill="#1a1a1a" style="">0.5</text>
<text x="363.3" y="593.6" font-size="10.6" text-anchor="end" fill="#1a1a1a" style="">0.0</text>
<line x1="391.4" y1="589.8" x2="391.4" y2="587" stroke="#111" stroke-width="1.1"/>
<line x1="417.2" y1="589.8" x2="417.2" y2="584.8" stroke="#111" stroke-width="1.1"/>
<line x1="443" y1="589.8" x2="443" y2="587" stroke="#111" stroke-width="1.1"/>
<line x1="468.8" y1="589.8" x2="468.8" y2="584.8" stroke="#111" stroke-width="1.1"/>
<line x1="494.6" y1="589.8" x2="494.6" y2="587" stroke="#111" stroke-width="1.1"/>
<line x1="520.4" y1="589.8" x2="520.4" y2="584.8" stroke="#111" stroke-width="1.1"/>
<line x1="546.2" y1="589.8" x2="546.2" y2="587" stroke="#111" stroke-width="1.1"/>
<line x1="572" y1="589.8" x2="572" y2="584.8" stroke="#111" stroke-width="1.1"/>
<line x1="597.8" y1="589.8" x2="597.8" y2="587" stroke="#111" stroke-width="1.1"/>
<line x1="623.6" y1="589.8" x2="623.6" y2="584.8" stroke="#111" stroke-width="1.1"/>
<line x1="649.4" y1="589.8" x2="649.4" y2="587" stroke="#111" stroke-width="1.1"/>
<text x="363.6" y="603.4" font-size="10.6" text-anchor="middle" fill="#1a1a1a" style="">0</text>
<text x="415.4" y="603.4" font-size="10.6" text-anchor="middle" fill="#1a1a1a" style="">50</text>
<text x="465.6" y="603.4" font-size="10.6" text-anchor="middle" fill="#1a1a1a" style="">100</text>
<text x="521" y="603.4" font-size="10.6" text-anchor="middle" fill="#1a1a1a" style="">150</text>
<text x="572.2" y="603.4" font-size="10.6" text-anchor="middle" fill="#1a1a1a" style="">200</text>
<text x="624" y="603.4" font-size="10.6" text-anchor="middle" fill="#1a1a1a" style="">250</text>
<text x="676" y="603.4" font-size="10.6" text-anchor="middle" fill="#1a1a1a" style="">300</text>
<text x="511.6" y="614.4" font-size="10.6" text-anchor="start" fill="#1a1a1a" style=""><tspan style="font-style:italic">t</tspan> / s</text>
<text x="0" y="0" font-size="10.6" text-anchor="middle" fill="#1a1a1a" style="" transform="translate(338.7,440.8) rotate(-90)"><tspan style="font-style:italic">G</tspan> / μS</text>
<text x="423.6" y="380.4" font-size="10.75" text-anchor="middle" fill="#1a1a1a" style="">High</text>
<text x="378" y="393.2" font-size="10.75" text-anchor="start" fill="#1a1a1a" style="">Conductance State</text>
<text x="376.5" y="554.1" font-size="10.8" text-anchor="start" fill="#1a1a1a" style="">Low Conductance State</text>
<line x1="540.6" y1="544" x2="540.6" y2="554.2" stroke="#E0466A" stroke-width="1.3"/>
<line x1="553.8" y1="544" x2="553.8" y2="554.2" stroke="#E0466A" stroke-width="1.3"/>
<line x1="543.5" y1="549.3" x2="551" y2="549.3" stroke="#E0466A" stroke-width="1"/>
<path d="M541.6 549.3 L544.6 547.7 L544.6 550.9 Z" fill="#E0466A"/>
<path d="M552.8 549.3 L549.8 547.7 L549.8 550.9 Z" fill="#E0466A"/>
<text x="540.6" y="570.8" font-size="10.6" text-anchor="start" fill="#1a1a1a" style="">Δt</text>
<rect x="510.7" y="300.7" width="144.4" height="117.1" fill="#fff" stroke="none"/>
<path d="M515.51 317.97 L515.8 319.35 L516.17 321.2 L516.6 323.42 L517.09 325.89 L517.62 328.51 L518.17 331.17 L518.73 333.75 L519.29 336.14 L519.82 338.24 L520.33 339.93 L520.81 341.24 L521.29 342.32 L521.77 343.19 L522.25 343.9 L522.73 344.48 L523.21 344.99 L523.7 345.45 L524.18 345.9 L524.66 346.39 L525.14 346.95 L525.62 347.56 L526.1 348.15 L526.58 348.72 L527.07 349.27 L527.55 349.81 L528.03 350.33 L528.51 350.83 L528.99 351.31 L529.47 351.78 L529.95 352.22 L530.43 352.66 L530.92 353.08 L531.4 353.48 L531.88 353.87 L532.36 354.24 L532.84 354.58 L533.32 354.91 L533.8 355.21 L534.29 355.49 L534.77 355.74 L535.25 355.94 L535.73 356.1 L536.21 356.22 L536.69 356.32 L537.17 356.4 L537.65 356.47 L538.14 356.54 L538.62 356.64 L539.1 356.75 L539.58 356.91 L540.06 357.1 L540.54 357.32 L541.02 357.57 L541.51 357.82 L541.99 358.09 L542.47 358.35 L542.95 358.61 L543.43 358.85 L543.91 359.06 L544.39 359.25 L544.87 359.41 L545.36 359.54 L545.84 359.66 L546.32 359.76 L546.8 359.86 L547.28 359.94 L547.76 360.03 L548.24 360.11 L548.73 360.2 L549.21 360.3 L549.69 360.41 L550.17 360.51 L550.65 360.62 L551.13 360.73 L551.61 360.83 L552.09 360.94 L552.58 361.04 L553.06 361.15 L553.54 361.25 L554.02 361.36 L554.5 361.46 L554.98 361.57 L555.46 361.67 L555.95 361.78 L556.43 361.88 L556.91 361.99 L557.39 362.1 L557.87 362.2 L558.35 362.31 L558.83 362.41 L559.31 362.52 L559.8 362.62 L560.28 362.73 L560.76 362.83 L561.24 362.94 L561.72 363.04 L562.2 363.15 L562.68 363.25 L563.17 363.36 L563.65 363.47 L564.13 363.57 L564.61 363.68 L565.09 363.78 L565.57 363.89 L566.05 363.99 L566.53 364.1 L567.02 364.2 L567.5 364.31 L567.98 364.41 L568.46 364.52 L568.94 364.62 L569.42 364.73 L569.9 364.84 L570.39 364.94 L570.87 365.05 L571.35 365.15 L571.83 365.26 L572.31 365.36 L572.79 365.47 L573.27 365.57 L573.75 365.68 L574.24 365.78 L574.72 365.89 L575.2 365.99 L575.68 366.1 L576.16 366.21 L576.64 366.31 L577.12 366.42 L577.61 366.52 L578.09 366.63 L578.57 366.73 L579.05 366.84 L579.53 366.94 L580.01 367.05 L580.49 367.15 L580.97 367.26 L581.46 367.37 L581.94 367.47 L582.42 367.58 L582.9 367.68 L583.38 367.79 L583.86 367.89 L584.34 368 L584.83 368.1 L585.31 368.21 L585.79 368.31 L586.27 368.42 L586.75 368.52 L587.23 368.63 L587.71 368.74 L588.19 368.84 L588.68 368.95 L589.16 369.05 L589.64 369.16 L590.12 369.26 L590.6 369.37 L591.08 369.47 L591.56 369.58 L592.05 369.68 L592.53 369.79 L593.01 369.89 L593.49 370 L593.97 370.11 L594.45 370.21 L594.93 370.32 L595.41 370.42 L595.9 370.53 L596.38 370.63 L596.86 370.74 L597.34 370.84 L597.82 370.95 L598.3 371.05 L598.78 371.16 L599.27 371.26 L599.75 371.37 L600.23 371.48 L600.71 371.58 L601.19 371.69 L601.67 371.79 L602.15 371.9 L602.63 372 L603.12 372.11 L603.6 372.21 L604.08 372.32 L604.56 372.42 L605.04 372.53 L605.52 372.63 L606 372.74 L606.49 372.85 L606.97 372.95 L607.45 373.06 L607.93 373.16 L608.41 373.27 L608.89 373.37 L609.37 373.48 L609.85 373.58 L610.34 373.69 L610.82 373.79 L611.3 373.9 L611.78 374 L612.26 374.11 L612.74 374.22 L613.22 374.32 L613.71 374.43 L614.19 374.53 L614.67 374.64 L615.15 374.74 L615.63 374.85 L616.11 374.95 L616.59 375.06 L617.07 375.16 L617.56 375.27 L618.04 375.37 L618.52 375.48 L619 375.59 L619.48 375.69 L619.96 375.8 L620.44 375.9 L620.93 376.01 L621.41 376.11 L621.89 376.22 L622.37 376.32 L622.85 376.43 L623.33 376.53 L623.81 376.64 L624.29 376.74 L624.78 376.85 L625.26 376.96 L625.74 377.06 L626.22 377.17 L626.7 377.27 L627.18 377.38 L627.66 377.48 L628.15 377.59 L628.63 377.69 L629.11 377.8 L629.59 377.9 L630.07 378.01 L630.55 378.11 L631.03 378.22 L631.51 378.33 L632 378.43 L632.48 378.54 L632.96 378.64 L633.44 378.75 L633.92 378.85 L634.4 378.96 L634.88 379.06 L635.37 379.17 L635.85 379.27 L636.35 379.38 L636.89 379.5 L637.44 379.62 L638 379.75 L638.55 379.87 L639.08 379.98 L639.57 380.09 L640.01 380.18 L640.37 380.27 L640.66 380.33" fill="none" stroke="#1E86B0" stroke-width="1.3" stroke-linejoin="round"/>
<rect x="514.21" y="316.67" width="2.6" height="2.6" fill="#E0466A" transform="rotate(45 515.51 317.97)"/>
<rect x="519.03" y="338.63" width="2.6" height="2.6" fill="#E0466A" transform="rotate(45 520.33 339.93)"/>
<rect x="523.84" y="345.65" width="2.6" height="2.6" fill="#E0466A" transform="rotate(45 525.14 346.95)"/>
<rect x="528.65" y="350.92" width="2.6" height="2.6" fill="#E0466A" transform="rotate(45 529.95 352.22)"/>
<rect x="533.47" y="354.44" width="2.6" height="2.6" fill="#E0466A" transform="rotate(45 534.77 355.74)"/>
<rect x="538.28" y="355.61" width="2.6" height="2.6" fill="#E0466A" transform="rotate(45 539.58 356.91)"/>
<rect x="543.09" y="357.95" width="2.6" height="2.6" fill="#E0466A" transform="rotate(45 544.39 359.25)"/>
<rect x="547.91" y="359" width="2.6" height="2.6" fill="#E0466A" transform="rotate(45 549.21 360.3)"/>
<rect x="552.72" y="360.06" width="2.6" height="2.6" fill="#E0466A" transform="rotate(45 554.02 361.36)"/>
<rect x="557.53" y="361.11" width="2.6" height="2.6" fill="#E0466A" transform="rotate(45 558.83 362.41)"/>
<rect x="562.35" y="362.17" width="2.6" height="2.6" fill="#E0466A" transform="rotate(45 563.65 363.47)"/>
<rect x="567.16" y="363.22" width="2.6" height="2.6" fill="#E0466A" transform="rotate(45 568.46 364.52)"/>
<rect x="571.97" y="364.27" width="2.6" height="2.6" fill="#E0466A" transform="rotate(45 573.27 365.57)"/>
<rect x="576.79" y="365.33" width="2.6" height="2.6" fill="#E0466A" transform="rotate(45 578.09 366.63)"/>
<rect x="581.6" y="366.38" width="2.6" height="2.6" fill="#E0466A" transform="rotate(45 582.9 367.68)"/>
<rect x="586.41" y="367.44" width="2.6" height="2.6" fill="#E0466A" transform="rotate(45 587.71 368.74)"/>
<rect x="591.23" y="368.49" width="2.6" height="2.6" fill="#E0466A" transform="rotate(45 592.53 369.79)"/>
<rect x="596.04" y="369.54" width="2.6" height="2.6" fill="#E0466A" transform="rotate(45 597.34 370.84)"/>
<rect x="600.85" y="370.6" width="2.6" height="2.6" fill="#E0466A" transform="rotate(45 602.15 371.9)"/>
<rect x="605.67" y="371.65" width="2.6" height="2.6" fill="#E0466A" transform="rotate(45 606.97 372.95)"/>
<rect x="610.48" y="372.7" width="2.6" height="2.6" fill="#E0466A" transform="rotate(45 611.78 374)"/>
<rect x="615.29" y="373.76" width="2.6" height="2.6" fill="#E0466A" transform="rotate(45 616.59 375.06)"/>
<rect x="620.11" y="374.81" width="2.6" height="2.6" fill="#E0466A" transform="rotate(45 621.41 376.11)"/>
<rect x="624.92" y="375.87" width="2.6" height="2.6" fill="#E0466A" transform="rotate(45 626.22 377.17)"/>
<rect x="629.73" y="376.92" width="2.6" height="2.6" fill="#E0466A" transform="rotate(45 631.03 378.22)"/>
<rect x="634.55" y="377.97" width="2.6" height="2.6" fill="#E0466A" transform="rotate(45 635.85 379.27)"/>
<rect x="639.36" y="379.03" width="2.6" height="2.6" fill="#E0466A" transform="rotate(45 640.66 380.33)"/>
<rect x="510.7" y="300.7" width="144.4" height="117.1" stroke="#111" stroke-width="1.7" fill="none"/>
<line x1="510.7" y1="403.16" x2="512.9" y2="403.16" stroke="#111" stroke-width="1.1"/>
<line x1="510.7" y1="388.52" x2="514.7" y2="388.52" stroke="#111" stroke-width="1.1"/>
<line x1="510.7" y1="373.89" x2="512.9" y2="373.89" stroke="#111" stroke-width="1.1"/>
<line x1="510.7" y1="359.25" x2="514.7" y2="359.25" stroke="#111" stroke-width="1.1"/>
<line x1="510.7" y1="344.61" x2="512.9" y2="344.61" stroke="#111" stroke-width="1.1"/>
<line x1="510.7" y1="329.97" x2="514.7" y2="329.97" stroke="#111" stroke-width="1.1"/>
<line x1="510.7" y1="315.34" x2="512.9" y2="315.34" stroke="#111" stroke-width="1.1"/>
<line x1="534.77" y1="417.8" x2="534.77" y2="415.6" stroke="#111" stroke-width="1.1"/>
<line x1="558.83" y1="417.8" x2="558.83" y2="413.8" stroke="#111" stroke-width="1.1"/>
<line x1="582.9" y1="417.8" x2="582.9" y2="415.6" stroke="#111" stroke-width="1.1"/>
<line x1="606.97" y1="417.8" x2="606.97" y2="413.8" stroke="#111" stroke-width="1.1"/>
<line x1="631.03" y1="417.8" x2="631.03" y2="415.6" stroke="#111" stroke-width="1.1"/>
<text x="508.4" y="306.1" font-size="10.6" text-anchor="end" fill="#1a1a1a" style="">0.20</text>
<text x="508.4" y="334.68" font-size="10.6" text-anchor="end" fill="#1a1a1a" style="">0.15</text>
<text x="508.4" y="364.05" font-size="10.6" text-anchor="end" fill="#1a1a1a" style="">0.10</text>
<text x="508.4" y="393.52" font-size="10.6" text-anchor="end" fill="#1a1a1a" style="">0.05</text>
<text x="508.4" y="418.8" font-size="10.6" text-anchor="end" fill="#1a1a1a" style="">0</text>
<text x="510.7" y="428.3" font-size="10.6" text-anchor="middle" fill="#1a1a1a" style="">0</text>
<text x="558.83" y="428.3" font-size="10.6" text-anchor="middle" fill="#1a1a1a" style="">10</text>
<text x="606.97" y="428.3" font-size="10.6" text-anchor="middle" fill="#1a1a1a" style="">20</text>
<text x="655.1" y="428.3" font-size="10.6" text-anchor="middle" fill="#1a1a1a" style="">30</text>
<text x="543.5" y="438.9" font-size="10.9" text-anchor="start" fill="#1a1a1a" style="font-style:italic;">Spiking Number</text>
<text x="0" y="0" font-size="10.6" text-anchor="middle" fill="#1a1a1a" style="" transform="translate(482,349) rotate(-90)"><tspan style="font-style:italic">Δt</tspan><tspan dy="-3.5" font-size="7">-1</tspan><tspan dy="3.5"> / s</tspan><tspan dy="-3.5" font-size="7">-1</tspan></text>
</svg>
</body></html>
